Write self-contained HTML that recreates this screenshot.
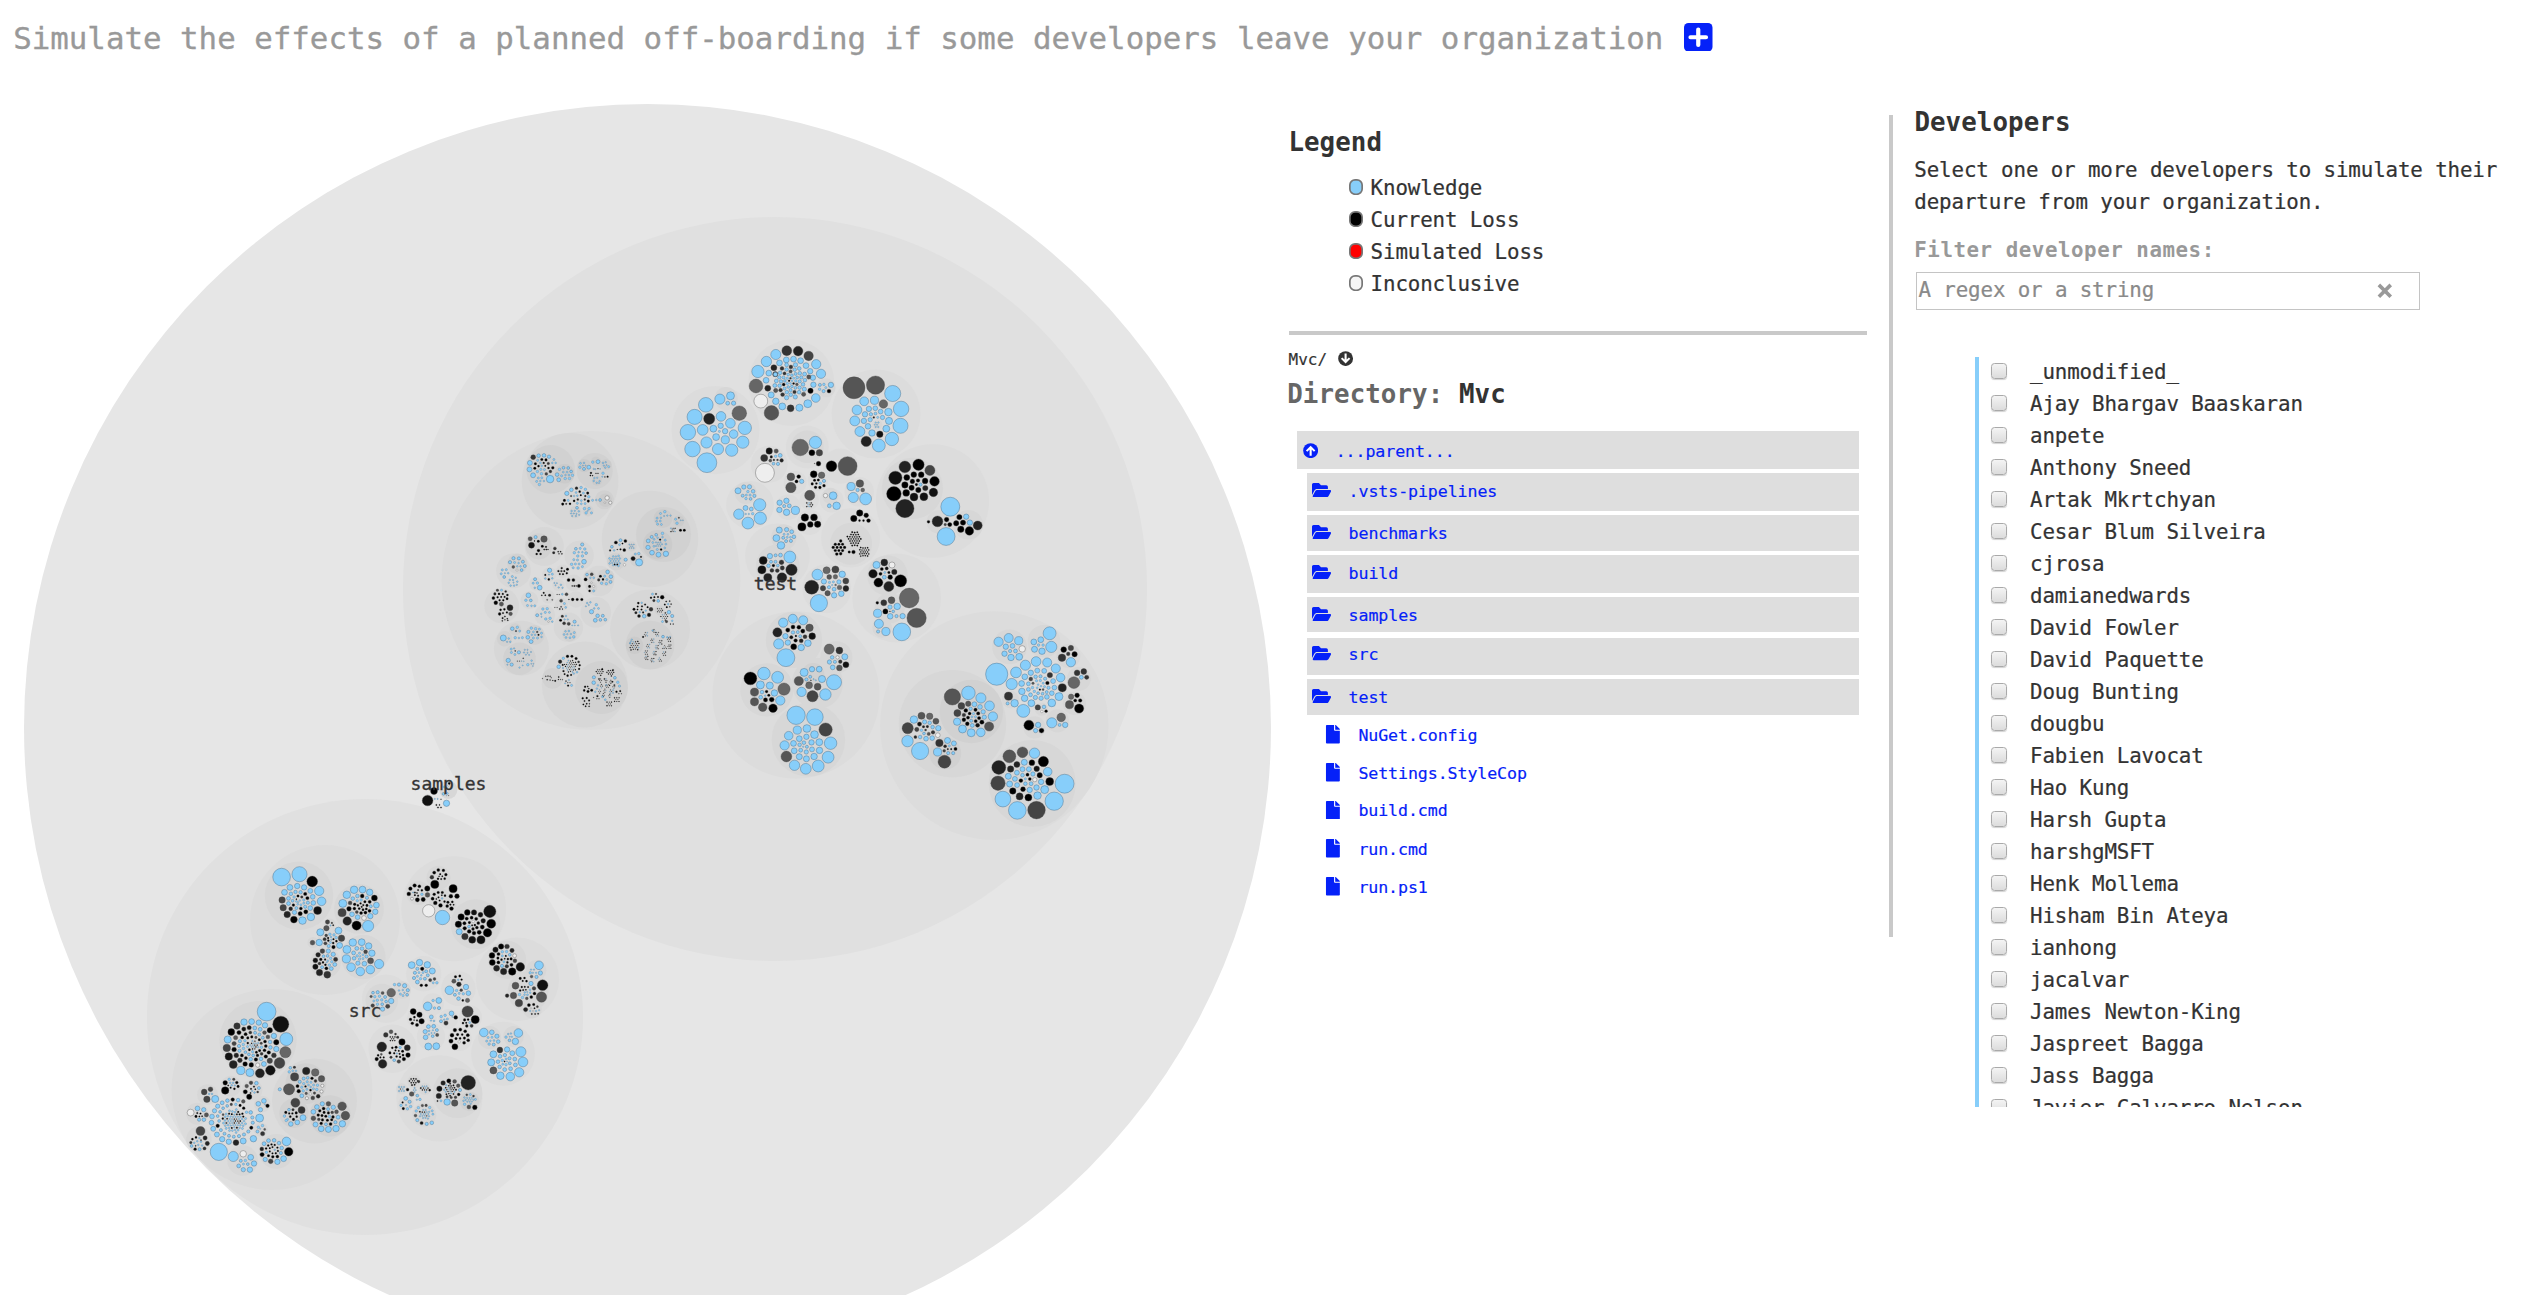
<!DOCTYPE html>
<html lang="en"><head><meta charset="utf-8"><title>Off-boarding simulation</title>
<style>
html,body{margin:0;padding:0;background:#fff}
body{width:2541px;height:1302px;overflow:hidden;position:relative;font-family:"DejaVu Sans Mono","Liberation Mono",monospace}
.t{position:absolute;white-space:pre}
.i{position:absolute;display:block}
.row{position:absolute;background:#dedede}
.lm{position:absolute;width:10.400px;height:12.100px;border:1.750px solid #777;border-radius:6px}
.cb{position:absolute;width:14px;height:14px;border:1px solid #a9a9a9;border-radius:3.500px;background:linear-gradient(#f4f4f4,#dcdcdc);box-shadow:0 1px 1px rgba(0,0,0,.18)}
#viz{position:absolute;left:0;top:0}
#viz text{font-family:"DejaVu Sans Mono","Liberation Mono",monospace;font-size:18px;fill:#333;text-anchor:middle;stroke:#333;stroke-width:.35px}
</style></head>
<body>
<svg id="viz" width="1300" height="1294.5" viewBox="0 0 1300 1294.5">
<circle cx="647.5" cy="727.5" r="623.5" fill="#e6e6e6"/>
<circle cx="775.0" cy="589.0" r="372.0" fill="#e0e0e0"/>
<circle cx="365.0" cy="1017.0" r="218.0" fill="#e0e0e0"/>
<circle cx="591.0" cy="580.5" r="149.5" fill="#dcdcdc"/>
<circle cx="796.0" cy="695.0" r="83.7" fill="#dcdcdc"/>
<circle cx="994.3" cy="725.6" r="114.3" fill="#dcdcdc"/>
<circle cx="896.7" cy="598.0" r="44.5" fill="#dcdcdc"/>
<circle cx="826.7" cy="588.7" r="24.5" fill="#dcdcdc"/>
<circle cx="777.5" cy="556.0" r="32.5" fill="#dcdcdc"/>
<circle cx="715.5" cy="430.1" r="44.1" fill="#dcdcdc"/>
<circle cx="791.3" cy="382.8" r="43.2" fill="#dcdcdc"/>
<circle cx="876.1" cy="414.0" r="44.6" fill="#dcdcdc"/>
<circle cx="932.5" cy="501.0" r="56.7" fill="#dcdcdc"/>
<circle cx="840.4" cy="466.1" r="17.7" fill="#dcdcdc"/>
<circle cx="807.3" cy="447.0" r="21.5" fill="#dcdcdc"/>
<circle cx="769.2" cy="464.2" r="18.5" fill="#dcdcdc"/>
<circle cx="795.2" cy="482.5" r="11.6" fill="#dcdcdc"/>
<circle cx="818.0" cy="480.6" r="10.5" fill="#dcdcdc"/>
<circle cx="809.2" cy="500.0" r="9.9" fill="#dcdcdc"/>
<circle cx="831.8" cy="500.4" r="12.0" fill="#dcdcdc"/>
<circle cx="859.2" cy="491.8" r="14.8" fill="#dcdcdc"/>
<circle cx="750.0" cy="504.9" r="24.0" fill="#dcdcdc"/>
<circle cx="788.2" cy="507.2" r="12.7" fill="#dcdcdc"/>
<circle cx="809.7" cy="522.3" r="12.7" fill="#dcdcdc"/>
<circle cx="850.6" cy="537.8" r="29.6" fill="#dcdcdc"/>
<circle cx="325.0" cy="920.0" r="75.0" fill="#dcdcdc"/>
<circle cx="453.7" cy="908.7" r="52.5" fill="#dcdcdc"/>
<circle cx="423.7" cy="973.7" r="17.7" fill="#dcdcdc"/>
<circle cx="517.5" cy="979.2" r="41.7" fill="#dcdcdc"/>
<circle cx="458.4" cy="988.6" r="17.4" fill="#dcdcdc"/>
<circle cx="386.0" cy="998.7" r="24.2" fill="#dcdcdc"/>
<circle cx="432.9" cy="1004.2" r="11.0" fill="#dcdcdc"/>
<circle cx="416.2" cy="1018.2" r="9.5" fill="#dcdcdc"/>
<circle cx="448.3" cy="1019.0" r="9.9" fill="#dcdcdc"/>
<circle cx="432.0" cy="1018.7" r="4.8" fill="#dcdcdc"/>
<circle cx="470.5" cy="1017.2" r="11.6" fill="#dcdcdc"/>
<circle cx="431.0" cy="1036.6" r="14.2" fill="#dcdcdc"/>
<circle cx="459.8" cy="1038.9" r="12.0" fill="#dcdcdc"/>
<circle cx="392.5" cy="1048.7" r="24.2" fill="#dcdcdc"/>
<circle cx="503.0" cy="1053.7" r="32.0" fill="#dcdcdc"/>
<circle cx="272.0" cy="1089.5" r="100.5" fill="#dcdcdc"/>
<circle cx="439.4" cy="1098.4" r="43.2" fill="#dcdcdc"/>
<circle cx="448.3" cy="789.8" r="9.1" fill="#d7d7d7"/>
<circle cx="726.1" cy="398.6" r="11.6" fill="#d7d7d7"/>
<circle cx="826.1" cy="387.8" r="9.5" fill="#d7d7d7"/>
<circle cx="877.1" cy="424.7" r="5.2" fill="#d7d7d7"/>
<circle cx="912.4" cy="488.4" r="30.6" fill="#d7d7d7"/>
<circle cx="938.2" cy="521.9" r="11.6" fill="#d7d7d7"/>
<circle cx="968.3" cy="524.7" r="14.8" fill="#d7d7d7"/>
<circle cx="807.3" cy="446.7" r="16.3" fill="#d7d7d7"/>
<circle cx="830.5" cy="495.9" r="8.1" fill="#d7d7d7"/>
<circle cx="745.8" cy="492.9" r="11.0" fill="#d7d7d7"/>
<circle cx="851.1" cy="543.8" r="21.0" fill="#d7d7d7"/>
<circle cx="783.9" cy="537.3" r="12.7" fill="#d7d7d7"/>
<circle cx="777.8" cy="566.3" r="22.0" fill="#d7d7d7"/>
<circle cx="887.5" cy="575.4" r="20.2" fill="#d7d7d7"/>
<circle cx="889.7" cy="608.2" r="15.1" fill="#d7d7d7"/>
<circle cx="882.2" cy="627.8" r="9.9" fill="#d7d7d7"/>
<circle cx="794.0" cy="639.9" r="28.2" fill="#d7d7d7"/>
<circle cx="836.4" cy="657.4" r="16.1" fill="#d7d7d7"/>
<circle cx="766.8" cy="689.9" r="26.6" fill="#d7d7d7"/>
<circle cx="817.4" cy="683.3" r="25.6" fill="#d7d7d7"/>
<circle cx="808.4" cy="739.7" r="36.8" fill="#d7d7d7"/>
<circle cx="952.5" cy="723.7" r="53.7" fill="#d7d7d7"/>
<circle cx="1009.6" cy="646.9" r="17.4" fill="#d7d7d7"/>
<circle cx="1044.0" cy="641.2" r="16.3" fill="#d7d7d7"/>
<circle cx="1068.4" cy="656.1" r="12.0" fill="#d7d7d7"/>
<circle cx="1078.9" cy="678.7" r="12.0" fill="#d7d7d7"/>
<circle cx="1074.4" cy="703.4" r="11.6" fill="#d7d7d7"/>
<circle cx="1057.4" cy="720.8" r="11.6" fill="#d7d7d7"/>
<circle cx="1034.5" cy="727.3" r="11.1" fill="#d7d7d7"/>
<circle cx="1041.6" cy="709.1" r="6.7" fill="#d7d7d7"/>
<circle cx="1010.6" cy="699.6" r="8.8" fill="#d7d7d7"/>
<circle cx="1032.2" cy="783.5" r="43.5" fill="#d7d7d7"/>
<circle cx="299.0" cy="895.7" r="34.2" fill="#d7d7d7"/>
<circle cx="359.0" cy="908.9" r="24.9" fill="#d7d7d7"/>
<circle cx="329.9" cy="924.0" r="5.6" fill="#d7d7d7"/>
<circle cx="313.0" cy="942.5" r="5.6" fill="#d7d7d7"/>
<circle cx="330.5" cy="939.8" r="12.9" fill="#d7d7d7"/>
<circle cx="325.4" cy="962.9" r="15.3" fill="#d7d7d7"/>
<circle cx="363.3" cy="957.0" r="22.3" fill="#d7d7d7"/>
<circle cx="438.5" cy="877.7" r="12.0" fill="#d7d7d7"/>
<circle cx="418.1" cy="893.0" r="12.0" fill="#d7d7d7"/>
<circle cx="439.4" cy="898.9" r="10.8" fill="#d7d7d7"/>
<circle cx="450.2" cy="905.4" r="6.2" fill="#d7d7d7"/>
<circle cx="475.6" cy="924.2" r="24.9" fill="#d7d7d7"/>
<circle cx="507.1" cy="959.9" r="19.1" fill="#d7d7d7"/>
<circle cx="536.1" cy="970.3" r="10.4" fill="#d7d7d7"/>
<circle cx="528.1" cy="991.6" r="20.4" fill="#d7d7d7"/>
<circle cx="532.4" cy="1009.0" r="9.5" fill="#d7d7d7"/>
<circle cx="381.8" cy="1000.0" r="16.3" fill="#d7d7d7"/>
<circle cx="402.3" cy="990.0" r="8.8" fill="#d7d7d7"/>
<circle cx="489.6" cy="1037.6" r="11.6" fill="#d7d7d7"/>
<circle cx="513.5" cy="1036.5" r="10.4" fill="#d7d7d7"/>
<circle cx="314.5" cy="1101.0" r="42.5" fill="#d7d7d7"/>
<circle cx="258.0" cy="1039.8" r="38.7" fill="#d7d7d7"/>
<circle cx="207.5" cy="1094.7" r="10.4" fill="#d7d7d7"/>
<circle cx="230.8" cy="1086.1" r="10.4" fill="#d7d7d7"/>
<circle cx="252.1" cy="1089.8" r="10.4" fill="#d7d7d7"/>
<circle cx="197.3" cy="1113.7" r="11.0" fill="#d7d7d7"/>
<circle cx="262.3" cy="1104.1" r="8.3" fill="#d7d7d7"/>
<circle cx="260.7" cy="1129.6" r="7.2" fill="#d7d7d7"/>
<circle cx="198.9" cy="1139.2" r="12.7" fill="#d7d7d7"/>
<circle cx="242.6" cy="1160.5" r="15.3" fill="#d7d7d7"/>
<circle cx="276.3" cy="1151.4" r="17.4" fill="#d7d7d7"/>
<circle cx="457.6" cy="1093.2" r="24.9" fill="#d7d7d7"/>
<circle cx="414.1" cy="1081.4" r="6.7" fill="#d7d7d7"/>
<circle cx="401.7" cy="1088.9" r="5.6" fill="#d7d7d7"/>
<circle cx="424.8" cy="1088.9" r="6.1" fill="#d7d7d7"/>
<circle cx="406.0" cy="1103.7" r="7.7" fill="#d7d7d7"/>
<circle cx="424.3" cy="1114.7" r="12.0" fill="#d7d7d7"/>
<circle cx="570.1" cy="481.4" r="48.3" fill="#d7d7d7"/>
<circle cx="650.0" cy="539.0" r="48.2" fill="#d7d7d7"/>
<circle cx="544.3" cy="546.5" r="19.5" fill="#d7d7d7"/>
<circle cx="579.1" cy="555.4" r="14.7" fill="#d7d7d7"/>
<circle cx="513.5" cy="570.8" r="17.4" fill="#d7d7d7"/>
<circle cx="549.4" cy="574.6" r="7.2" fill="#d7d7d7"/>
<circle cx="562.7" cy="571.3" r="6.7" fill="#d7d7d7"/>
<circle cx="573.8" cy="582.8" r="8.3" fill="#d7d7d7"/>
<circle cx="535.8" cy="583.7" r="6.7" fill="#d7d7d7"/>
<circle cx="558.4" cy="585.0" r="6.1" fill="#d7d7d7"/>
<circle cx="599.0" cy="581.0" r="15.3" fill="#d7d7d7"/>
<circle cx="529.4" cy="600.1" r="8.8" fill="#d7d7d7"/>
<circle cx="548.0" cy="596.8" r="6.7" fill="#d7d7d7"/>
<circle cx="575.9" cy="599.5" r="8.3" fill="#d7d7d7"/>
<circle cx="561.4" cy="604.5" r="6.7" fill="#d7d7d7"/>
<circle cx="501.7" cy="605.8" r="17.4" fill="#d7d7d7"/>
<circle cx="544.7" cy="615.1" r="10.4" fill="#d7d7d7"/>
<circle cx="568.4" cy="627.3" r="14.7" fill="#d7d7d7"/>
<circle cx="595.8" cy="612.4" r="15.3" fill="#d7d7d7"/>
<circle cx="521.4" cy="648.2" r="27.5" fill="#d7d7d7"/>
<circle cx="650.0" cy="629.5" r="40.0" fill="#d7d7d7"/>
<circle cx="584.8" cy="684.4" r="43.0" fill="#d7d7d7"/>
<circle cx="813.1" cy="674.4" r="11.3" fill="#d1d1d1"/>
<circle cx="945.3" cy="753.4" r="15.9" fill="#d1d1d1"/>
<circle cx="971.4" cy="711.5" r="31.7" fill="#d1d1d1"/>
<circle cx="305.9" cy="1083.7" r="20.4" fill="#d1d1d1"/>
<circle cx="294.0" cy="1113.2" r="14.7" fill="#d1d1d1"/>
<circle cx="330.1" cy="1115.9" r="20.6" fill="#d1d1d1"/>
<circle cx="469.5" cy="1101.3" r="9.9" fill="#d1d1d1"/>
<circle cx="550.6" cy="469.4" r="24.3" fill="#d1d1d1"/>
<circle cx="594.7" cy="471.0" r="18.0" fill="#d1d1d1"/>
<circle cx="575.4" cy="512.1" r="6.1" fill="#d1d1d1"/>
<circle cx="588.0" cy="510.8" r="5.6" fill="#d1d1d1"/>
<circle cx="604.4" cy="499.7" r="9.5" fill="#d1d1d1"/>
<circle cx="663.5" cy="534.5" r="27.5" fill="#d1d1d1"/>
<circle cx="631.6" cy="546.3" r="5.1" fill="#d1d1d1"/>
<circle cx="615.9" cy="561.5" r="9.0" fill="#d1d1d1"/>
<circle cx="637.2" cy="559.7" r="7.2" fill="#d1d1d1"/>
<circle cx="538.8" cy="546.3" r="13.1" fill="#d1d1d1"/>
<circle cx="517.3" cy="563.8" r="10.2" fill="#d1d1d1"/>
<circle cx="589.6" cy="576.4" r="6.1" fill="#d1d1d1"/>
<circle cx="605.7" cy="577.5" r="8.8" fill="#d1d1d1"/>
<circle cx="591.7" cy="587.2" r="5.6" fill="#d1d1d1"/>
<circle cx="569.5" cy="634.5" r="7.2" fill="#d1d1d1"/>
<circle cx="515.2" cy="629.4" r="6.1" fill="#d1d1d1"/>
<circle cx="504.6" cy="638.8" r="7.7" fill="#d1d1d1"/>
<circle cx="534.7" cy="635.0" r="9.9" fill="#d1d1d1"/>
<circle cx="519.5" cy="658.7" r="16.3" fill="#d1d1d1"/>
<circle cx="659.8" cy="610.3" r="5.1" fill="#d1d1d1"/>
<circle cx="650.1" cy="645.0" r="24.3" fill="#d1d1d1"/>
<circle cx="601.4" cy="687.5" r="26.5" fill="#d1d1d1"/>
<circle cx="552.6" cy="678.4" r="10.4" fill="#d1d1d1"/>
<circle cx="564.6" cy="473.7" r="9.9" fill="#cbcbcb"/>
<circle cx="584.2" cy="465.6" r="6.7" fill="#cbcbcb"/>
<circle cx="596.0" cy="461.9" r="5.1" fill="#cbcbcb"/>
<circle cx="606.0" cy="464.8" r="5.6" fill="#cbcbcb"/>
<circle cx="596.9" cy="480.7" r="5.1" fill="#cbcbcb"/>
<circle cx="605.3" cy="500.3" r="6.7" fill="#cbcbcb"/>
<circle cx="663.0" cy="518.5" r="9.4" fill="#cbcbcb"/>
<circle cx="678.8" cy="521.0" r="5.6" fill="#cbcbcb"/>
<circle cx="657.6" cy="544.7" r="14.7" fill="#cbcbcb"/>
<circle cx="634.5" cy="645.2" r="8.8" fill="#cbcbcb"/>
<g stroke="#4d6f8a" stroke-width="0.45" fill="#87cefa">
<circle cx="706.9" cy="462.7" r="9.89"/>
<circle cx="692.5" cy="449.1" r="7.74"/>
<circle cx="687.9" cy="432.2" r="7.74"/>
<circle cx="694.6" cy="416.9" r="7.53"/>
<circle cx="705.8" cy="404.8" r="7.31"/>
<circle cx="719.9" cy="399.1" r="5.05"/>
<circle cx="730.5" cy="395.8" r="3.98"/>
<circle cx="721.0" cy="416.4" r="4.84"/>
<circle cx="730.4" cy="423.3" r="4.84"/>
<circle cx="744.8" cy="427.9" r="6.67"/>
<circle cx="742.8" cy="442.2" r="6.13"/>
<circle cx="731.7" cy="450.2" r="6.13"/>
<circle cx="718.0" cy="449.1" r="5.59"/>
<circle cx="706.5" cy="442.5" r="5.59"/>
<circle cx="702.7" cy="429.9" r="5.38"/>
<circle cx="713.4" cy="428.7" r="3.44"/>
<circle cx="720.7" cy="425.8" r="2.69"/>
<circle cx="725.1" cy="431.2" r="2.69"/>
<circle cx="733.6" cy="434.1" r="4.30"/>
<circle cx="725.3" cy="439.8" r="4.09"/>
<circle cx="716.1" cy="437.1" r="3.44"/>
<circle cx="775.8" cy="354.5" r="5.05"/>
<circle cx="766.4" cy="361.5" r="5.16"/>
<circle cx="757.9" cy="371.5" r="6.13"/>
<circle cx="816.2" cy="364.2" r="4.62"/>
<circle cx="821.0" cy="373.8" r="4.62"/>
<circle cx="815.8" cy="398.0" r="4.30"/>
<circle cx="807.8" cy="403.7" r="3.98"/>
<circle cx="799.4" cy="407.7" r="3.55"/>
<circle cx="782.3" cy="406.4" r="3.44"/>
<circle cx="775.8" cy="401.3" r="3.23"/>
<circle cx="771.2" cy="394.9" r="3.01"/>
<circle cx="813.4" cy="384.7" r="2.69"/>
<circle cx="812.9" cy="377.7" r="2.69"/>
<circle cx="810.2" cy="371.2" r="2.69"/>
<circle cx="806.0" cy="365.6" r="2.90"/>
<circle cx="800.6" cy="360.7" r="2.90"/>
<circle cx="793.5" cy="359.1" r="2.90"/>
<circle cx="786.3" cy="359.9" r="2.90"/>
<circle cx="779.5" cy="362.9" r="2.90"/>
<circle cx="768.8" cy="373.1" r="2.90"/>
<circle cx="766.1" cy="380.3" r="2.90"/>
<circle cx="830.9" cy="384.9" r="2.69"/>
<circle cx="892.7" cy="393.5" r="8.06"/>
<circle cx="901.1" cy="408.9" r="7.74"/>
<circle cx="900.5" cy="425.8" r="7.53"/>
<circle cx="891.9" cy="439.0" r="6.67"/>
<circle cx="878.8" cy="445.5" r="6.45"/>
<circle cx="859.9" cy="431.5" r="4.95"/>
<circle cx="854.8" cy="420.9" r="4.95"/>
<circle cx="857.0" cy="410.0" r="4.84"/>
<circle cx="864.2" cy="401.3" r="4.41"/>
<circle cx="874.5" cy="400.3" r="4.09"/>
<circle cx="888.4" cy="412.1" r="3.76"/>
<circle cx="889.0" cy="420.9" r="3.55"/>
<circle cx="886.3" cy="428.7" r="3.44"/>
<circle cx="872.0" cy="433.0" r="3.23"/>
<circle cx="868.0" cy="426.3" r="2.80"/>
<circle cx="863.9" cy="420.9" r="2.69"/>
<circle cx="865.0" cy="414.3" r="2.69"/>
<circle cx="868.9" cy="408.9" r="2.69"/>
<circle cx="950.3" cy="506.7" r="9.46"/>
<circle cx="946.1" cy="536.5" r="8.92"/>
<circle cx="966.2" cy="516.7" r="2.69"/>
<circle cx="969.9" cy="522.6" r="2.69"/>
<circle cx="815.4" cy="442.4" r="6.13"/>
<circle cx="833.1" cy="495.7" r="3.87"/>
<circle cx="836.6" cy="505.8" r="3.76"/>
<circle cx="851.1" cy="486.5" r="4.09"/>
<circle cx="853.3" cy="497.5" r="5.05"/>
<circle cx="865.6" cy="498.9" r="5.91"/>
<circle cx="738.0" cy="490.8" r="3.01"/>
<circle cx="759.7" cy="504.8" r="6.13"/>
<circle cx="738.8" cy="514.2" r="5.16"/>
<circle cx="760.3" cy="518.2" r="6.13"/>
<circle cx="747.9" cy="523.1" r="5.91"/>
<circle cx="779.6" cy="502.7" r="2.69"/>
<circle cx="786.4" cy="500.8" r="2.69"/>
<circle cx="779.4" cy="509.9" r="2.69"/>
<circle cx="786.6" cy="512.3" r="3.23"/>
<circle cx="795.4" cy="510.4" r="4.09"/>
<circle cx="779.3" cy="530.1" r="3.01"/>
<circle cx="776.4" cy="538.1" r="3.44"/>
<circle cx="781.0" cy="545.4" r="3.76"/>
<circle cx="789.8" cy="557.0" r="5.91"/>
<circle cx="769.9" cy="556.1" r="2.69"/>
<circle cx="817.4" cy="574.6" r="5.38"/>
<circle cx="842.2" cy="574.3" r="3.23"/>
<circle cx="841.3" cy="593.7" r="2.80"/>
<circle cx="834.1" cy="595.3" r="2.69"/>
<circle cx="818.9" cy="603.1" r="8.60"/>
<circle cx="823.9" cy="581.5" r="2.58"/>
<circle cx="876.5" cy="564.9" r="3.55"/>
<circle cx="901.8" cy="631.9" r="8.82"/>
<circle cx="897.2" cy="606.4" r="3.23"/>
<circle cx="877.6" cy="613.3" r="4.09"/>
<circle cx="890.2" cy="616.3" r="2.80"/>
<circle cx="902.6" cy="616.1" r="2.69"/>
<circle cx="878.9" cy="623.8" r="4.52"/>
<circle cx="885.9" cy="631.5" r="4.09"/>
<circle cx="783.2" cy="622.7" r="4.62"/>
<circle cx="792.8" cy="618.8" r="4.52"/>
<circle cx="803.2" cy="620.3" r="4.52"/>
<circle cx="807.9" cy="643.2" r="3.33"/>
<circle cx="801.2" cy="647.5" r="3.23"/>
<circle cx="787.8" cy="642.6" r="2.69"/>
<circle cx="785.4" cy="636.2" r="2.69"/>
<circle cx="778.7" cy="643.9" r="5.05"/>
<circle cx="785.9" cy="657.7" r="8.92"/>
<circle cx="844.8" cy="656.8" r="3.01"/>
<circle cx="763.9" cy="673.5" r="6.24"/>
<circle cx="777.6" cy="677.3" r="5.91"/>
<circle cx="780.3" cy="700.5" r="4.62"/>
<circle cx="760.4" cy="684.9" r="3.98"/>
<circle cx="769.8" cy="685.6" r="3.55"/>
<circle cx="774.4" cy="693.0" r="3.23"/>
<circle cx="804.1" cy="672.4" r="3.98"/>
<circle cx="812.0" cy="669.2" r="2.69"/>
<circle cx="819.2" cy="669.2" r="2.90"/>
<circle cx="822.0" cy="679.0" r="3.55"/>
<circle cx="834.0" cy="682.2" r="7.53"/>
<circle cx="825.4" cy="694.5" r="5.70"/>
<circle cx="801.6" cy="691.9" r="4.62"/>
<circle cx="796.1" cy="715.3" r="9.14"/>
<circle cx="814.9" cy="717.1" r="8.28"/>
<circle cx="830.6" cy="743.2" r="6.24"/>
<circle cx="828.1" cy="757.2" r="5.91"/>
<circle cx="818.2" cy="766.0" r="5.91"/>
<circle cx="805.8" cy="768.8" r="5.38"/>
<circle cx="794.5" cy="765.3" r="5.16"/>
<circle cx="784.6" cy="745.4" r="4.62"/>
<circle cx="788.7" cy="735.7" r="4.30"/>
<circle cx="797.3" cy="730.1" r="4.09"/>
<circle cx="806.9" cy="728.5" r="3.87"/>
<circle cx="814.5" cy="734.6" r="3.87"/>
<circle cx="819.3" cy="742.2" r="3.44"/>
<circle cx="819.5" cy="750.4" r="3.23"/>
<circle cx="814.1" cy="756.5" r="3.23"/>
<circle cx="806.4" cy="758.8" r="3.01"/>
<circle cx="799.3" cy="756.7" r="3.01"/>
<circle cx="794.2" cy="750.8" r="2.90"/>
<circle cx="793.5" cy="743.4" r="2.90"/>
<circle cx="799.3" cy="738.7" r="2.90"/>
<circle cx="806.4" cy="736.8" r="2.69"/>
<circle cx="811.5" cy="742.4" r="2.69"/>
<circle cx="913.9" cy="719.6" r="3.76"/>
<circle cx="938.3" cy="728.2" r="2.69"/>
<circle cx="907.5" cy="741.1" r="5.70"/>
<circle cx="920.1" cy="751.0" r="8.60"/>
<circle cx="947.5" cy="740.5" r="3.01"/>
<circle cx="937.6" cy="752.0" r="4.09"/>
<circle cx="968.4" cy="692.9" r="6.77"/>
<circle cx="980.9" cy="698.0" r="5.05"/>
<circle cx="989.5" cy="705.8" r="4.84"/>
<circle cx="992.9" cy="716.5" r="4.62"/>
<circle cx="980.8" cy="732.4" r="4.30"/>
<circle cx="971.2" cy="732.8" r="3.98"/>
<circle cx="962.5" cy="729.0" r="3.98"/>
<circle cx="957.1" cy="721.7" r="3.66"/>
<circle cx="998.6" cy="641.8" r="4.62"/>
<circle cx="1008.7" cy="638.0" r="4.52"/>
<circle cx="1018.7" cy="640.7" r="4.09"/>
<circle cx="1019.2" cy="656.8" r="3.44"/>
<circle cx="1011.0" cy="657.5" r="3.23"/>
<circle cx="1004.5" cy="653.7" r="2.69"/>
<circle cx="1005.8" cy="646.7" r="2.69"/>
<circle cx="1049.6" cy="633.3" r="6.45"/>
<circle cx="1051.3" cy="646.9" r="5.59"/>
<circle cx="1042.0" cy="651.2" r="3.23"/>
<circle cx="1034.5" cy="649.3" r="3.01"/>
<circle cx="1033.8" cy="641.9" r="2.90"/>
<circle cx="1040.8" cy="639.7" r="2.90"/>
<circle cx="1070.9" cy="662.2" r="4.62"/>
<circle cx="1051.8" cy="722.8" r="5.05"/>
<circle cx="1065.2" cy="724.9" r="2.69"/>
<circle cx="1038.1" cy="724.9" r="2.69"/>
<circle cx="1014.6" cy="703.2" r="3.76"/>
<circle cx="996.7" cy="674.2" r="11.08"/>
<circle cx="1011.7" cy="684.0" r="5.59"/>
<circle cx="1016.0" cy="672.4" r="5.38"/>
<circle cx="1025.4" cy="665.2" r="5.05"/>
<circle cx="1036.1" cy="661.5" r="4.84"/>
<circle cx="1047.2" cy="662.5" r="4.52"/>
<circle cx="1055.8" cy="668.5" r="4.52"/>
<circle cx="1060.6" cy="677.6" r="4.30"/>
<circle cx="1059.0" cy="696.6" r="3.98"/>
<circle cx="1051.8" cy="702.9" r="3.87"/>
<circle cx="1023.3" cy="710.9" r="6.45"/>
<circle cx="1031.4" cy="703.2" r="3.44"/>
<circle cx="1024.6" cy="698.3" r="3.23"/>
<circle cx="1021.9" cy="691.4" r="3.23"/>
<circle cx="1021.6" cy="683.5" r="2.90"/>
<circle cx="1024.8" cy="676.8" r="2.90"/>
<circle cx="1030.8" cy="672.8" r="2.69"/>
<circle cx="1034.5" cy="753.2" r="5.16"/>
<circle cx="1002.9" cy="799.1" r="7.85"/>
<circle cx="1017.3" cy="810.4" r="8.82"/>
<circle cx="1054.2" cy="801.2" r="9.14"/>
<circle cx="1064.6" cy="783.7" r="9.46"/>
<circle cx="1047.7" cy="771.7" r="4.30"/>
<circle cx="1044.7" cy="789.6" r="3.98"/>
<circle cx="1037.5" cy="795.6" r="3.76"/>
<circle cx="1009.6" cy="784.0" r="3.01"/>
<circle cx="1008.3" cy="776.3" r="3.01"/>
<circle cx="1024.3" cy="762.3" r="3.01"/>
<circle cx="1041.1" cy="781.9" r="2.69"/>
<circle cx="1036.5" cy="787.5" r="2.69"/>
<circle cx="1029.7" cy="789.9" r="2.69"/>
<circle cx="281.6" cy="877.1" r="8.82"/>
<circle cx="299.5" cy="874.2" r="7.53"/>
<circle cx="319.2" cy="890.9" r="4.62"/>
<circle cx="321.6" cy="901.3" r="4.30"/>
<circle cx="310.9" cy="917.0" r="3.76"/>
<circle cx="302.5" cy="920.6" r="3.76"/>
<circle cx="284.5" cy="892.3" r="2.90"/>
<circle cx="289.9" cy="887.4" r="2.90"/>
<circle cx="297.2" cy="886.0" r="2.69"/>
<circle cx="304.1" cy="887.4" r="2.69"/>
<circle cx="354.1" cy="889.8" r="3.76"/>
<circle cx="362.5" cy="889.6" r="3.44"/>
<circle cx="369.7" cy="892.3" r="3.23"/>
<circle cx="376.4" cy="905.1" r="2.90"/>
<circle cx="375.3" cy="911.8" r="2.69"/>
<circle cx="370.3" cy="916.1" r="2.69"/>
<circle cx="368.1" cy="926.0" r="5.59"/>
<circle cx="342.8" cy="903.4" r="3.98"/>
<circle cx="346.8" cy="894.8" r="3.76"/>
<circle cx="320.3" cy="932.3" r="3.55"/>
<circle cx="338.5" cy="930.6" r="3.44"/>
<circle cx="339.6" cy="945.4" r="3.01"/>
<circle cx="319.2" cy="942.5" r="3.23"/>
<circle cx="352.8" cy="942.5" r="3.76"/>
<circle cx="361.7" cy="942.2" r="3.44"/>
<circle cx="368.7" cy="946.0" r="3.23"/>
<circle cx="371.9" cy="953.2" r="3.23"/>
<circle cx="379.1" cy="964.0" r="4.62"/>
<circle cx="370.3" cy="969.6" r="4.30"/>
<circle cx="360.3" cy="971.5" r="4.30"/>
<circle cx="351.1" cy="967.2" r="4.30"/>
<circle cx="346.4" cy="958.9" r="4.09"/>
<circle cx="346.9" cy="949.5" r="3.98"/>
<circle cx="442.5" cy="917.5" r="7.20"/>
<circle cx="459.2" cy="931.7" r="3.01"/>
<circle cx="411.7" cy="965.1" r="3.44"/>
<circle cx="419.5" cy="962.6" r="3.23"/>
<circle cx="427.3" cy="964.8" r="3.23"/>
<circle cx="432.3" cy="971.0" r="3.01"/>
<circle cx="539.0" cy="965.3" r="4.30"/>
<circle cx="449.4" cy="990.3" r="4.30"/>
<circle cx="466.0" cy="987.0" r="2.69"/>
<circle cx="391.2" cy="1001.0" r="2.69"/>
<circle cx="427.7" cy="1006.3" r="4.30"/>
<circle cx="438.8" cy="1000.5" r="2.90"/>
<circle cx="428.3" cy="1046.5" r="3.44"/>
<circle cx="436.3" cy="1046.2" r="3.44"/>
<circle cx="483.8" cy="1032.5" r="4.30"/>
<circle cx="518.4" cy="1033.0" r="4.30"/>
<circle cx="515.4" cy="1041.4" r="3.23"/>
<circle cx="507.1" cy="1049.5" r="2.69"/>
<circle cx="520.9" cy="1051.8" r="5.05"/>
<circle cx="523.0" cy="1062.0" r="4.84"/>
<circle cx="519.2" cy="1072.3" r="4.62"/>
<circle cx="510.3" cy="1076.6" r="4.30"/>
<circle cx="500.4" cy="1075.7" r="3.76"/>
<circle cx="491.2" cy="1062.4" r="3.55"/>
<circle cx="493.4" cy="1054.3" r="3.44"/>
<circle cx="266.6" cy="1011.6" r="9.35"/>
<circle cx="286.3" cy="1039.1" r="6.45"/>
<circle cx="249.9" cy="1072.6" r="3.98"/>
<circle cx="240.8" cy="1070.5" r="4.09"/>
<circle cx="227.7" cy="1039.5" r="3.55"/>
<circle cx="244.0" cy="1022.1" r="3.23"/>
<circle cx="251.6" cy="1021.6" r="2.90"/>
<circle cx="258.8" cy="1022.6" r="2.69"/>
<circle cx="265.0" cy="1025.3" r="2.69"/>
<circle cx="273.9" cy="1035.9" r="2.69"/>
<circle cx="276.3" cy="1049.0" r="2.69"/>
<circle cx="215.2" cy="1099.0" r="3.55"/>
<circle cx="259.6" cy="1118.1" r="3.98"/>
<circle cx="253.4" cy="1138.7" r="3.23"/>
<circle cx="243.2" cy="1141.0" r="3.01"/>
<circle cx="228.8" cy="1141.7" r="2.69"/>
<circle cx="222.2" cy="1139.2" r="2.69"/>
<circle cx="218.8" cy="1151.9" r="8.60"/>
<circle cx="233.3" cy="1156.5" r="5.05"/>
<circle cx="250.7" cy="1157.3" r="2.90"/>
<circle cx="254.0" cy="1163.5" r="2.69"/>
<circle cx="249.9" cy="1169.7" r="2.69"/>
<circle cx="286.5" cy="1141.4" r="4.30"/>
<circle cx="283.6" cy="1158.7" r="2.90"/>
<circle cx="277.4" cy="1161.8" r="2.69"/>
<circle cx="303.0" cy="1117.7" r="3.01"/>
<circle cx="342.4" cy="1123.8" r="3.23"/>
<circle cx="336.0" cy="1128.6" r="3.23"/>
<circle cx="328.4" cy="1129.4" r="3.01"/>
<circle cx="321.2" cy="1128.8" r="2.90"/>
<circle cx="447.1" cy="1102.0" r="3.23"/>
<circle cx="446.5" cy="803.3" r="3.15"/>
<circle cx="550.1" cy="479.1" r="3.76"/>
<circle cx="665.9" cy="553.8" r="2.69"/>
<circle cx="639.1" cy="562.4" r="3.55"/>
<circle cx="503.3" cy="638.0" r="3.01"/>
</g><g stroke="#444" stroke-width="0.36">
<circle cx="739.3" cy="413.2" r="7.31" fill="#666"/>
<circle cx="709.2" cy="418.8" r="5.59" fill="#222"/>
<circle cx="786.8" cy="350.7" r="4.95" fill="#333"/>
<circle cx="798.1" cy="351.1" r="4.84" fill="#222"/>
<circle cx="808.6" cy="355.9" r="4.73" fill="#444"/>
<circle cx="756.0" cy="386.0" r="6.88" fill="#666"/>
<circle cx="760.8" cy="401.1" r="6.88" fill="#eee"/>
<circle cx="771.5" cy="412.9" r="7.31" fill="#555"/>
<circle cx="790.6" cy="408.3" r="3.44" fill="#333"/>
<circle cx="767.8" cy="388.2" r="3.01" fill="#222"/>
<circle cx="810.5" cy="390.8" r="2.69" fill="#000"/>
<circle cx="773.9" cy="367.7" r="3.01" fill="#222"/>
<circle cx="775.3" cy="374.2" r="2.58" fill="#333"/>
<circle cx="854.0" cy="387.8" r="10.97" fill="#555"/>
<circle cx="875.5" cy="385.1" r="9.14" fill="#555"/>
<circle cx="866.2" cy="441.4" r="5.16" fill="#222"/>
<circle cx="879.8" cy="434.2" r="3.23" fill="#111"/>
<circle cx="883.4" cy="404.0" r="4.30" fill="#666"/>
<circle cx="904.9" cy="466.9" r="5.91" fill="#222"/>
<circle cx="918.5" cy="464.7" r="5.70" fill="#000"/>
<circle cx="929.9" cy="470.4" r="5.05" fill="#444"/>
<circle cx="934.5" cy="481.4" r="4.84" fill="#000"/>
<circle cx="933.4" cy="492.4" r="4.30" fill="#111"/>
<circle cx="923.9" cy="496.7" r="3.98" fill="#111"/>
<circle cx="914.0" cy="497.0" r="3.98" fill="#111"/>
<circle cx="906.2" cy="492.9" r="3.44" fill="#000"/>
<circle cx="893.9" cy="493.8" r="7.31" fill="#000"/>
<circle cx="895.4" cy="477.8" r="6.67" fill="#111"/>
<circle cx="904.9" cy="508.5" r="9.14" fill="#222"/>
<circle cx="906.8" cy="477.6" r="3.01" fill="#000"/>
<circle cx="913.8" cy="474.6" r="2.90" fill="#000"/>
<circle cx="921.2" cy="474.7" r="2.90" fill="#000"/>
<circle cx="925.1" cy="480.9" r="2.90" fill="#000"/>
<circle cx="925.3" cy="488.1" r="2.69" fill="#222"/>
<circle cx="918.3" cy="490.0" r="2.69" fill="#000"/>
<circle cx="911.6" cy="487.8" r="2.69" fill="#000"/>
<circle cx="904.9" cy="484.9" r="3.23" fill="#000"/>
<circle cx="937.5" cy="521.4" r="5.38" fill="#222"/>
<circle cx="959.4" cy="517.1" r="2.69" fill="#000"/>
<circle cx="956.2" cy="523.3" r="2.69" fill="#000"/>
<circle cx="963.0" cy="522.6" r="2.69" fill="#000"/>
<circle cx="977.7" cy="525.5" r="4.52" fill="#222"/>
<circle cx="960.8" cy="529.2" r="3.23" fill="#000"/>
<circle cx="969.4" cy="530.9" r="4.30" fill="#000"/>
<circle cx="831.5" cy="466.1" r="5.38" fill="#000"/>
<circle cx="847.6" cy="466.1" r="9.46" fill="#555"/>
<circle cx="800.3" cy="447.5" r="8.28" fill="#666"/>
<circle cx="811.9" cy="452.7" r="3.01" fill="#000"/>
<circle cx="819.4" cy="452.7" r="3.23" fill="#444"/>
<circle cx="769.2" cy="451.0" r="3.23" fill="#111"/>
<circle cx="764.2" cy="458.0" r="3.55" fill="#333"/>
<circle cx="764.9" cy="472.8" r="9.46" fill="#eee"/>
<circle cx="790.9" cy="476.8" r="3.87" fill="#555"/>
<circle cx="790.9" cy="487.5" r="5.16" fill="#555"/>
<circle cx="813.7" cy="474.2" r="3.44" fill="#000"/>
<circle cx="821.6" cy="475.2" r="3.23" fill="#666"/>
<circle cx="809.7" cy="495.4" r="5.05" fill="#555"/>
<circle cx="859.9" cy="483.5" r="3.76" fill="#555"/>
<circle cx="804.9" cy="517.6" r="3.76" fill="#000"/>
<circle cx="814.0" cy="517.4" r="3.44" fill="#000"/>
<circle cx="801.9" cy="526.9" r="4.09" fill="#000"/>
<circle cx="810.3" cy="524.4" r="2.90" fill="#000"/>
<circle cx="817.6" cy="524.2" r="3.23" fill="#000"/>
<circle cx="859.7" cy="513.1" r="3.23" fill="#000"/>
<circle cx="853.8" cy="518.5" r="3.23" fill="#000"/>
<circle cx="763.2" cy="560.4" r="3.98" fill="#111"/>
<circle cx="791.5" cy="569.8" r="5.70" fill="#222"/>
<circle cx="761.9" cy="569.8" r="4.09" fill="#111"/>
<circle cx="767.8" cy="577.6" r="4.09" fill="#222"/>
<circle cx="782.0" cy="577.6" r="4.84" fill="#222"/>
<circle cx="826.6" cy="570.3" r="3.55" fill="#666"/>
<circle cx="835.4" cy="569.5" r="3.55" fill="#444"/>
<circle cx="845.8" cy="581.0" r="3.01" fill="#444"/>
<circle cx="845.9" cy="588.5" r="2.90" fill="#222"/>
<circle cx="827.6" cy="593.2" r="2.69" fill="#555"/>
<circle cx="823.0" cy="588.3" r="2.69" fill="#444"/>
<circle cx="811.7" cy="587.2" r="6.99" fill="#222"/>
<circle cx="884.3" cy="562.5" r="3.44" fill="#222"/>
<circle cx="892.0" cy="565.0" r="3.01" fill="#eee"/>
<circle cx="873.0" cy="573.8" r="4.30" fill="#111"/>
<circle cx="894.3" cy="571.9" r="2.69" fill="#222"/>
<circle cx="900.6" cy="580.8" r="6.13" fill="#000"/>
<circle cx="878.4" cy="582.6" r="4.52" fill="#000"/>
<circle cx="888.8" cy="586.5" r="5.05" fill="#222"/>
<circle cx="909.2" cy="598.0" r="9.89" fill="#666"/>
<circle cx="916.6" cy="617.9" r="9.68" fill="#555"/>
<circle cx="883.8" cy="602.8" r="3.01" fill="#333"/>
<circle cx="891.5" cy="600.2" r="3.44" fill="#555"/>
<circle cx="885.4" cy="611.4" r="2.58" fill="#000"/>
<circle cx="809.5" cy="627.8" r="3.76" fill="#555"/>
<circle cx="812.2" cy="636.2" r="3.33" fill="#111"/>
<circle cx="793.7" cy="646.7" r="3.01" fill="#000"/>
<circle cx="777.4" cy="632.4" r="4.62" fill="#222"/>
<circle cx="829.2" cy="649.1" r="5.05" fill="#666"/>
<circle cx="839.4" cy="650.5" r="3.44" fill="#333"/>
<circle cx="845.9" cy="664.7" r="3.01" fill="#111"/>
<circle cx="839.4" cy="667.9" r="2.90" fill="#555"/>
<circle cx="750.4" cy="678.4" r="6.45" fill="#000"/>
<circle cx="784.0" cy="689.1" r="6.13" fill="#666"/>
<circle cx="773.0" cy="708.2" r="4.30" fill="#000"/>
<circle cx="762.7" cy="707.2" r="4.30" fill="#555"/>
<circle cx="754.5" cy="701.8" r="4.09" fill="#555"/>
<circle cx="754.5" cy="692.1" r="4.09" fill="#555"/>
<circle cx="812.5" cy="696.2" r="5.59" fill="#444"/>
<circle cx="798.8" cy="681.0" r="4.62" fill="#555"/>
<circle cx="809.1" cy="685.3" r="3.44" fill="#666"/>
<circle cx="817.6" cy="686.7" r="3.44" fill="#555"/>
<circle cx="825.6" cy="729.6" r="6.67" fill="#444"/>
<circle cx="786.4" cy="756.5" r="5.38" fill="#555"/>
<circle cx="907.7" cy="728.2" r="5.59" fill="#444"/>
<circle cx="921.5" cy="715.8" r="3.55" fill="#555"/>
<circle cx="929.7" cy="716.3" r="3.23" fill="#666"/>
<circle cx="935.9" cy="721.2" r="3.01" fill="#555"/>
<circle cx="939.4" cy="742.9" r="3.76" fill="#333"/>
<circle cx="944.5" cy="761.7" r="6.45" fill="#444"/>
<circle cx="952.4" cy="696.9" r="8.17" fill="#555"/>
<circle cx="989.1" cy="726.5" r="4.62" fill="#555"/>
<circle cx="957.4" cy="713.1" r="3.55" fill="#444"/>
<circle cx="961.4" cy="705.9" r="3.44" fill="#444"/>
<circle cx="968.2" cy="703.7" r="2.69" fill="#555"/>
<circle cx="1022.2" cy="648.9" r="3.23" fill="#eee"/>
<circle cx="1063.7" cy="649.6" r="2.90" fill="#000"/>
<circle cx="1070.9" cy="648.0" r="2.69" fill="#444"/>
<circle cx="1074.6" cy="654.2" r="2.69" fill="#000"/>
<circle cx="1062.0" cy="657.7" r="3.76" fill="#333"/>
<circle cx="1077.1" cy="672.8" r="2.90" fill="#333"/>
<circle cx="1083.8" cy="671.5" r="2.90" fill="#333"/>
<circle cx="1073.9" cy="682.6" r="5.91" fill="#666"/>
<circle cx="1071.1" cy="696.7" r="2.69" fill="#666"/>
<circle cx="1069.5" cy="704.7" r="4.09" fill="#555"/>
<circle cx="1079.1" cy="708.5" r="4.62" fill="#000"/>
<circle cx="1061.2" cy="717.4" r="4.30" fill="#666"/>
<circle cx="1028.9" cy="725.2" r="5.05" fill="#000"/>
<circle cx="1037.8" cy="707.4" r="2.69" fill="#444"/>
<circle cx="1008.5" cy="696.2" r="4.09" fill="#333"/>
<circle cx="1062.3" cy="687.8" r="4.09" fill="#222"/>
<circle cx="1049.9" cy="675.1" r="2.69" fill="#333"/>
<circle cx="1009.4" cy="756.3" r="6.45" fill="#555"/>
<circle cx="1022.5" cy="752.3" r="5.38" fill="#555"/>
<circle cx="1043.4" cy="761.5" r="5.16" fill="#000"/>
<circle cx="998.8" cy="767.4" r="6.99" fill="#222"/>
<circle cx="998.0" cy="783.2" r="7.20" fill="#444"/>
<circle cx="1036.5" cy="810.1" r="8.82" fill="#444"/>
<circle cx="1049.7" cy="781.6" r="3.98" fill="#000"/>
<circle cx="1028.4" cy="797.5" r="3.55" fill="#000"/>
<circle cx="1019.6" cy="796.4" r="3.55" fill="#222"/>
<circle cx="1012.8" cy="791.0" r="3.23" fill="#000"/>
<circle cx="1010.6" cy="769.0" r="3.23" fill="#222"/>
<circle cx="1016.9" cy="764.5" r="3.01" fill="#222"/>
<circle cx="1031.9" cy="762.7" r="2.90" fill="#000"/>
<circle cx="1036.7" cy="768.7" r="2.80" fill="#111"/>
<circle cx="1039.7" cy="775.2" r="2.69" fill="#000"/>
<circle cx="312.2" cy="881.5" r="5.38" fill="#000"/>
<circle cx="317.6" cy="910.5" r="3.98" fill="#111"/>
<circle cx="293.9" cy="919.6" r="3.44" fill="#000"/>
<circle cx="287.2" cy="914.5" r="3.23" fill="#222"/>
<circle cx="283.2" cy="907.7" r="3.23" fill="#444"/>
<circle cx="282.1" cy="900.0" r="3.23" fill="#444"/>
<circle cx="374.4" cy="898.1" r="3.01" fill="#000"/>
<circle cx="356.6" cy="925.6" r="4.62" fill="#000"/>
<circle cx="347.2" cy="921.0" r="4.30" fill="#222"/>
<circle cx="342.1" cy="912.7" r="4.09" fill="#444"/>
<circle cx="326.4" cy="928.2" r="2.69" fill="#555"/>
<circle cx="341.5" cy="938.2" r="3.23" fill="#444"/>
<circle cx="327.3" cy="974.7" r="3.44" fill="#333"/>
<circle cx="319.5" cy="972.6" r="3.23" fill="#222"/>
<circle cx="315.4" cy="966.7" r="2.69" fill="#111"/>
<circle cx="370.6" cy="960.8" r="3.01" fill="#555"/>
<circle cx="434.8" cy="884.4" r="4.09" fill="#000"/>
<circle cx="427.3" cy="888.5" r="2.69" fill="#000"/>
<circle cx="453.1" cy="888.7" r="4.09" fill="#000"/>
<circle cx="428.7" cy="910.8" r="6.13" fill="#eee"/>
<circle cx="489.8" cy="911.5" r="6.13" fill="#111"/>
<circle cx="491.2" cy="923.7" r="4.52" fill="#000"/>
<circle cx="487.5" cy="932.8" r="4.30" fill="#000"/>
<circle cx="481.0" cy="939.8" r="4.09" fill="#111"/>
<circle cx="472.2" cy="939.8" r="3.55" fill="#111"/>
<circle cx="464.9" cy="936.6" r="3.23" fill="#333"/>
<circle cx="458.4" cy="924.2" r="3.23" fill="#000"/>
<circle cx="461.1" cy="916.9" r="3.23" fill="#000"/>
<circle cx="467.3" cy="912.4" r="2.90" fill="#000"/>
<circle cx="474.0" cy="912.4" r="2.69" fill="#111"/>
<circle cx="501.1" cy="946.5" r="2.69" fill="#000"/>
<circle cx="495.5" cy="949.7" r="2.69" fill="#111"/>
<circle cx="492.0" cy="955.4" r="2.90" fill="#000"/>
<circle cx="492.3" cy="962.4" r="3.01" fill="#000"/>
<circle cx="496.6" cy="968.3" r="3.01" fill="#222"/>
<circle cx="503.6" cy="971.5" r="3.23" fill="#222"/>
<circle cx="512.2" cy="971.5" r="3.76" fill="#000"/>
<circle cx="520.3" cy="966.9" r="4.30" fill="#111"/>
<circle cx="542.6" cy="985.2" r="5.38" fill="#111"/>
<circle cx="541.5" cy="997.0" r="5.16" fill="#555"/>
<circle cx="515.5" cy="985.7" r="3.44" fill="#555"/>
<circle cx="513.5" cy="995.6" r="3.23" fill="#555"/>
<circle cx="518.9" cy="1003.1" r="3.76" fill="#444"/>
<circle cx="391.2" cy="992.7" r="4.30" fill="#666"/>
<circle cx="413.2" cy="1011.5" r="3.01" fill="#000"/>
<circle cx="419.5" cy="1014.7" r="2.69" fill="#000"/>
<circle cx="421.6" cy="1021.2" r="2.69" fill="#000"/>
<circle cx="467.6" cy="1011.5" r="5.59" fill="#444"/>
<circle cx="475.2" cy="1019.6" r="4.09" fill="#000"/>
<circle cx="454.9" cy="1046.8" r="3.01" fill="#000"/>
<circle cx="402.0" cy="1041.9" r="3.23" fill="#000"/>
<circle cx="381.8" cy="1046.8" r="4.84" fill="#222"/>
<circle cx="407.3" cy="1047.8" r="3.01" fill="#222"/>
<circle cx="382.6" cy="1063.9" r="4.30" fill="#222"/>
<circle cx="499.9" cy="1050.0" r="2.90" fill="#333"/>
<circle cx="493.4" cy="1070.4" r="3.55" fill="#555"/>
<circle cx="280.8" cy="1024.2" r="8.06" fill="#111"/>
<circle cx="285.4" cy="1052.2" r="5.59" fill="#666"/>
<circle cx="279.5" cy="1063.0" r="5.38" fill="#444"/>
<circle cx="270.4" cy="1070.3" r="4.84" fill="#111"/>
<circle cx="259.9" cy="1073.2" r="4.52" fill="#222"/>
<circle cx="233.3" cy="1064.6" r="3.98" fill="#222"/>
<circle cx="228.8" cy="1056.5" r="3.76" fill="#111"/>
<circle cx="226.8" cy="1047.9" r="3.76" fill="#444"/>
<circle cx="231.3" cy="1032.0" r="3.44" fill="#000"/>
<circle cx="237.0" cy="1026.1" r="3.23" fill="#333"/>
<circle cx="269.8" cy="1030.2" r="2.69" fill="#000"/>
<circle cx="276.3" cy="1042.3" r="2.69" fill="#000"/>
<circle cx="269.8" cy="1060.8" r="2.69" fill="#444"/>
<circle cx="306.2" cy="1071.0" r="3.76" fill="#222"/>
<circle cx="315.2" cy="1072.4" r="3.76" fill="#666"/>
<circle cx="321.5" cy="1078.8" r="3.23" fill="#555"/>
<circle cx="294.6" cy="1076.9" r="4.09" fill="#444"/>
<circle cx="289.0" cy="1089.3" r="5.59" fill="#555"/>
<circle cx="204.2" cy="1092.0" r="2.90" fill="#444"/>
<circle cx="206.9" cy="1099.3" r="3.23" fill="#444"/>
<circle cx="225.2" cy="1090.4" r="3.76" fill="#000"/>
<circle cx="249.2" cy="1096.8" r="2.69" fill="#000"/>
<circle cx="190.6" cy="1112.6" r="3.44" fill="#eee"/>
<circle cx="236.0" cy="1142.6" r="2.90" fill="#222"/>
<circle cx="200.5" cy="1131.0" r="4.52" fill="#444"/>
<circle cx="243.2" cy="1153.8" r="3.23" fill="#eee"/>
<circle cx="288.7" cy="1151.7" r="4.30" fill="#000"/>
<circle cx="295.4" cy="1102.7" r="4.52" fill="#444"/>
<circle cx="301.6" cy="1110.0" r="3.55" fill="#333"/>
<circle cx="342.1" cy="1106.2" r="4.30" fill="#555"/>
<circle cx="345.4" cy="1115.6" r="4.30" fill="#555"/>
<circle cx="468.2" cy="1082.7" r="7.31" fill="#222"/>
<circle cx="439.4" cy="1088.7" r="2.69" fill="#111"/>
<circle cx="438.8" cy="1095.9" r="2.69" fill="#222"/>
<circle cx="454.7" cy="1103.1" r="3.23" fill="#555"/>
<circle cx="427.6" cy="800.5" r="5.35" fill="#111"/>
<circle cx="434.0" cy="791.0" r="3.46" fill="#000"/>
<circle cx="544.0" cy="539.1" r="3.23" fill="#555"/>
<circle cx="531.5" cy="545.2" r="3.01" fill="#111"/>
<circle cx="510.0" cy="607.7" r="3.01" fill="#222"/>
</g>
<g stroke="#4d6f8a" stroke-width="0.42" fill="#87cefa">
<circle cx="727.7" cy="403.2" r="1.94"/>
<circle cx="733.6" cy="403.2" r="2.15"/>
<circle cx="784.9" cy="380.9" r="1.31"/>
<circle cx="791.9" cy="386.4" r="1.35"/>
<circle cx="791.9" cy="375.2" r="1.36"/>
<circle cx="788.2" cy="387.0" r="1.37"/>
<circle cx="788.2" cy="374.6" r="1.38"/>
<circle cx="797.2" cy="377.5" r="1.44"/>
<circle cx="795.4" cy="387.9" r="1.47"/>
<circle cx="783.5" cy="377.4" r="1.52"/>
<circle cx="795.6" cy="373.9" r="1.53"/>
<circle cx="784.6" cy="388.5" r="1.55"/>
<circle cx="790.6" cy="390.1" r="1.59"/>
<circle cx="799.7" cy="381.4" r="1.66"/>
<circle cx="801.3" cy="377.4" r="1.68"/>
<circle cx="781.0" cy="381.4" r="1.71"/>
<circle cx="779.3" cy="377.3" r="1.73"/>
<circle cx="794.7" cy="369.7" r="1.78"/>
<circle cx="799.6" cy="387.6" r="1.80"/>
<circle cx="786.8" cy="392.2" r="1.80"/>
<circle cx="799.8" cy="373.2" r="1.82"/>
<circle cx="786.6" cy="369.5" r="1.82"/>
<circle cx="803.0" cy="384.4" r="1.82"/>
<circle cx="779.6" cy="385.7" r="1.83"/>
<circle cx="780.1" cy="372.8" r="1.84"/>
<circle cx="799.1" cy="392.2" r="1.84"/>
<circle cx="804.9" cy="380.1" r="1.88"/>
<circle cx="799.2" cy="368.5" r="1.88"/>
<circle cx="790.7" cy="394.7" r="1.89"/>
<circle cx="786.6" cy="364.8" r="1.93"/>
<circle cx="776.3" cy="380.9" r="1.94"/>
<circle cx="774.8" cy="385.5" r="1.95"/>
<circle cx="804.6" cy="374.1" r="2.00"/>
<circle cx="804.3" cy="389.2" r="2.10"/>
<circle cx="775.4" cy="374.4" r="2.11"/>
<circle cx="795.3" cy="396.9" r="2.15"/>
<circle cx="786.6" cy="397.7" r="2.16"/>
<circle cx="795.5" cy="364.8" r="2.17"/>
<circle cx="819.9" cy="384.9" r="1.51"/>
<circle cx="823.6" cy="391.1" r="1.61"/>
<circle cx="875.3" cy="408.3" r="2.37"/>
<circle cx="880.6" cy="411.6" r="2.37"/>
<circle cx="882.5" cy="417.5" r="2.15"/>
<circle cx="870.2" cy="419.7" r="2.15"/>
<circle cx="870.9" cy="414.3" r="1.72"/>
<circle cx="875.5" cy="413.6" r="1.40"/>
<circle cx="920.5" cy="484.6" r="1.61"/>
<circle cx="780.2" cy="455.4" r="1.94"/>
<circle cx="773.5" cy="463.7" r="1.40"/>
<circle cx="778.0" cy="463.9" r="1.61"/>
<circle cx="801.7" cy="481.4" r="2.15"/>
<circle cx="824.0" cy="480.9" r="1.61"/>
<circle cx="829.3" cy="505.8" r="1.94"/>
<circle cx="857.6" cy="490.0" r="1.72"/>
<circle cx="743.8" cy="487.0" r="2.15"/>
<circle cx="749.5" cy="486.8" r="2.15"/>
<circle cx="753.1" cy="491.3" r="1.83"/>
<circle cx="742.7" cy="495.7" r="1.51"/>
<circle cx="754.4" cy="495.9" r="1.61"/>
<circle cx="750.6" cy="498.9" r="1.40"/>
<circle cx="745.5" cy="508.0" r="2.47"/>
<circle cx="751.3" cy="509.0" r="1.94"/>
<circle cx="784.2" cy="506.1" r="1.61"/>
<circle cx="789.3" cy="505.8" r="1.94"/>
<circle cx="786.6" cy="529.6" r="2.15"/>
<circle cx="791.7" cy="531.7" r="1.94"/>
<circle cx="793.9" cy="536.8" r="1.83"/>
<circle cx="783.2" cy="537.8" r="1.51"/>
<circle cx="786.1" cy="541.1" r="1.51"/>
<circle cx="790.9" cy="540.9" r="1.61"/>
<circle cx="775.6" cy="555.3" r="1.51"/>
<circle cx="780.5" cy="555.1" r="1.94"/>
<circle cx="771.0" cy="561.8" r="1.51"/>
<circle cx="775.5" cy="561.8" r="1.51"/>
<circle cx="768.5" cy="565.8" r="1.83"/>
<circle cx="777.8" cy="565.6" r="1.40"/>
<circle cx="838.9" cy="581.9" r="2.15"/>
<circle cx="834.1" cy="589.2" r="1.94"/>
<circle cx="829.0" cy="587.2" r="1.61"/>
<circle cx="884.3" cy="577.2" r="1.94"/>
<circle cx="890.0" cy="607.1" r="2.15"/>
<circle cx="893.2" cy="611.4" r="1.40"/>
<circle cx="896.5" cy="616.1" r="1.61"/>
<circle cx="878.1" cy="631.5" r="1.61"/>
<circle cx="793.0" cy="632.4" r="1.72"/>
<circle cx="797.8" cy="632.1" r="1.51"/>
<circle cx="800.2" cy="636.2" r="1.51"/>
<circle cx="832.7" cy="667.4" r="2.37"/>
<circle cx="829.4" cy="662.0" r="2.15"/>
<circle cx="832.2" cy="657.4" r="1.83"/>
<circle cx="834.9" cy="661.8" r="1.61"/>
<circle cx="760.7" cy="697.3" r="1.94"/>
<circle cx="762.0" cy="692.1" r="1.83"/>
<circle cx="810.2" cy="676.8" r="1.51"/>
<circle cx="806.4" cy="679.5" r="1.61"/>
<circle cx="812.0" cy="749.4" r="2.47"/>
<circle cx="806.3" cy="752.0" r="2.15"/>
<circle cx="800.7" cy="750.2" r="1.94"/>
<circle cx="799.6" cy="744.8" r="1.83"/>
<circle cx="803.9" cy="742.7" r="1.83"/>
<circle cx="806.9" cy="746.8" r="1.51"/>
<circle cx="932.2" cy="738.1" r="2.37"/>
<circle cx="926.0" cy="738.7" r="2.37"/>
<circle cx="920.1" cy="737.0" r="1.83"/>
<circle cx="924.6" cy="721.9" r="2.15"/>
<circle cx="929.7" cy="722.8" r="1.83"/>
<circle cx="932.6" cy="727.1" r="1.83"/>
<circle cx="924.0" cy="733.5" r="1.40"/>
<circle cx="953.9" cy="743.4" r="2.47"/>
<circle cx="953.2" cy="753.1" r="1.61"/>
<circle cx="948.2" cy="753.1" r="1.61"/>
<circle cx="974.4" cy="704.3" r="2.47"/>
<circle cx="980.0" cy="706.9" r="2.37"/>
<circle cx="983.2" cy="711.8" r="2.15"/>
<circle cx="984.3" cy="717.2" r="2.15"/>
<circle cx="972.3" cy="725.4" r="1.94"/>
<circle cx="970.6" cy="708.8" r="1.72"/>
<circle cx="971.2" cy="720.8" r="1.51"/>
<circle cx="1012.5" cy="645.9" r="2.37"/>
<circle cx="1015.5" cy="651.0" r="1.94"/>
<circle cx="1010.1" cy="651.0" r="1.61"/>
<circle cx="1081.4" cy="677.3" r="1.94"/>
<circle cx="1059.6" cy="724.9" r="1.51"/>
<circle cx="1035.6" cy="730.6" r="2.15"/>
<circle cx="1044.0" cy="706.9" r="1.83"/>
<circle cx="1007.6" cy="703.4" r="1.51"/>
<circle cx="1037.3" cy="670.6" r="2.47"/>
<circle cx="1044.2" cy="670.9" r="2.47"/>
<circle cx="1053.1" cy="681.1" r="2.47"/>
<circle cx="1054.4" cy="687.6" r="2.37"/>
<circle cx="1051.8" cy="693.2" r="2.37"/>
<circle cx="1046.9" cy="696.9" r="2.37"/>
<circle cx="1041.1" cy="698.3" r="2.15"/>
<circle cx="1035.4" cy="697.5" r="2.15"/>
<circle cx="1030.5" cy="694.8" r="1.94"/>
<circle cx="1028.4" cy="689.4" r="1.94"/>
<circle cx="1028.4" cy="683.8" r="1.94"/>
<circle cx="1035.6" cy="676.8" r="1.83"/>
<circle cx="1040.5" cy="676.3" r="1.61"/>
<circle cx="1045.1" cy="678.7" r="1.61"/>
<circle cx="1048.5" cy="687.8" r="1.61"/>
<circle cx="1046.7" cy="692.1" r="1.51"/>
<circle cx="1042.6" cy="693.7" r="1.40"/>
<circle cx="1038.1" cy="693.2" r="1.40"/>
<circle cx="1017.1" cy="785.1" r="2.47"/>
<circle cx="1014.9" cy="778.9" r="2.47"/>
<circle cx="1016.9" cy="772.7" r="2.47"/>
<circle cx="1022.5" cy="769.2" r="2.47"/>
<circle cx="1028.9" cy="769.2" r="2.47"/>
<circle cx="1032.9" cy="774.0" r="2.15"/>
<circle cx="1031.1" cy="783.7" r="1.94"/>
<circle cx="1025.4" cy="783.7" r="1.83"/>
<circle cx="1022.5" cy="775.2" r="1.83"/>
<circle cx="310.3" cy="890.9" r="2.47"/>
<circle cx="312.7" cy="896.8" r="2.37"/>
<circle cx="313.3" cy="902.9" r="2.37"/>
<circle cx="310.3" cy="908.1" r="2.37"/>
<circle cx="294.5" cy="912.4" r="2.15"/>
<circle cx="288.5" cy="903.5" r="1.94"/>
<circle cx="288.5" cy="898.4" r="1.94"/>
<circle cx="290.9" cy="893.8" r="1.83"/>
<circle cx="295.5" cy="891.9" r="1.72"/>
<circle cx="300.6" cy="892.2" r="1.72"/>
<circle cx="307.9" cy="902.7" r="1.61"/>
<circle cx="305.2" cy="906.8" r="1.61"/>
<circle cx="296.4" cy="908.1" r="1.51"/>
<circle cx="292.6" cy="900.8" r="1.40"/>
<circle cx="357.6" cy="917.2" r="2.37"/>
<circle cx="352.0" cy="914.3" r="2.37"/>
<circle cx="352.8" cy="898.6" r="1.83"/>
<circle cx="357.4" cy="896.0" r="1.83"/>
<circle cx="367.0" cy="897.8" r="1.61"/>
<circle cx="370.8" cy="906.2" r="1.51"/>
<circle cx="328.7" cy="946.0" r="1.61"/>
<circle cx="328.3" cy="951.1" r="2.15"/>
<circle cx="333.2" cy="954.3" r="2.15"/>
<circle cx="334.8" cy="964.5" r="1.94"/>
<circle cx="331.3" cy="968.6" r="1.94"/>
<circle cx="322.1" cy="967.2" r="1.51"/>
<circle cx="323.5" cy="956.2" r="1.40"/>
<circle cx="327.6" cy="955.9" r="1.40"/>
<circle cx="362.0" cy="948.6" r="1.83"/>
<circle cx="356.8" cy="948.4" r="1.94"/>
<circle cx="353.6" cy="952.9" r="1.94"/>
<circle cx="354.1" cy="958.3" r="1.83"/>
<circle cx="357.9" cy="963.2" r="2.15"/>
<circle cx="364.4" cy="963.7" r="2.37"/>
<circle cx="366.5" cy="956.5" r="1.61"/>
<circle cx="469.0" cy="926.6" r="1.40"/>
<circle cx="509.8" cy="954.8" r="1.40"/>
<circle cx="502.0" cy="965.9" r="1.61"/>
<circle cx="417.4" cy="968.8" r="1.61"/>
<circle cx="414.9" cy="972.8" r="1.61"/>
<circle cx="426.2" cy="971.3" r="1.51"/>
<circle cx="427.8" cy="975.3" r="1.51"/>
<circle cx="424.9" cy="978.7" r="1.51"/>
<circle cx="414.0" cy="978.0" r="1.61"/>
<circle cx="417.4" cy="982.0" r="1.94"/>
<circle cx="540.4" cy="973.0" r="2.15"/>
<circle cx="536.5" cy="976.9" r="1.61"/>
<circle cx="531.0" cy="983.5" r="2.15"/>
<circle cx="468.4" cy="993.2" r="2.37"/>
<circle cx="454.9" cy="994.8" r="1.51"/>
<circle cx="458.5" cy="998.6" r="1.83"/>
<circle cx="377.7" cy="992.2" r="1.61"/>
<circle cx="373.0" cy="992.7" r="1.40"/>
<circle cx="385.1" cy="997.0" r="1.51"/>
<circle cx="386.1" cy="1001.5" r="1.40"/>
<circle cx="382.2" cy="1004.2" r="1.40"/>
<circle cx="382.6" cy="1009.1" r="2.15"/>
<circle cx="399.0" cy="984.6" r="1.61"/>
<circle cx="404.6" cy="985.7" r="2.15"/>
<circle cx="407.8" cy="990.2" r="1.61"/>
<circle cx="407.1" cy="994.8" r="1.40"/>
<circle cx="439.0" cy="1008.1" r="1.61"/>
<circle cx="451.5" cy="1013.4" r="2.37"/>
<circle cx="441.0" cy="1021.2" r="1.51"/>
<circle cx="431.3" cy="1016.9" r="1.94"/>
<circle cx="428.4" cy="1026.6" r="1.94"/>
<circle cx="433.7" cy="1026.3" r="1.94"/>
<circle cx="436.9" cy="1030.1" r="1.51"/>
<circle cx="425.2" cy="1031.6" r="2.15"/>
<circle cx="425.6" cy="1037.3" r="2.37"/>
<circle cx="432.7" cy="1036.2" r="1.40"/>
<circle cx="394.2" cy="1060.2" r="1.40"/>
<circle cx="491.8" cy="1032.3" r="2.37"/>
<circle cx="496.9" cy="1036.2" r="2.15"/>
<circle cx="498.2" cy="1041.6" r="1.83"/>
<circle cx="493.7" cy="1044.6" r="1.51"/>
<circle cx="509.5" cy="1040.3" r="1.40"/>
<circle cx="512.3" cy="1053.2" r="2.47"/>
<circle cx="500.1" cy="1056.3" r="1.83"/>
<circle cx="504.9" cy="1055.1" r="1.72"/>
<circle cx="509.5" cy="1058.3" r="1.61"/>
<circle cx="514.8" cy="1059.1" r="1.94"/>
<circle cx="515.4" cy="1064.9" r="1.94"/>
<circle cx="510.6" cy="1068.7" r="1.94"/>
<circle cx="504.7" cy="1069.6" r="1.94"/>
<circle cx="499.6" cy="1066.9" r="1.83"/>
<circle cx="498.0" cy="1061.7" r="1.83"/>
<circle cx="509.8" cy="1063.3" r="1.51"/>
<circle cx="263.9" cy="1064.0" r="2.47"/>
<circle cx="254.8" cy="1028.0" r="1.94"/>
<circle cx="260.2" cy="1029.3" r="1.94"/>
<circle cx="270.1" cy="1042.0" r="1.83"/>
<circle cx="270.4" cy="1047.4" r="1.83"/>
<circle cx="261.0" cy="1058.9" r="1.83"/>
<circle cx="250.7" cy="1059.2" r="1.83"/>
<circle cx="239.5" cy="1050.8" r="1.61"/>
<circle cx="239.0" cy="1046.0" r="1.61"/>
<circle cx="239.9" cy="1041.2" r="1.61"/>
<circle cx="255.1" cy="1032.8" r="1.51"/>
<circle cx="259.4" cy="1034.5" r="1.51"/>
<circle cx="262.8" cy="1037.7" r="1.51"/>
<circle cx="253.2" cy="1055.4" r="1.40"/>
<circle cx="248.9" cy="1054.4" r="1.40"/>
<circle cx="245.4" cy="1052.2" r="1.40"/>
<circle cx="279.8" cy="1089.3" r="1.61"/>
<circle cx="301.8" cy="1095.8" r="1.94"/>
<circle cx="299.7" cy="1081.8" r="1.61"/>
<circle cx="303.7" cy="1078.5" r="1.51"/>
<circle cx="307.7" cy="1077.8" r="1.40"/>
<circle cx="290.3" cy="1067.8" r="1.40"/>
<circle cx="256.4" cy="1083.2" r="1.83"/>
<circle cx="258.9" cy="1088.0" r="1.51"/>
<circle cx="197.5" cy="1108.4" r="2.37"/>
<circle cx="203.7" cy="1109.7" r="2.15"/>
<circle cx="203.9" cy="1119.7" r="1.83"/>
<circle cx="199.1" cy="1119.7" r="1.61"/>
<circle cx="263.9" cy="1100.9" r="2.37"/>
<circle cx="258.3" cy="1103.8" r="2.37"/>
<circle cx="260.5" cy="1109.7" r="2.15"/>
<circle cx="216.9" cy="1134.5" r="2.47"/>
<circle cx="213.2" cy="1128.8" r="2.47"/>
<circle cx="211.5" cy="1122.7" r="2.37"/>
<circle cx="212.0" cy="1116.5" r="2.37"/>
<circle cx="214.5" cy="1110.8" r="2.15"/>
<circle cx="217.7" cy="1106.2" r="2.15"/>
<circle cx="222.2" cy="1102.8" r="1.94"/>
<circle cx="227.4" cy="1100.6" r="1.83"/>
<circle cx="238.1" cy="1100.1" r="1.83"/>
<circle cx="250.7" cy="1112.4" r="1.83"/>
<circle cx="252.3" cy="1117.5" r="1.61"/>
<circle cx="252.8" cy="1122.7" r="1.61"/>
<circle cx="248.3" cy="1131.5" r="1.61"/>
<circle cx="244.0" cy="1134.5" r="1.61"/>
<circle cx="239.0" cy="1136.1" r="1.61"/>
<circle cx="233.8" cy="1136.7" r="1.51"/>
<circle cx="229.0" cy="1135.8" r="1.51"/>
<circle cx="224.5" cy="1133.7" r="1.51"/>
<circle cx="220.9" cy="1130.1" r="1.51"/>
<circle cx="219.1" cy="1121.0" r="1.40"/>
<circle cx="217.7" cy="1116.1" r="1.40"/>
<circle cx="220.1" cy="1111.9" r="1.40"/>
<circle cx="223.1" cy="1108.2" r="1.40"/>
<circle cx="227.2" cy="1105.9" r="1.40"/>
<circle cx="257.5" cy="1131.5" r="1.51"/>
<circle cx="199.6" cy="1149.2" r="1.51"/>
<circle cx="191.6" cy="1146.0" r="1.40"/>
<circle cx="243.3" cy="1169.7" r="2.15"/>
<circle cx="238.7" cy="1165.9" r="1.94"/>
<circle cx="240.8" cy="1160.8" r="1.51"/>
<circle cx="247.8" cy="1164.1" r="1.40"/>
<circle cx="265.2" cy="1159.5" r="2.15"/>
<circle cx="264.1" cy="1143.7" r="1.94"/>
<circle cx="268.5" cy="1140.6" r="1.94"/>
<circle cx="274.1" cy="1140.3" r="1.83"/>
<circle cx="279.0" cy="1143.1" r="1.83"/>
<circle cx="281.7" cy="1148.0" r="1.83"/>
<circle cx="280.9" cy="1153.0" r="1.61"/>
<circle cx="289.0" cy="1109.7" r="1.40"/>
<circle cx="290.8" cy="1124.0" r="2.37"/>
<circle cx="297.3" cy="1122.4" r="2.37"/>
<circle cx="322.3" cy="1103.8" r="2.15"/>
<circle cx="316.9" cy="1107.0" r="2.37"/>
<circle cx="313.4" cy="1111.8" r="2.37"/>
<circle cx="333.3" cy="1107.3" r="2.15"/>
<circle cx="338.1" cy="1117.2" r="1.94"/>
<circle cx="315.5" cy="1124.5" r="2.47"/>
<circle cx="328.1" cy="1109.1" r="1.51"/>
<circle cx="335.4" cy="1122.2" r="1.61"/>
<circle cx="326.0" cy="1124.2" r="1.51"/>
<circle cx="460.0" cy="1090.0" r="1.61"/>
<circle cx="417.3" cy="1095.6" r="1.40"/>
<circle cx="405.7" cy="1098.4" r="1.94"/>
<circle cx="409.6" cy="1101.8" r="1.61"/>
<circle cx="426.7" cy="1123.9" r="1.61"/>
<circle cx="431.8" cy="1122.8" r="1.83"/>
<circle cx="417.3" cy="1120.1" r="1.61"/>
<circle cx="443.5" cy="793.9" r="1.39"/>
<circle cx="538.6" cy="455.7" r="1.83"/>
<circle cx="544.0" cy="455.4" r="1.83"/>
<circle cx="549.0" cy="456.7" r="1.72"/>
<circle cx="529.9" cy="462.9" r="2.47"/>
<circle cx="529.5" cy="469.4" r="2.47"/>
<circle cx="533.1" cy="475.3" r="2.47"/>
<circle cx="563.5" cy="467.8" r="1.40"/>
<circle cx="568.2" cy="468.0" r="1.40"/>
<circle cx="571.1" cy="471.5" r="1.40"/>
<circle cx="558.7" cy="479.8" r="1.94"/>
<circle cx="557.1" cy="474.6" r="1.83"/>
<circle cx="584.0" cy="468.9" r="1.51"/>
<circle cx="588.8" cy="467.2" r="1.94"/>
<circle cx="598.0" cy="461.7" r="1.94"/>
<circle cx="571.4" cy="489.8" r="1.83"/>
<circle cx="566.8" cy="493.4" r="2.15"/>
<circle cx="600.1" cy="500.0" r="1.40"/>
<circle cx="577.0" cy="507.8" r="1.40"/>
<circle cx="656.2" cy="534.8" r="1.40"/>
<circle cx="651.7" cy="536.9" r="1.51"/>
<circle cx="648.2" cy="540.9" r="1.94"/>
<circle cx="648.0" cy="547.4" r="2.15"/>
<circle cx="652.0" cy="552.7" r="2.37"/>
<circle cx="658.5" cy="554.7" r="2.47"/>
<circle cx="620.5" cy="540.2" r="1.51"/>
<circle cx="611.9" cy="546.8" r="1.40"/>
<circle cx="625.7" cy="559.7" r="1.61"/>
<circle cx="535.6" cy="537.1" r="1.61"/>
<circle cx="582.2" cy="544.5" r="1.61"/>
<circle cx="575.9" cy="548.8" r="1.40"/>
<circle cx="586.1" cy="553.1" r="1.40"/>
<circle cx="584.0" cy="561.7" r="2.37"/>
<circle cx="513.5" cy="558.2" r="1.61"/>
<circle cx="518.9" cy="558.4" r="1.61"/>
<circle cx="510.0" cy="562.2" r="1.61"/>
<circle cx="522.9" cy="561.7" r="1.51"/>
<circle cx="524.8" cy="566.0" r="1.51"/>
<circle cx="521.6" cy="570.1" r="1.40"/>
<circle cx="504.2" cy="577.0" r="1.40"/>
<circle cx="549.6" cy="570.3" r="2.15"/>
<circle cx="535.1" cy="579.2" r="1.51"/>
<circle cx="539.7" cy="587.7" r="2.37"/>
<circle cx="587.0" cy="574.6" r="1.40"/>
<circle cx="607.6" cy="571.9" r="1.83"/>
<circle cx="610.9" cy="576.7" r="1.83"/>
<circle cx="610.5" cy="581.9" r="1.51"/>
<circle cx="528.4" cy="595.3" r="2.37"/>
<circle cx="530.8" cy="600.4" r="1.40"/>
<circle cx="537.2" cy="615.2" r="1.51"/>
<circle cx="574.6" cy="621.7" r="1.61"/>
<circle cx="591.5" cy="611.7" r="2.15"/>
<circle cx="597.6" cy="615.8" r="1.83"/>
<circle cx="602.8" cy="615.8" r="1.51"/>
<circle cx="595.3" cy="620.3" r="1.94"/>
<circle cx="600.4" cy="619.9" r="1.40"/>
<circle cx="605.3" cy="619.7" r="1.40"/>
<circle cx="512.3" cy="628.7" r="1.83"/>
<circle cx="528.4" cy="631.9" r="1.61"/>
<circle cx="527.8" cy="637.3" r="1.83"/>
<circle cx="531.1" cy="641.6" r="1.94"/>
<circle cx="518.9" cy="652.3" r="1.61"/>
<circle cx="508.2" cy="660.4" r="2.15"/>
<circle cx="511.7" cy="664.6" r="1.61"/>
<circle cx="658.2" cy="600.9" r="1.40"/>
<circle cx="644.2" cy="616.2" r="1.83"/>
<circle cx="668.9" cy="612.2" r="1.83"/>
<circle cx="672.2" cy="616.0" r="1.61"/>
<circle cx="663.0" cy="636.7" r="1.40"/>
<circle cx="593.9" cy="677.3" r="1.61"/>
<circle cx="593.7" cy="682.7" r="1.83"/>
<circle cx="614.9" cy="677.8" r="1.40"/>
<circle cx="558.7" cy="666.8" r="1.83"/>
</g><g stroke="#444" stroke-width="0.34">
<circle cx="796.9" cy="384.4" r="1.39" fill="#555"/>
<circle cx="783.7" cy="384.5" r="1.50" fill="#000"/>
<circle cx="784.5" cy="373.4" r="1.57" fill="#333"/>
<circle cx="790.6" cy="371.4" r="1.65" fill="#555"/>
<circle cx="794.5" cy="392.0" r="1.76" fill="#333"/>
<circle cx="780.6" cy="390.2" r="1.83" fill="#333"/>
<circle cx="790.9" cy="366.9" r="1.90" fill="#333"/>
<circle cx="782.0" cy="368.4" r="1.94" fill="#333"/>
<circle cx="782.6" cy="394.6" r="1.95" fill="#333"/>
<circle cx="803.6" cy="394.3" r="2.13" fill="#555"/>
<circle cx="775.7" cy="390.5" r="2.14" fill="#555"/>
<circle cx="808.8" cy="377.0" r="2.14" fill="#555"/>
<circle cx="829.0" cy="391.1" r="1.94" fill="#000"/>
<circle cx="912.4" cy="481.4" r="2.37" fill="#000"/>
<circle cx="918.0" cy="480.5" r="1.83" fill="#000"/>
<circle cx="928.5" cy="521.8" r="1.40" fill="#000"/>
<circle cx="946.6" cy="519.6" r="2.37" fill="#000"/>
<circle cx="949.8" cy="524.6" r="2.15" fill="#000"/>
<circle cx="818.5" cy="463.7" r="2.37" fill="#000"/>
<circle cx="776.2" cy="451.1" r="2.15" fill="#555"/>
<circle cx="781.6" cy="460.4" r="1.83" fill="#222"/>
<circle cx="770.3" cy="460.6" r="1.51" fill="#555"/>
<circle cx="798.7" cy="476.6" r="1.94" fill="#000"/>
<circle cx="796.5" cy="481.4" r="1.61" fill="#000"/>
<circle cx="824.0" cy="485.7" r="1.40" fill="#000"/>
<circle cx="815.6" cy="487.3" r="1.40" fill="#000"/>
<circle cx="819.9" cy="487.5" r="1.40" fill="#000"/>
<circle cx="825.5" cy="495.6" r="2.15" fill="#eee"/>
<circle cx="862.7" cy="490.0" r="1.94" fill="#666"/>
<circle cx="866.2" cy="515.3" r="2.37" fill="#000"/>
<circle cx="868.5" cy="520.6" r="1.94" fill="#000"/>
<circle cx="842.6" cy="550.6" r="1.31" fill="#000"/>
<circle cx="842.6" cy="544.2" r="1.32" fill="#000"/>
<circle cx="835.3" cy="550.5" r="1.34" fill="#000"/>
<circle cx="835.3" cy="544.3" r="1.36" fill="#000"/>
<circle cx="844.6" cy="547.4" r="1.39" fill="#000"/>
<circle cx="833.2" cy="547.4" r="1.40" fill="#000"/>
<circle cx="840.7" cy="553.8" r="1.43" fill="#000"/>
<circle cx="840.7" cy="541.0" r="1.43" fill="#000"/>
<circle cx="836.8" cy="554.1" r="1.47" fill="#000"/>
<circle cx="853.5" cy="552.0" r="1.83" fill="#000"/>
<circle cx="781.5" cy="562.3" r="2.37" fill="#333"/>
<circle cx="773.4" cy="565.6" r="1.40" fill="#000"/>
<circle cx="782.3" cy="568.0" r="2.15" fill="#333"/>
<circle cx="771.9" cy="570.4" r="1.94" fill="#333"/>
<circle cx="777.3" cy="570.6" r="1.94" fill="#333"/>
<circle cx="829.2" cy="577.0" r="2.47" fill="#555"/>
<circle cx="835.4" cy="576.8" r="2.26" fill="#666"/>
<circle cx="839.5" cy="587.5" r="2.37" fill="#666"/>
<circle cx="881.8" cy="569.0" r="1.61" fill="#000"/>
<circle cx="886.7" cy="568.4" r="1.61" fill="#111"/>
<circle cx="880.5" cy="573.8" r="1.61" fill="#000"/>
<circle cx="890.2" cy="577.2" r="2.37" fill="#000"/>
<circle cx="877.3" cy="602.8" r="1.40" fill="#000"/>
<circle cx="787.8" cy="630.1" r="2.15" fill="#000"/>
<circle cx="793.0" cy="627.0" r="2.04" fill="#000"/>
<circle cx="798.9" cy="627.3" r="2.04" fill="#000"/>
<circle cx="802.8" cy="631.1" r="2.15" fill="#000"/>
<circle cx="805.0" cy="636.7" r="2.04" fill="#333"/>
<circle cx="801.2" cy="640.8" r="2.04" fill="#222"/>
<circle cx="795.6" cy="640.5" r="1.83" fill="#000"/>
<circle cx="791.3" cy="637.3" r="1.72" fill="#111"/>
<circle cx="837.5" cy="657.4" r="1.72" fill="#eee"/>
<circle cx="840.3" cy="661.7" r="1.83" fill="#333"/>
<circle cx="771.7" cy="699.6" r="2.47" fill="#000"/>
<circle cx="765.5" cy="699.9" r="2.15" fill="#000"/>
<circle cx="766.6" cy="691.6" r="1.40" fill="#000"/>
<circle cx="937.8" cy="735.2" r="2.37" fill="#eee"/>
<circle cx="915.4" cy="737.0" r="1.51" fill="#222"/>
<circle cx="916.8" cy="729.5" r="2.15" fill="#444"/>
<circle cx="919.5" cy="724.1" r="2.15" fill="#111"/>
<circle cx="933.0" cy="732.3" r="1.83" fill="#333"/>
<circle cx="928.7" cy="733.9" r="1.61" fill="#555"/>
<circle cx="955.5" cy="748.9" r="1.61" fill="#000"/>
<circle cx="944.2" cy="750.8" r="1.40" fill="#444"/>
<circle cx="945.1" cy="746.2" r="1.51" fill="#222"/>
<circle cx="981.9" cy="722.2" r="2.15" fill="#000"/>
<circle cx="977.6" cy="725.2" r="2.04" fill="#111"/>
<circle cx="967.3" cy="723.8" r="1.94" fill="#000"/>
<circle cx="963.9" cy="719.8" r="1.94" fill="#000"/>
<circle cx="963.9" cy="715.0" r="1.83" fill="#333"/>
<circle cx="965.8" cy="710.4" r="1.94" fill="#000"/>
<circle cx="975.5" cy="709.8" r="1.72" fill="#000"/>
<circle cx="978.2" cy="713.4" r="1.72" fill="#000"/>
<circle cx="979.1" cy="718.1" r="1.72" fill="#000"/>
<circle cx="975.7" cy="721.1" r="1.61" fill="#000"/>
<circle cx="968.0" cy="717.6" r="1.61" fill="#000"/>
<circle cx="969.6" cy="713.4" r="1.51" fill="#000"/>
<circle cx="1068.2" cy="653.9" r="1.83" fill="#333"/>
<circle cx="1086.7" cy="677.3" r="2.15" fill="#333"/>
<circle cx="1077.1" cy="695.3" r="2.37" fill="#000"/>
<circle cx="1075.2" cy="700.5" r="1.61" fill="#000"/>
<circle cx="1080.2" cy="700.5" r="1.83" fill="#000"/>
<circle cx="1041.5" cy="730.6" r="2.47" fill="#000"/>
<circle cx="1046.1" cy="711.2" r="1.40" fill="#000"/>
<circle cx="1030.8" cy="679.0" r="1.94" fill="#444"/>
<circle cx="1047.4" cy="683.0" r="1.83" fill="#000"/>
<circle cx="1023.0" cy="789.2" r="2.47" fill="#000"/>
<circle cx="1034.8" cy="779.7" r="2.15" fill="#eee"/>
<circle cx="1020.9" cy="780.6" r="1.94" fill="#000"/>
<circle cx="1027.5" cy="774.7" r="1.61" fill="#000"/>
<circle cx="1029.8" cy="778.9" r="1.51" fill="#000"/>
<circle cx="305.8" cy="911.8" r="2.15" fill="#000"/>
<circle cx="300.2" cy="913.7" r="2.15" fill="#000"/>
<circle cx="290.7" cy="908.8" r="1.94" fill="#222"/>
<circle cx="305.2" cy="893.9" r="1.72" fill="#000"/>
<circle cx="307.4" cy="898.1" r="1.72" fill="#000"/>
<circle cx="300.9" cy="908.4" r="1.51" fill="#000"/>
<circle cx="293.4" cy="905.1" r="1.40" fill="#000"/>
<circle cx="364.0" cy="918.0" r="2.37" fill="#eee"/>
<circle cx="349.0" cy="908.8" r="2.37" fill="#000"/>
<circle cx="350.1" cy="902.9" r="1.94" fill="#444"/>
<circle cx="362.2" cy="896.0" r="1.94" fill="#000"/>
<circle cx="369.7" cy="901.8" r="1.61" fill="#000"/>
<circle cx="369.5" cy="910.8" r="1.61" fill="#000"/>
<circle cx="365.4" cy="912.6" r="1.61" fill="#000"/>
<circle cx="361.1" cy="912.9" r="1.51" fill="#000"/>
<circle cx="356.8" cy="912.0" r="1.51" fill="#444"/>
<circle cx="354.4" cy="908.6" r="1.51" fill="#000"/>
<circle cx="354.7" cy="904.3" r="1.40" fill="#000"/>
<circle cx="327.5" cy="922.0" r="2.15" fill="#444"/>
<circle cx="333.5" cy="947.1" r="1.83" fill="#000"/>
<circle cx="325.4" cy="943.3" r="1.61" fill="#444"/>
<circle cx="312.5" cy="942.7" r="2.37" fill="#555"/>
<circle cx="324.6" cy="939.2" r="1.61" fill="#333"/>
<circle cx="326.2" cy="935.5" r="1.40" fill="#444"/>
<circle cx="322.4" cy="951.1" r="2.37" fill="#444"/>
<circle cx="335.6" cy="959.4" r="2.15" fill="#333"/>
<circle cx="315.4" cy="960.4" r="2.47" fill="#111"/>
<circle cx="318.1" cy="954.8" r="2.37" fill="#222"/>
<circle cx="326.4" cy="968.3" r="1.61" fill="#000"/>
<circle cx="319.5" cy="963.4" r="1.51" fill="#333"/>
<circle cx="320.8" cy="959.4" r="1.40" fill="#000"/>
<circle cx="365.6" cy="951.8" r="1.94" fill="#444"/>
<circle cx="438.3" cy="869.9" r="1.51" fill="#000"/>
<circle cx="443.4" cy="870.4" r="1.40" fill="#000"/>
<circle cx="445.9" cy="874.7" r="1.40" fill="#000"/>
<circle cx="434.2" cy="872.6" r="1.61" fill="#000"/>
<circle cx="431.9" cy="877.2" r="1.94" fill="#333"/>
<circle cx="414.6" cy="885.5" r="1.83" fill="#000"/>
<circle cx="419.4" cy="886.2" r="1.51" fill="#000"/>
<circle cx="410.4" cy="888.7" r="1.83" fill="#000"/>
<circle cx="408.8" cy="893.9" r="1.94" fill="#000"/>
<circle cx="412.0" cy="898.7" r="1.51" fill="#eee"/>
<circle cx="417.4" cy="899.8" r="2.15" fill="#000"/>
<circle cx="423.2" cy="899.5" r="2.15" fill="#000"/>
<circle cx="427.5" cy="894.9" r="2.37" fill="#555"/>
<circle cx="434.2" cy="894.3" r="1.40" fill="#000"/>
<circle cx="432.6" cy="898.7" r="1.61" fill="#000"/>
<circle cx="435.3" cy="902.9" r="1.94" fill="#000"/>
<circle cx="440.5" cy="905.4" r="1.94" fill="#000"/>
<circle cx="450.9" cy="896.2" r="1.94" fill="#000"/>
<circle cx="457.0" cy="896.2" r="2.37" fill="#000"/>
<circle cx="447.2" cy="906.1" r="1.51" fill="#000"/>
<circle cx="451.5" cy="908.6" r="1.94" fill="#000"/>
<circle cx="480.5" cy="914.8" r="2.47" fill="#111"/>
<circle cx="483.2" cy="920.8" r="2.37" fill="#111"/>
<circle cx="482.3" cy="927.1" r="2.15" fill="#000"/>
<circle cx="479.2" cy="932.3" r="2.15" fill="#000"/>
<circle cx="474.0" cy="933.1" r="1.94" fill="#000"/>
<circle cx="469.2" cy="931.4" r="1.94" fill="#000"/>
<circle cx="464.7" cy="928.3" r="1.83" fill="#000"/>
<circle cx="464.4" cy="923.3" r="1.72" fill="#000"/>
<circle cx="466.7" cy="918.6" r="1.72" fill="#000"/>
<circle cx="471.6" cy="917.7" r="1.61" fill="#000"/>
<circle cx="476.2" cy="918.8" r="1.61" fill="#000"/>
<circle cx="478.3" cy="923.1" r="1.51" fill="#000"/>
<circle cx="476.9" cy="927.6" r="1.51" fill="#000"/>
<circle cx="473.0" cy="929.0" r="1.40" fill="#000"/>
<circle cx="507.0" cy="946.5" r="2.37" fill="#333"/>
<circle cx="512.0" cy="950.5" r="2.15" fill="#222"/>
<circle cx="514.6" cy="955.7" r="1.94" fill="#eee"/>
<circle cx="514.9" cy="960.8" r="1.94" fill="#444"/>
<circle cx="498.5" cy="954.0" r="1.61" fill="#000"/>
<circle cx="511.5" cy="964.8" r="1.61" fill="#000"/>
<circle cx="506.8" cy="966.3" r="1.83" fill="#333"/>
<circle cx="498.4" cy="962.4" r="1.61" fill="#000"/>
<circle cx="422.2" cy="968.8" r="1.83" fill="#000"/>
<circle cx="430.2" cy="980.1" r="1.61" fill="#444"/>
<circle cx="434.5" cy="979.0" r="1.40" fill="#444"/>
<circle cx="421.3" cy="985.3" r="1.40" fill="#000"/>
<circle cx="426.2" cy="985.3" r="1.40" fill="#000"/>
<circle cx="531.6" cy="976.6" r="1.40" fill="#555"/>
<circle cx="507.1" cy="995.7" r="1.83" fill="#222"/>
<circle cx="534.0" cy="988.4" r="1.83" fill="#444"/>
<circle cx="534.5" cy="993.4" r="1.51" fill="#000"/>
<circle cx="531.3" cy="997.0" r="1.51" fill="#000"/>
<circle cx="526.8" cy="998.4" r="1.40" fill="#555"/>
<circle cx="528.9" cy="1005.1" r="1.61" fill="#000"/>
<circle cx="525.6" cy="1009.6" r="2.15" fill="#222"/>
<circle cx="453.9" cy="981.2" r="2.15" fill="#555"/>
<circle cx="458.9" cy="984.3" r="2.37" fill="#222"/>
<circle cx="461.2" cy="990.2" r="1.40" fill="#444"/>
<circle cx="467.5" cy="1000.4" r="2.15" fill="#666"/>
<circle cx="382.6" cy="992.9" r="1.51" fill="#555"/>
<circle cx="387.7" cy="1006.3" r="2.15" fill="#444"/>
<circle cx="372.7" cy="1005.6" r="1.83" fill="#444"/>
<circle cx="417.0" cy="1024.9" r="1.61" fill="#000"/>
<circle cx="412.3" cy="1023.3" r="1.40" fill="#000"/>
<circle cx="410.5" cy="1019.4" r="1.40" fill="#000"/>
<circle cx="455.7" cy="1017.4" r="1.94" fill="#000"/>
<circle cx="446.0" cy="1023.1" r="2.15" fill="#333"/>
<circle cx="466.8" cy="1026.0" r="1.40" fill="#000"/>
<circle cx="471.6" cy="1025.8" r="1.61" fill="#333"/>
<circle cx="437.2" cy="1034.9" r="1.61" fill="#555"/>
<circle cx="454.9" cy="1030.1" r="1.83" fill="#000"/>
<circle cx="460.3" cy="1029.6" r="1.61" fill="#000"/>
<circle cx="465.2" cy="1031.2" r="1.51" fill="#000"/>
<circle cx="467.8" cy="1035.2" r="1.61" fill="#000"/>
<circle cx="468.2" cy="1040.2" r="1.51" fill="#000"/>
<circle cx="464.1" cy="1042.7" r="1.51" fill="#000"/>
<circle cx="451.0" cy="1041.1" r="2.15" fill="#000"/>
<circle cx="452.0" cy="1035.2" r="1.94" fill="#000"/>
<circle cx="391.0" cy="1031.7" r="1.94" fill="#555"/>
<circle cx="385.8" cy="1034.9" r="2.37" fill="#333"/>
<circle cx="408.0" cy="1055.1" r="2.37" fill="#000"/>
<circle cx="403.9" cy="1059.1" r="1.83" fill="#000"/>
<circle cx="398.8" cy="1061.5" r="1.83" fill="#444"/>
<circle cx="376.7" cy="1059.1" r="1.83" fill="#000"/>
<circle cx="273.9" cy="1055.4" r="2.47" fill="#333"/>
<circle cx="257.7" cy="1065.1" r="2.15" fill="#eee"/>
<circle cx="251.3" cy="1064.9" r="2.37" fill="#000"/>
<circle cx="245.1" cy="1064.0" r="2.37" fill="#000"/>
<circle cx="239.9" cy="1060.3" r="2.37" fill="#222"/>
<circle cx="236.3" cy="1055.4" r="2.37" fill="#222"/>
<circle cx="234.1" cy="1049.5" r="2.37" fill="#000"/>
<circle cx="234.1" cy="1043.6" r="2.15" fill="#444"/>
<circle cx="235.6" cy="1037.7" r="2.15" fill="#555"/>
<circle cx="239.0" cy="1032.6" r="2.15" fill="#000"/>
<circle cx="243.8" cy="1029.1" r="2.15" fill="#111"/>
<circle cx="249.2" cy="1027.7" r="2.15" fill="#111"/>
<circle cx="264.5" cy="1032.6" r="1.94" fill="#555"/>
<circle cx="267.9" cy="1036.9" r="1.94" fill="#555"/>
<circle cx="268.8" cy="1052.5" r="1.83" fill="#000"/>
<circle cx="265.8" cy="1056.5" r="1.83" fill="#000"/>
<circle cx="255.9" cy="1059.5" r="1.83" fill="#000"/>
<circle cx="245.9" cy="1058.1" r="1.61" fill="#000"/>
<circle cx="241.9" cy="1055.4" r="1.61" fill="#000"/>
<circle cx="242.2" cy="1037.4" r="1.61" fill="#000"/>
<circle cx="245.6" cy="1034.2" r="1.61" fill="#000"/>
<circle cx="250.3" cy="1032.5" r="1.51" fill="#333"/>
<circle cx="265.0" cy="1041.5" r="1.51" fill="#000"/>
<circle cx="265.8" cy="1046.0" r="1.51" fill="#000"/>
<circle cx="264.5" cy="1050.3" r="1.51" fill="#000"/>
<circle cx="261.6" cy="1053.8" r="1.51" fill="#333"/>
<circle cx="257.5" cy="1055.4" r="1.40" fill="#000"/>
<circle cx="322.3" cy="1085.8" r="1.61" fill="#eee"/>
<circle cx="321.5" cy="1091.5" r="1.61" fill="#eee"/>
<circle cx="318.2" cy="1096.3" r="1.94" fill="#222"/>
<circle cx="312.8" cy="1097.9" r="1.94" fill="#444"/>
<circle cx="306.9" cy="1098.2" r="1.61" fill="#eee"/>
<circle cx="298.7" cy="1091.2" r="1.83" fill="#000"/>
<circle cx="297.5" cy="1086.1" r="1.61" fill="#000"/>
<circle cx="312.0" cy="1078.3" r="1.40" fill="#000"/>
<circle cx="315.5" cy="1081.0" r="1.40" fill="#333"/>
<circle cx="210.5" cy="1089.3" r="2.37" fill="#444"/>
<circle cx="225.2" cy="1082.8" r="2.37" fill="#000"/>
<circle cx="236.8" cy="1082.6" r="1.40" fill="#000"/>
<circle cx="251.0" cy="1082.8" r="1.83" fill="#444"/>
<circle cx="246.7" cy="1086.1" r="1.83" fill="#555"/>
<circle cx="245.3" cy="1091.8" r="2.15" fill="#000"/>
<circle cx="206.4" cy="1114.9" r="2.15" fill="#555"/>
<circle cx="267.5" cy="1105.8" r="1.83" fill="#000"/>
<circle cx="232.7" cy="1099.6" r="1.83" fill="#000"/>
<circle cx="243.3" cy="1101.4" r="1.83" fill="#555"/>
<circle cx="217.7" cy="1125.8" r="1.83" fill="#000"/>
<circle cx="251.3" cy="1127.7" r="1.72" fill="#000"/>
<circle cx="243.7" cy="1108.2" r="1.40" fill="#000"/>
<circle cx="262.6" cy="1133.7" r="2.15" fill="#333"/>
<circle cx="205.1" cy="1138.0" r="2.15" fill="#222"/>
<circle cx="207.3" cy="1143.5" r="2.15" fill="#222"/>
<circle cx="204.5" cy="1148.4" r="1.61" fill="#333"/>
<circle cx="195.1" cy="1149.2" r="1.40" fill="#000"/>
<circle cx="270.7" cy="1161.3" r="2.37" fill="#444"/>
<circle cx="262.1" cy="1154.6" r="2.15" fill="#000"/>
<circle cx="261.8" cy="1149.0" r="1.94" fill="#222"/>
<circle cx="277.4" cy="1156.5" r="1.51" fill="#000"/>
<circle cx="272.8" cy="1156.8" r="1.40" fill="#000"/>
<circle cx="328.4" cy="1103.8" r="2.37" fill="#555"/>
<circle cx="313.4" cy="1118.3" r="2.37" fill="#555"/>
<circle cx="336.5" cy="1111.8" r="1.94" fill="#555"/>
<circle cx="323.6" cy="1108.6" r="1.51" fill="#000"/>
<circle cx="319.8" cy="1110.8" r="1.40" fill="#000"/>
<circle cx="318.2" cy="1115.1" r="1.40" fill="#000"/>
<circle cx="318.8" cy="1119.4" r="1.40" fill="#444"/>
<circle cx="332.2" cy="1112.4" r="1.40" fill="#444"/>
<circle cx="333.0" cy="1117.0" r="1.40" fill="#000"/>
<circle cx="330.6" cy="1124.0" r="1.51" fill="#000"/>
<circle cx="321.2" cy="1123.4" r="1.40" fill="#000"/>
<circle cx="448.8" cy="1080.9" r="2.15" fill="#000"/>
<circle cx="454.6" cy="1081.4" r="1.94" fill="#555"/>
<circle cx="443.1" cy="1083.0" r="2.37" fill="#222"/>
<circle cx="458.2" cy="1085.7" r="1.83" fill="#555"/>
<circle cx="458.7" cy="1094.5" r="1.40" fill="#000"/>
<circle cx="455.5" cy="1097.3" r="1.40" fill="#444"/>
<circle cx="474.8" cy="1107.4" r="2.37" fill="#000"/>
<circle cx="468.9" cy="1107.0" r="1.94" fill="#555"/>
<circle cx="407.6" cy="1089.7" r="1.40" fill="#000"/>
<circle cx="411.7" cy="1094.0" r="2.37" fill="#555"/>
<circle cx="421.6" cy="1123.0" r="1.61" fill="#111"/>
<circle cx="415.5" cy="1115.6" r="1.40" fill="#555"/>
<circle cx="533.2" cy="457.2" r="2.47" fill="#333"/>
<circle cx="552.8" cy="467.8" r="1.40" fill="#000"/>
<circle cx="550.4" cy="471.5" r="1.40" fill="#333"/>
<circle cx="546.3" cy="473.9" r="1.40" fill="#444"/>
<circle cx="576.5" cy="488.2" r="1.40" fill="#222"/>
<circle cx="607.1" cy="497.9" r="2.15" fill="#eee"/>
<circle cx="610.3" cy="502.7" r="1.61" fill="#eee"/>
<circle cx="615.9" cy="542.5" r="1.61" fill="#000"/>
<circle cx="625.4" cy="540.9" r="1.51" fill="#000"/>
<circle cx="624.3" cy="550.0" r="1.51" fill="#000"/>
<circle cx="633.1" cy="558.6" r="2.15" fill="#111"/>
<circle cx="530.2" cy="538.8" r="2.15" fill="#555"/>
<circle cx="538.5" cy="550.6" r="1.40" fill="#000"/>
<circle cx="554.9" cy="548.4" r="1.51" fill="#333"/>
<circle cx="513.3" cy="567.0" r="1.40" fill="#555"/>
<circle cx="568.6" cy="579.9" r="1.51" fill="#000"/>
<circle cx="573.4" cy="579.9" r="1.51" fill="#000"/>
<circle cx="578.9" cy="585.9" r="1.61" fill="#000"/>
<circle cx="591.7" cy="574.2" r="1.51" fill="#444"/>
<circle cx="585.6" cy="579.4" r="1.61" fill="#000"/>
<circle cx="566.5" cy="594.2" r="1.51" fill="#444"/>
<circle cx="572.7" cy="599.5" r="1.40" fill="#000"/>
<circle cx="561.1" cy="600.7" r="1.51" fill="#444"/>
<circle cx="493.4" cy="598.0" r="1.51" fill="#000"/>
<circle cx="495.8" cy="602.7" r="1.94" fill="#000"/>
<circle cx="501.4" cy="604.1" r="2.15" fill="#555"/>
<circle cx="510.6" cy="613.8" r="1.83" fill="#555"/>
<circle cx="499.6" cy="614.0" r="1.40" fill="#000"/>
<circle cx="564.1" cy="623.3" r="1.51" fill="#333"/>
<circle cx="568.7" cy="623.8" r="1.61" fill="#444"/>
<circle cx="662.2" cy="597.2" r="1.94" fill="#000"/>
<circle cx="651.0" cy="609.3" r="1.94" fill="#333"/>
<circle cx="639.0" cy="616.0" r="1.51" fill="#111"/>
<circle cx="649.0" cy="614.9" r="1.83" fill="#111"/>
<circle cx="567.5" cy="656.3" r="1.40" fill="#000"/>
<circle cx="560.1" cy="661.7" r="1.83" fill="#222"/>
</g>
<g stroke="#4d6f8a" stroke-width="0.3" fill="#87cefa">
<circle cx="719.4" cy="431.4" r="1.08"/>
<circle cx="792.0" cy="380.8" r="0.98"/>
<circle cx="790.5" cy="383.4" r="0.99"/>
<circle cx="793.7" cy="378.2" r="1.14"/>
<circle cx="787.3" cy="383.5" r="1.23"/>
<circle cx="787.2" cy="378.2" r="1.28"/>
<circle cx="795.8" cy="380.9" r="1.28"/>
<circle cx="823.9" cy="384.4" r="1.29"/>
<circle cx="819.6" cy="389.2" r="1.29"/>
<circle cx="825.8" cy="387.6" r="1.08"/>
<circle cx="877.7" cy="417.4" r="1.08"/>
<circle cx="874.7" cy="424.7" r="0.58"/>
<circle cx="877.1" cy="424.7" r="0.72"/>
<circle cx="875.7" cy="426.9" r="0.75"/>
<circle cx="875.7" cy="422.6" r="0.76"/>
<circle cx="878.3" cy="427.0" r="0.78"/>
<circle cx="878.4" cy="422.5" r="0.79"/>
<circle cx="775.6" cy="456.3" r="1.29"/>
<circle cx="820.3" cy="483.3" r="1.29"/>
<circle cx="808.0" cy="504.7" r="0.55"/>
<circle cx="809.1" cy="506.6" r="0.57"/>
<circle cx="809.1" cy="502.9" r="0.57"/>
<circle cx="747.9" cy="491.6" r="1.29"/>
<circle cx="746.3" cy="495.1" r="1.08"/>
<circle cx="750.1" cy="495.1" r="1.18"/>
<circle cx="746.0" cy="498.6" r="1.29"/>
<circle cx="752.7" cy="513.7" r="1.29"/>
<circle cx="745.8" cy="514.0" r="0.75"/>
<circle cx="748.8" cy="514.0" r="0.75"/>
<circle cx="784.1" cy="534.3" r="1.08"/>
<circle cx="787.9" cy="534.3" r="0.97"/>
<circle cx="787.2" cy="537.3" r="1.08"/>
<circle cx="790.4" cy="537.3" r="0.97"/>
<circle cx="829.5" cy="582.4" r="1.18"/>
<circle cx="833.4" cy="581.9" r="1.08"/>
<circle cx="832.2" cy="585.1" r="0.75"/>
<circle cx="884.8" cy="572.5" r="1.08"/>
<circle cx="765.2" cy="695.6" r="0.86"/>
<circle cx="813.6" cy="679.2" r="0.65"/>
<circle cx="815.8" cy="680.3" r="0.65"/>
<circle cx="803.2" cy="746.7" r="0.75"/>
<circle cx="921.5" cy="730.3" r="1.29"/>
<circle cx="949.3" cy="745.9" r="1.08"/>
<circle cx="973.5" cy="713.6" r="1.18"/>
<circle cx="975.5" cy="716.8" r="1.08"/>
<circle cx="971.9" cy="716.8" r="0.97"/>
<circle cx="1038.6" cy="645.1" r="1.29"/>
<circle cx="1043.1" cy="645.1" r="1.29"/>
<circle cx="1034.3" cy="691.4" r="1.29"/>
<circle cx="1032.5" cy="687.6" r="1.29"/>
<circle cx="1036.5" cy="680.8" r="1.18"/>
<circle cx="1040.4" cy="680.5" r="1.18"/>
<circle cx="1043.2" cy="683.2" r="1.08"/>
<circle cx="1044.5" cy="686.7" r="1.08"/>
<circle cx="1037.2" cy="687.8" r="0.97"/>
<circle cx="1038.1" cy="684.6" r="0.86"/>
<circle cx="1041.0" cy="686.2" r="0.86"/>
<circle cx="1025.4" cy="778.9" r="1.08"/>
<circle cx="294.1" cy="897.0" r="1.29"/>
<circle cx="303.8" cy="900.0" r="1.18"/>
<circle cx="303.8" cy="903.2" r="1.08"/>
<circle cx="300.9" cy="904.8" r="1.08"/>
<circle cx="297.7" cy="904.3" r="0.97"/>
<circle cx="296.4" cy="901.4" r="0.97"/>
<circle cx="299.8" cy="900.5" r="0.86"/>
<circle cx="298.2" cy="902.2" r="0.65"/>
<circle cx="357.2" cy="900.8" r="1.29"/>
<circle cx="361.1" cy="900.0" r="1.29"/>
<circle cx="330.5" cy="925.5" r="0.65"/>
<circle cx="329.9" cy="934.2" r="1.29"/>
<circle cx="334.0" cy="934.9" r="1.29"/>
<circle cx="336.2" cy="937.6" r="1.29"/>
<circle cx="330.5" cy="942.5" r="1.08"/>
<circle cx="331.0" cy="936.9" r="0.86"/>
<circle cx="331.3" cy="939.8" r="0.75"/>
<circle cx="330.7" cy="958.3" r="1.29"/>
<circle cx="331.8" cy="961.8" r="1.29"/>
<circle cx="329.4" cy="965.1" r="1.29"/>
<circle cx="327.8" cy="960.8" r="0.97"/>
<circle cx="326.7" cy="962.4" r="0.65"/>
<circle cx="363.0" cy="954.8" r="1.08"/>
<circle cx="359.5" cy="953.2" r="1.08"/>
<circle cx="357.2" cy="955.9" r="1.29"/>
<circle cx="359.5" cy="959.1" r="1.29"/>
<circle cx="363.0" cy="958.6" r="1.08"/>
<circle cx="360.3" cy="956.2" r="0.75"/>
<circle cx="421.9" cy="894.3" r="1.29"/>
<circle cx="413.1" cy="892.5" r="0.65"/>
<circle cx="442.1" cy="898.4" r="0.86"/>
<circle cx="502.3" cy="951.8" r="1.29"/>
<circle cx="506.6" cy="951.6" r="1.29"/>
<circle cx="502.3" cy="955.9" r="1.08"/>
<circle cx="503.9" cy="961.8" r="1.08"/>
<circle cx="420.5" cy="978.7" r="1.29"/>
<circle cx="417.4" cy="976.3" r="1.08"/>
<circle cx="419.0" cy="972.6" r="1.08"/>
<circle cx="423.0" cy="972.6" r="1.08"/>
<circle cx="421.3" cy="975.3" r="0.86"/>
<circle cx="433.2" cy="982.8" r="1.08"/>
<circle cx="436.9" cy="982.8" r="1.29"/>
<circle cx="530.2" cy="972.8" r="1.29"/>
<circle cx="531.0" cy="969.6" r="0.75"/>
<circle cx="534.0" cy="969.6" r="0.75"/>
<circle cx="532.9" cy="972.8" r="0.75"/>
<circle cx="536.1" cy="972.8" r="0.75"/>
<circle cx="522.5" cy="997.5" r="1.29"/>
<circle cx="519.5" cy="994.5" r="1.29"/>
<circle cx="530.0" cy="989.8" r="0.97"/>
<circle cx="530.2" cy="992.7" r="0.86"/>
<circle cx="527.5" cy="994.8" r="0.97"/>
<circle cx="524.5" cy="994.8" r="0.86"/>
<circle cx="524.8" cy="992.4" r="0.86"/>
<circle cx="527.2" cy="991.9" r="0.65"/>
<circle cx="530.2" cy="1011.0" r="0.75"/>
<circle cx="536.1" cy="1011.0" r="0.86"/>
<circle cx="539.1" cy="1010.2" r="0.75"/>
<circle cx="458.2" cy="979.8" r="0.86"/>
<circle cx="456.6" cy="990.5" r="1.29"/>
<circle cx="459.2" cy="993.4" r="1.08"/>
<circle cx="463.3" cy="993.8" r="1.29"/>
<circle cx="379.5" cy="996.2" r="1.29"/>
<circle cx="374.8" cy="996.7" r="1.29"/>
<circle cx="381.8" cy="999.9" r="1.29"/>
<circle cx="377.3" cy="1000.2" r="1.29"/>
<circle cx="373.8" cy="1001.0" r="1.08"/>
<circle cx="377.5" cy="1004.2" r="1.29"/>
<circle cx="394.5" cy="984.6" r="1.29"/>
<circle cx="402.8" cy="990.0" r="0.86"/>
<circle cx="399.0" cy="990.5" r="0.86"/>
<circle cx="400.4" cy="994.1" r="1.08"/>
<circle cx="403.0" cy="995.6" r="1.08"/>
<circle cx="404.4" cy="992.7" r="0.75"/>
<circle cx="433.1" cy="1000.5" r="1.29"/>
<circle cx="434.5" cy="1008.1" r="1.29"/>
<circle cx="441.2" cy="1016.6" r="1.29"/>
<circle cx="445.1" cy="1015.3" r="1.29"/>
<circle cx="447.4" cy="1019.0" r="1.08"/>
<circle cx="444.2" cy="1019.6" r="0.86"/>
<circle cx="452.3" cy="1016.9" r="0.54"/>
<circle cx="431.0" cy="1020.6" r="0.75"/>
<circle cx="434.0" cy="1020.9" r="0.86"/>
<circle cx="469.7" cy="1022.6" r="1.08"/>
<circle cx="429.1" cy="1030.9" r="0.97"/>
<circle cx="432.9" cy="1030.3" r="0.75"/>
<circle cx="431.5" cy="1033.0" r="0.75"/>
<circle cx="434.5" cy="1033.0" r="0.75"/>
<circle cx="428.9" cy="1034.4" r="0.86"/>
<circle cx="400.1" cy="1047.5" r="1.29"/>
<circle cx="396.9" cy="1053.4" r="0.75"/>
<circle cx="489.1" cy="1044.1" r="1.29"/>
<circle cx="486.7" cy="1041.1" r="1.08"/>
<circle cx="488.1" cy="1037.5" r="1.08"/>
<circle cx="492.0" cy="1037.3" r="1.08"/>
<circle cx="494.0" cy="1040.5" r="0.97"/>
<circle cx="490.4" cy="1040.8" r="0.86"/>
<circle cx="506.0" cy="1037.1" r="1.29"/>
<circle cx="508.2" cy="1034.1" r="0.86"/>
<circle cx="510.9" cy="1033.5" r="0.86"/>
<circle cx="511.9" cy="1036.8" r="0.75"/>
<circle cx="509.8" cy="1036.8" r="0.54"/>
<circle cx="502.3" cy="1060.4" r="1.29"/>
<circle cx="506.0" cy="1059.0" r="1.08"/>
<circle cx="506.0" cy="1064.7" r="1.29"/>
<circle cx="502.8" cy="1064.2" r="1.08"/>
<circle cx="507.1" cy="1061.5" r="0.65"/>
<circle cx="243.5" cy="1048.4" r="1.29"/>
<circle cx="243.3" cy="1044.5" r="1.29"/>
<circle cx="244.9" cy="1040.7" r="1.29"/>
<circle cx="261.5" cy="1047.2" r="1.29"/>
<circle cx="252.6" cy="1051.7" r="1.18"/>
<circle cx="247.5" cy="1046.6" r="1.08"/>
<circle cx="252.8" cy="1045.1" r="0.53"/>
<circle cx="253.8" cy="1046.9" r="0.56"/>
<circle cx="253.8" cy="1043.3" r="0.58"/>
<circle cx="255.9" cy="1043.3" r="0.60"/>
<circle cx="251.6" cy="1046.8" r="0.61"/>
<circle cx="250.2" cy="1045.1" r="0.67"/>
<circle cx="252.4" cy="1041.1" r="0.75"/>
<circle cx="258.2" cy="1047.2" r="0.77"/>
<circle cx="258.3" cy="1043.0" r="0.79"/>
<circle cx="317.5" cy="1085.2" r="1.29"/>
<circle cx="316.8" cy="1089.5" r="1.29"/>
<circle cx="303.2" cy="1090.9" r="1.29"/>
<circle cx="301.8" cy="1087.2" r="1.18"/>
<circle cx="303.7" cy="1083.6" r="1.18"/>
<circle cx="307.2" cy="1081.8" r="1.18"/>
<circle cx="311.0" cy="1082.3" r="1.08"/>
<circle cx="313.6" cy="1085.0" r="1.08"/>
<circle cx="313.4" cy="1088.8" r="1.08"/>
<circle cx="306.9" cy="1089.3" r="1.08"/>
<circle cx="308.5" cy="1085.0" r="0.97"/>
<circle cx="310.7" cy="1086.9" r="0.86"/>
<circle cx="289.2" cy="1071.9" r="1.29"/>
<circle cx="292.7" cy="1070.8" r="0.97"/>
<circle cx="296.0" cy="1070.8" r="0.86"/>
<circle cx="209.1" cy="1093.9" r="0.86"/>
<circle cx="212.0" cy="1093.9" r="0.86"/>
<circle cx="229.2" cy="1079.3" r="1.29"/>
<circle cx="230.1" cy="1082.8" r="0.86"/>
<circle cx="233.1" cy="1082.8" r="0.86"/>
<circle cx="231.7" cy="1085.3" r="0.86"/>
<circle cx="234.9" cy="1085.5" r="0.75"/>
<circle cx="254.5" cy="1092.5" r="0.86"/>
<circle cx="252.1" cy="1090.9" r="0.75"/>
<circle cx="265.0" cy="1104.4" r="0.65"/>
<circle cx="235.8" cy="1104.4" r="1.29"/>
<circle cx="246.5" cy="1112.2" r="1.29"/>
<circle cx="233.2" cy="1121.0" r="0.63"/>
<circle cx="236.6" cy="1123.0" r="0.65"/>
<circle cx="232.1" cy="1123.0" r="0.65"/>
<circle cx="232.0" cy="1119.1" r="0.66"/>
<circle cx="230.8" cy="1121.0" r="0.69"/>
<circle cx="235.4" cy="1125.0" r="0.69"/>
<circle cx="233.1" cy="1125.1" r="0.69"/>
<circle cx="235.5" cy="1117.0" r="0.73"/>
<circle cx="233.0" cy="1116.9" r="0.73"/>
<circle cx="239.0" cy="1119.0" r="0.74"/>
<circle cx="229.7" cy="1123.2" r="0.75"/>
<circle cx="229.7" cy="1118.9" r="0.75"/>
<circle cx="237.8" cy="1125.3" r="0.76"/>
<circle cx="237.9" cy="1116.7" r="0.77"/>
<circle cx="230.7" cy="1125.5" r="0.78"/>
<circle cx="230.6" cy="1116.6" r="0.79"/>
<circle cx="234.3" cy="1127.2" r="0.79"/>
<circle cx="234.3" cy="1114.8" r="0.79"/>
<circle cx="228.3" cy="1121.1" r="0.80"/>
<circle cx="240.4" cy="1125.2" r="0.87"/>
<circle cx="240.5" cy="1116.9" r="0.88"/>
<circle cx="228.0" cy="1125.2" r="0.88"/>
<circle cx="227.9" cy="1116.2" r="0.88"/>
<circle cx="242.1" cy="1123.1" r="0.89"/>
<circle cx="242.1" cy="1119.1" r="0.89"/>
<circle cx="239.6" cy="1127.8" r="0.90"/>
<circle cx="229.1" cy="1127.8" r="0.91"/>
<circle cx="235.1" cy="1129.8" r="0.91"/>
<circle cx="235.1" cy="1112.2" r="0.93"/>
<circle cx="232.4" cy="1130.6" r="0.93"/>
<circle cx="232.4" cy="1111.5" r="0.95"/>
<circle cx="225.0" cy="1120.5" r="0.95"/>
<circle cx="244.1" cy="1121.1" r="0.95"/>
<circle cx="243.2" cy="1125.7" r="0.96"/>
<circle cx="225.2" cy="1116.8" r="0.96"/>
<circle cx="225.2" cy="1125.6" r="0.97"/>
<circle cx="238.1" cy="1130.2" r="0.97"/>
<circle cx="229.5" cy="1130.6" r="0.99"/>
<circle cx="236.1" cy="1132.5" r="1.00"/>
<circle cx="236.3" cy="1109.6" r="1.02"/>
<circle cx="242.4" cy="1128.5" r="1.02"/>
<circle cx="226.2" cy="1128.4" r="1.03"/>
<circle cx="229.5" cy="1110.8" r="1.04"/>
<circle cx="226.1" cy="1114.0" r="1.06"/>
<circle cx="223.5" cy="1123.1" r="1.06"/>
<circle cx="245.5" cy="1123.8" r="1.07"/>
<circle cx="245.6" cy="1118.5" r="1.09"/>
<circle cx="262.5" cy="1125.6" r="1.29"/>
<circle cx="258.3" cy="1127.2" r="1.29"/>
<circle cx="260.2" cy="1128.8" r="0.65"/>
<circle cx="199.4" cy="1138.0" r="0.86"/>
<circle cx="197.3" cy="1141.2" r="0.86"/>
<circle cx="201.0" cy="1141.7" r="0.86"/>
<circle cx="194.2" cy="1142.8" r="0.86"/>
<circle cx="198.3" cy="1144.9" r="0.86"/>
<circle cx="202.1" cy="1145.5" r="0.86"/>
<circle cx="245.4" cy="1160.5" r="1.29"/>
<circle cx="243.5" cy="1164.1" r="1.08"/>
<circle cx="266.4" cy="1152.3" r="1.29"/>
<circle cx="274.7" cy="1149.8" r="0.86"/>
<circle cx="284.4" cy="1116.1" r="1.29"/>
<circle cx="287.6" cy="1119.4" r="1.08"/>
<circle cx="286.2" cy="1120.5" r="1.29"/>
<circle cx="329.5" cy="1116.5" r="1.29"/>
<circle cx="441.0" cy="1100.8" r="1.08"/>
<circle cx="449.1" cy="1089.7" r="0.53"/>
<circle cx="450.1" cy="1091.5" r="0.54"/>
<circle cx="448.0" cy="1087.9" r="0.58"/>
<circle cx="451.1" cy="1093.4" r="0.68"/>
<circle cx="454.5" cy="1091.7" r="0.73"/>
<circle cx="445.8" cy="1091.8" r="0.75"/>
<circle cx="446.3" cy="1085.2" r="0.82"/>
<circle cx="444.2" cy="1089.7" r="0.87"/>
<circle cx="464.6" cy="1104.3" r="1.29"/>
<circle cx="470.3" cy="1094.5" r="1.08"/>
<circle cx="475.4" cy="1099.4" r="1.08"/>
<circle cx="463.5" cy="1100.8" r="0.86"/>
<circle cx="464.4" cy="1097.5" r="0.86"/>
<circle cx="468.6" cy="1099.8" r="0.55"/>
<circle cx="470.7" cy="1099.8" r="0.57"/>
<circle cx="469.6" cy="1101.7" r="0.61"/>
<circle cx="469.6" cy="1097.9" r="0.61"/>
<circle cx="471.9" cy="1101.7" r="0.63"/>
<circle cx="471.9" cy="1097.9" r="0.65"/>
<circle cx="467.3" cy="1101.7" r="0.68"/>
<circle cx="467.2" cy="1097.9" r="0.75"/>
<circle cx="473.3" cy="1099.8" r="0.75"/>
<circle cx="465.6" cy="1099.9" r="0.78"/>
<circle cx="470.7" cy="1103.8" r="0.80"/>
<circle cx="402.8" cy="1089.0" r="0.61"/>
<circle cx="401.6" cy="1090.9" r="0.63"/>
<circle cx="401.6" cy="1087.0" r="0.66"/>
<circle cx="404.0" cy="1091.0" r="0.73"/>
<circle cx="404.1" cy="1087.0" r="0.74"/>
<circle cx="399.1" cy="1091.0" r="0.83"/>
<circle cx="399.1" cy="1087.0" r="0.87"/>
<circle cx="425.6" cy="1088.1" r="0.55"/>
<circle cx="424.6" cy="1086.3" r="0.56"/>
<circle cx="426.7" cy="1086.2" r="0.59"/>
<circle cx="422.4" cy="1086.3" r="0.64"/>
<circle cx="425.6" cy="1092.0" r="0.83"/>
<circle cx="413.6" cy="1090.1" r="0.56"/>
<circle cx="415.8" cy="1090.1" r="0.62"/>
<circle cx="414.6" cy="1092.1" r="0.65"/>
<circle cx="414.6" cy="1088.0" r="0.74"/>
<circle cx="420.0" cy="1099.4" r="1.29"/>
<circle cx="416.8" cy="1099.7" r="0.75"/>
<circle cx="410.6" cy="1106.5" r="1.29"/>
<circle cx="407.4" cy="1108.8" r="1.29"/>
<circle cx="401.0" cy="1105.4" r="1.29"/>
<circle cx="406.0" cy="1105.1" r="0.75"/>
<circle cx="416.2" cy="1111.0" r="1.29"/>
<circle cx="418.4" cy="1107.7" r="1.29"/>
<circle cx="429.7" cy="1107.5" r="1.29"/>
<circle cx="432.2" cy="1110.8" r="1.08"/>
<circle cx="432.9" cy="1114.2" r="1.08"/>
<circle cx="423.6" cy="1113.9" r="0.53"/>
<circle cx="425.6" cy="1113.9" r="0.54"/>
<circle cx="424.6" cy="1115.7" r="0.54"/>
<circle cx="422.4" cy="1115.8" r="0.67"/>
<circle cx="426.8" cy="1112.1" r="0.68"/>
<circle cx="428.3" cy="1114.0" r="0.71"/>
<circle cx="420.8" cy="1114.0" r="0.73"/>
<circle cx="425.5" cy="1117.8" r="0.74"/>
<circle cx="423.1" cy="1118.1" r="0.74"/>
<circle cx="425.7" cy="1110.0" r="0.75"/>
<circle cx="423.2" cy="1109.9" r="0.75"/>
<circle cx="429.0" cy="1116.3" r="0.76"/>
<circle cx="429.2" cy="1111.8" r="0.76"/>
<circle cx="420.0" cy="1116.3" r="0.78"/>
<circle cx="427.9" cy="1118.6" r="0.81"/>
<circle cx="447.4" cy="793.5" r="0.94"/>
<circle cx="444.3" cy="786.9" r="1.13"/>
<circle cx="434.8" cy="798.9" r="0.63"/>
<circle cx="437.6" cy="798.9" r="0.63"/>
<circle cx="446.5" cy="795.7" r="0.38"/>
<circle cx="537.7" cy="460.3" r="1.08"/>
<circle cx="540.4" cy="462.9" r="0.97"/>
<circle cx="541.8" cy="465.8" r="0.86"/>
<circle cx="540.8" cy="469.4" r="1.08"/>
<circle cx="544.4" cy="469.6" r="1.08"/>
<circle cx="537.4" cy="471.5" r="1.29"/>
<circle cx="541.5" cy="473.7" r="1.29"/>
<circle cx="553.9" cy="459.5" r="1.08"/>
<circle cx="552.3" cy="462.9" r="0.86"/>
<circle cx="555.7" cy="462.9" r="0.86"/>
<circle cx="538.3" cy="478.0" r="1.08"/>
<circle cx="541.8" cy="477.8" r="1.08"/>
<circle cx="536.7" cy="481.4" r="1.08"/>
<circle cx="540.4" cy="481.0" r="0.86"/>
<circle cx="543.9" cy="481.0" r="0.86"/>
<circle cx="539.4" cy="484.5" r="1.29"/>
<circle cx="559.5" cy="469.4" r="1.29"/>
<circle cx="572.5" cy="475.3" r="1.29"/>
<circle cx="569.5" cy="478.5" r="1.29"/>
<circle cx="565.2" cy="478.5" r="1.29"/>
<circle cx="561.6" cy="475.8" r="1.08"/>
<circle cx="563.3" cy="472.1" r="0.97"/>
<circle cx="567.1" cy="472.1" r="0.97"/>
<circle cx="568.9" cy="475.0" r="0.97"/>
<circle cx="565.5" cy="475.0" r="0.86"/>
<circle cx="580.5" cy="463.3" r="0.97"/>
<circle cx="584.0" cy="462.9" r="0.86"/>
<circle cx="579.9" cy="467.2" r="1.29"/>
<circle cx="582.9" cy="465.6" r="0.65"/>
<circle cx="585.6" cy="465.6" r="0.65"/>
<circle cx="592.8" cy="462.1" r="1.29"/>
<circle cx="603.0" cy="462.9" r="0.86"/>
<circle cx="605.7" cy="462.2" r="0.75"/>
<circle cx="608.7" cy="466.7" r="1.08"/>
<circle cx="603.9" cy="465.6" r="0.75"/>
<circle cx="606.6" cy="465.1" r="0.65"/>
<circle cx="605.3" cy="467.6" r="0.86"/>
<circle cx="593.7" cy="468.9" r="0.75"/>
<circle cx="595.3" cy="469.2" r="0.65"/>
<circle cx="600.1" cy="468.9" r="0.54"/>
<circle cx="603.0" cy="473.2" r="1.29"/>
<circle cx="602.3" cy="476.7" r="0.65"/>
<circle cx="594.4" cy="478.0" r="0.86"/>
<circle cx="597.2" cy="477.8" r="0.75"/>
<circle cx="593.7" cy="480.9" r="0.86"/>
<circle cx="596.7" cy="482.8" r="0.86"/>
<circle cx="599.6" cy="481.2" r="0.86"/>
<circle cx="599.0" cy="483.1" r="0.54"/>
<circle cx="581.1" cy="487.5" r="1.29"/>
<circle cx="585.4" cy="489.3" r="1.29"/>
<circle cx="583.4" cy="493.1" r="1.08"/>
<circle cx="576.1" cy="492.5" r="0.97"/>
<circle cx="574.1" cy="496.0" r="0.86"/>
<circle cx="577.3" cy="495.7" r="0.86"/>
<circle cx="588.8" cy="496.8" r="1.29"/>
<circle cx="581.3" cy="500.6" r="0.97"/>
<circle cx="577.3" cy="503.3" r="1.08"/>
<circle cx="581.3" cy="503.8" r="0.97"/>
<circle cx="585.1" cy="503.6" r="1.08"/>
<circle cx="568.2" cy="500.4" r="1.08"/>
<circle cx="592.6" cy="500.3" r="1.08"/>
<circle cx="596.3" cy="500.0" r="0.86"/>
<circle cx="571.6" cy="511.0" r="0.86"/>
<circle cx="574.8" cy="510.8" r="0.75"/>
<circle cx="578.8" cy="511.3" r="0.86"/>
<circle cx="571.1" cy="513.5" r="0.65"/>
<circle cx="573.8" cy="513.5" r="0.65"/>
<circle cx="576.5" cy="513.8" r="0.65"/>
<circle cx="572.2" cy="516.0" r="0.75"/>
<circle cx="575.9" cy="516.0" r="0.75"/>
<circle cx="579.1" cy="514.9" r="0.65"/>
<circle cx="584.5" cy="508.6" r="1.29"/>
<circle cx="589.1" cy="508.6" r="1.29"/>
<circle cx="586.1" cy="512.9" r="1.29"/>
<circle cx="591.5" cy="512.9" r="1.08"/>
<circle cx="587.7" cy="510.8" r="0.65"/>
<circle cx="664.8" cy="511.7" r="1.29"/>
<circle cx="660.5" cy="513.5" r="1.08"/>
<circle cx="664.1" cy="516.0" r="0.65"/>
<circle cx="667.3" cy="515.6" r="0.75"/>
<circle cx="670.5" cy="515.6" r="0.75"/>
<circle cx="657.1" cy="518.1" r="1.08"/>
<circle cx="660.9" cy="517.8" r="0.86"/>
<circle cx="656.6" cy="521.3" r="0.97"/>
<circle cx="660.3" cy="521.0" r="0.97"/>
<circle cx="657.6" cy="524.2" r="1.08"/>
<circle cx="661.4" cy="524.5" r="0.97"/>
<circle cx="675.6" cy="519.2" r="1.08"/>
<circle cx="677.0" cy="523.2" r="1.29"/>
<circle cx="680.8" cy="520.3" r="0.54"/>
<circle cx="682.9" cy="520.3" r="0.54"/>
<circle cx="674.0" cy="529.9" r="0.45"/>
<circle cx="675.0" cy="531.6" r="0.53"/>
<circle cx="671.0" cy="528.3" r="0.62"/>
<circle cx="662.5" cy="533.4" r="1.29"/>
<circle cx="665.2" cy="540.2" r="1.08"/>
<circle cx="665.9" cy="544.1" r="0.97"/>
<circle cx="664.8" cy="547.9" r="0.97"/>
<circle cx="657.3" cy="549.5" r="1.08"/>
<circle cx="653.9" cy="546.3" r="0.97"/>
<circle cx="652.8" cy="542.5" r="0.97"/>
<circle cx="654.1" cy="539.3" r="0.97"/>
<circle cx="657.6" cy="537.7" r="0.86"/>
<circle cx="662.5" cy="537.1" r="0.86"/>
<circle cx="657.3" cy="544.2" r="0.48"/>
<circle cx="659.3" cy="544.2" r="0.50"/>
<circle cx="658.2" cy="546.0" r="0.52"/>
<circle cx="658.2" cy="542.4" r="0.53"/>
<circle cx="660.4" cy="546.0" r="0.59"/>
<circle cx="660.5" cy="542.3" r="0.65"/>
<circle cx="656.0" cy="546.0" r="0.67"/>
<circle cx="656.0" cy="542.4" r="0.70"/>
<circle cx="662.0" cy="544.3" r="0.72"/>
<circle cx="614.1" cy="550.4" r="0.86"/>
<circle cx="619.5" cy="544.7" r="0.97"/>
<circle cx="630.7" cy="546.3" r="0.47"/>
<circle cx="632.6" cy="546.3" r="0.51"/>
<circle cx="631.6" cy="548.0" r="0.53"/>
<circle cx="631.6" cy="544.5" r="0.56"/>
<circle cx="633.7" cy="548.1" r="0.59"/>
<circle cx="633.8" cy="544.5" r="0.59"/>
<circle cx="629.5" cy="548.0" r="0.59"/>
<circle cx="629.4" cy="544.6" r="0.62"/>
<circle cx="613.5" cy="560.9" r="0.66"/>
<circle cx="615.8" cy="560.9" r="0.66"/>
<circle cx="614.7" cy="562.9" r="0.68"/>
<circle cx="614.7" cy="558.8" r="0.71"/>
<circle cx="617.1" cy="562.9" r="0.75"/>
<circle cx="612.2" cy="562.9" r="0.76"/>
<circle cx="617.2" cy="558.8" r="0.76"/>
<circle cx="612.2" cy="558.8" r="0.76"/>
<circle cx="618.6" cy="560.9" r="0.77"/>
<circle cx="610.6" cy="560.9" r="0.81"/>
<circle cx="615.8" cy="565.1" r="0.82"/>
<circle cx="613.1" cy="565.3" r="0.82"/>
<circle cx="615.9" cy="556.5" r="0.84"/>
<circle cx="613.2" cy="556.4" r="0.85"/>
<circle cx="619.7" cy="563.3" r="0.89"/>
<circle cx="619.8" cy="558.5" r="0.89"/>
<circle cx="609.6" cy="563.4" r="0.89"/>
<circle cx="609.5" cy="558.4" r="0.90"/>
<circle cx="618.5" cy="565.9" r="0.96"/>
<circle cx="618.6" cy="555.9" r="0.97"/>
<circle cx="635.3" cy="554.0" r="1.08"/>
<circle cx="638.8" cy="553.6" r="1.29"/>
<circle cx="580.2" cy="548.4" r="1.08"/>
<circle cx="584.8" cy="549.0" r="1.29"/>
<circle cx="574.3" cy="552.7" r="1.29"/>
<circle cx="578.6" cy="552.2" r="0.86"/>
<circle cx="582.4" cy="552.2" r="0.86"/>
<circle cx="577.8" cy="556.0" r="1.29"/>
<circle cx="582.4" cy="556.0" r="1.29"/>
<circle cx="573.8" cy="559.7" r="1.08"/>
<circle cx="577.5" cy="560.0" r="1.08"/>
<circle cx="571.6" cy="564.3" r="1.29"/>
<circle cx="575.4" cy="564.0" r="1.08"/>
<circle cx="579.1" cy="564.0" r="1.08"/>
<circle cx="582.4" cy="566.7" r="1.08"/>
<circle cx="573.2" cy="567.8" r="1.08"/>
<circle cx="578.1" cy="568.0" r="1.29"/>
<circle cx="514.6" cy="562.5" r="1.08"/>
<circle cx="518.6" cy="563.1" r="0.86"/>
<circle cx="517.3" cy="566.3" r="0.86"/>
<circle cx="520.5" cy="566.3" r="0.86"/>
<circle cx="502.3" cy="569.9" r="1.08"/>
<circle cx="506.3" cy="569.7" r="1.08"/>
<circle cx="501.2" cy="573.8" r="1.08"/>
<circle cx="508.2" cy="573.2" r="0.86"/>
<circle cx="504.9" cy="573.2" r="0.65"/>
<circle cx="512.3" cy="576.5" r="1.08"/>
<circle cx="515.7" cy="577.8" r="0.86"/>
<circle cx="509.8" cy="579.9" r="0.86"/>
<circle cx="513.0" cy="579.9" r="0.86"/>
<circle cx="517.3" cy="581.6" r="0.86"/>
<circle cx="508.7" cy="582.8" r="0.86"/>
<circle cx="510.6" cy="585.6" r="0.86"/>
<circle cx="514.1" cy="585.6" r="0.86"/>
<circle cx="516.8" cy="584.8" r="0.75"/>
<circle cx="513.5" cy="582.6" r="0.65"/>
<circle cx="552.3" cy="574.2" r="1.08"/>
<circle cx="549.0" cy="574.6" r="0.65"/>
<circle cx="545.3" cy="578.5" r="0.86"/>
<circle cx="552.3" cy="578.3" r="0.86"/>
<circle cx="533.2" cy="583.2" r="1.08"/>
<circle cx="537.4" cy="583.0" r="1.29"/>
<circle cx="534.8" cy="587.8" r="0.86"/>
<circle cx="554.4" cy="583.0" r="0.65"/>
<circle cx="556.9" cy="583.2" r="0.65"/>
<circle cx="555.5" cy="585.3" r="0.65"/>
<circle cx="560.9" cy="584.8" r="0.86"/>
<circle cx="558.7" cy="587.5" r="0.75"/>
<circle cx="562.5" cy="587.8" r="0.75"/>
<circle cx="590.4" cy="577.8" r="0.86"/>
<circle cx="593.7" cy="577.8" r="0.97"/>
<circle cx="604.7" cy="576.2" r="1.08"/>
<circle cx="606.9" cy="579.6" r="1.08"/>
<circle cx="601.7" cy="583.2" r="1.29"/>
<circle cx="606.3" cy="583.7" r="1.29"/>
<circle cx="593.7" cy="590.9" r="1.08"/>
<circle cx="525.9" cy="600.2" r="1.29"/>
<circle cx="527.5" cy="605.5" r="1.08"/>
<circle cx="531.5" cy="605.8" r="0.86"/>
<circle cx="534.8" cy="605.8" r="1.08"/>
<circle cx="562.3" cy="594.2" r="0.97"/>
<circle cx="564.4" cy="603.6" r="1.08"/>
<circle cx="565.7" cy="607.4" r="0.97"/>
<circle cx="501.5" cy="590.2" r="1.08"/>
<circle cx="542.9" cy="609.0" r="1.29"/>
<circle cx="547.2" cy="608.7" r="1.29"/>
<circle cx="545.3" cy="612.4" r="1.08"/>
<circle cx="549.4" cy="612.4" r="0.97"/>
<circle cx="541.2" cy="613.8" r="0.86"/>
<circle cx="541.5" cy="616.8" r="0.65"/>
<circle cx="545.8" cy="619.0" r="1.29"/>
<circle cx="550.1" cy="618.3" r="1.29"/>
<circle cx="552.3" cy="621.6" r="0.86"/>
<circle cx="566.0" cy="616.0" r="0.86"/>
<circle cx="564.6" cy="619.5" r="0.75"/>
<circle cx="567.8" cy="619.5" r="0.75"/>
<circle cx="572.2" cy="625.4" r="0.54"/>
<circle cx="574.8" cy="625.4" r="0.54"/>
<circle cx="578.1" cy="625.4" r="0.65"/>
<circle cx="565.5" cy="631.3" r="0.86"/>
<circle cx="568.9" cy="631.0" r="0.97"/>
<circle cx="574.3" cy="632.6" r="1.08"/>
<circle cx="564.1" cy="634.5" r="0.97"/>
<circle cx="567.3" cy="634.2" r="0.75"/>
<circle cx="570.9" cy="634.0" r="0.86"/>
<circle cx="566.0" cy="637.5" r="0.97"/>
<circle cx="570.0" cy="637.7" r="0.97"/>
<circle cx="573.8" cy="636.9" r="1.29"/>
<circle cx="587.2" cy="603.1" r="0.86"/>
<circle cx="590.4" cy="602.3" r="0.86"/>
<circle cx="585.9" cy="606.3" r="0.65"/>
<circle cx="588.8" cy="605.0" r="0.65"/>
<circle cx="596.3" cy="604.7" r="1.29"/>
<circle cx="594.2" cy="608.4" r="0.86"/>
<circle cx="598.5" cy="608.4" r="0.97"/>
<circle cx="517.3" cy="627.3" r="1.29"/>
<circle cx="519.7" cy="631.0" r="1.08"/>
<circle cx="508.7" cy="638.5" r="0.86"/>
<circle cx="507.1" cy="641.8" r="0.75"/>
<circle cx="510.3" cy="641.8" r="0.86"/>
<circle cx="515.2" cy="637.7" r="1.29"/>
<circle cx="518.9" cy="638.0" r="0.86"/>
<circle cx="522.4" cy="637.7" r="1.08"/>
<circle cx="531.3" cy="628.1" r="1.29"/>
<circle cx="535.6" cy="628.7" r="1.29"/>
<circle cx="539.4" cy="629.2" r="1.08"/>
<circle cx="533.4" cy="631.9" r="0.97"/>
<circle cx="541.5" cy="633.2" r="1.08"/>
<circle cx="531.8" cy="634.8" r="0.86"/>
<circle cx="535.1" cy="634.8" r="0.86"/>
<circle cx="533.4" cy="638.0" r="1.08"/>
<circle cx="537.5" cy="638.0" r="1.08"/>
<circle cx="541.5" cy="636.9" r="0.86"/>
<circle cx="511.2" cy="649.1" r="1.08"/>
<circle cx="514.1" cy="648.4" r="0.75"/>
<circle cx="511.4" cy="652.5" r="1.08"/>
<circle cx="514.9" cy="654.5" r="1.08"/>
<circle cx="524.8" cy="649.8" r="0.65"/>
<circle cx="527.5" cy="649.8" r="0.65"/>
<circle cx="524.0" cy="652.5" r="0.75"/>
<circle cx="527.5" cy="652.8" r="0.65"/>
<circle cx="531.0" cy="652.0" r="0.65"/>
<circle cx="525.9" cy="654.7" r="0.65"/>
<circle cx="529.1" cy="654.9" r="0.65"/>
<circle cx="507.4" cy="664.7" r="0.65"/>
<circle cx="521.6" cy="661.1" r="0.43"/>
<circle cx="523.8" cy="661.3" r="0.43"/>
<circle cx="531.6" cy="660.6" r="0.86"/>
<circle cx="527.8" cy="664.7" r="1.29"/>
<circle cx="531.3" cy="663.8" r="0.54"/>
<circle cx="533.4" cy="663.8" r="0.54"/>
<circle cx="522.7" cy="665.4" r="0.54"/>
<circle cx="519.5" cy="667.6" r="0.75"/>
<circle cx="532.9" cy="666.0" r="0.54"/>
<circle cx="652.5" cy="594.1" r="1.08"/>
<circle cx="668.2" cy="604.1" r="0.86"/>
<circle cx="641.7" cy="602.8" r="0.86"/>
<circle cx="645.8" cy="610.6" r="0.86"/>
<circle cx="639.7" cy="612.2" r="0.86"/>
<circle cx="662.5" cy="621.6" r="1.08"/>
<circle cx="672.2" cy="620.8" r="0.86"/>
<circle cx="664.4" cy="614.8" r="0.40"/>
<circle cx="662.4" cy="618.2" r="0.48"/>
<circle cx="662.4" cy="614.8" r="0.49"/>
<circle cx="652.6" cy="630.5" r="0.86"/>
<circle cx="630.2" cy="643.1" r="0.86"/>
<circle cx="631.8" cy="639.6" r="0.75"/>
<circle cx="667.3" cy="637.3" r="0.86"/>
<circle cx="670.0" cy="636.9" r="0.75"/>
<circle cx="634.5" cy="647.2" r="0.41"/>
<circle cx="634.5" cy="643.7" r="0.44"/>
<circle cx="633.3" cy="641.8" r="0.53"/>
<circle cx="638.7" cy="647.6" r="0.54"/>
<circle cx="630.1" cy="643.5" r="0.61"/>
<circle cx="631.0" cy="641.2" r="0.63"/>
<circle cx="654.9" cy="631.0" r="0.36"/>
<circle cx="646.2" cy="634.3" r="0.36"/>
<circle cx="647.3" cy="635.8" r="0.50"/>
<circle cx="647.3" cy="632.7" r="0.50"/>
<circle cx="656.6" cy="635.9" r="0.43"/>
<circle cx="656.6" cy="632.6" r="0.43"/>
<circle cx="658.5" cy="635.9" r="0.45"/>
<circle cx="653.8" cy="642.3" r="0.46"/>
<circle cx="653.8" cy="639.1" r="0.49"/>
<circle cx="659.8" cy="643.9" r="0.44"/>
<circle cx="647.5" cy="647.8" r="0.40"/>
<circle cx="649.3" cy="647.8" r="0.42"/>
<circle cx="649.5" cy="644.5" r="0.54"/>
<circle cx="655.3" cy="647.2" r="0.35"/>
<circle cx="656.1" cy="648.8" r="0.46"/>
<circle cx="656.1" cy="645.5" r="0.47"/>
<circle cx="644.4" cy="652.6" r="0.37"/>
<circle cx="653.1" cy="653.1" r="0.35"/>
<circle cx="654.0" cy="651.4" r="0.50"/>
<circle cx="663.6" cy="652.0" r="0.48"/>
<circle cx="645.9" cy="656.3" r="0.45"/>
<circle cx="652.7" cy="660.1" r="0.41"/>
<circle cx="653.8" cy="661.7" r="0.49"/>
<circle cx="658.4" cy="659.5" r="0.40"/>
<circle cx="659.3" cy="657.9" r="0.45"/>
<circle cx="663.9" cy="647.0" r="0.32"/>
<circle cx="617.8" cy="682.2" r="1.29"/>
<circle cx="619.5" cy="686.1" r="1.18"/>
<circle cx="598.0" cy="685.4" r="0.86"/>
<circle cx="596.9" cy="688.6" r="0.86"/>
<circle cx="595.3" cy="691.8" r="0.86"/>
<circle cx="602.6" cy="696.7" r="1.08"/>
<circle cx="605.3" cy="699.7" r="0.97"/>
<circle cx="606.0" cy="685.1" r="0.65"/>
<circle cx="613.0" cy="690.2" r="0.65"/>
<circle cx="613.0" cy="692.9" r="0.65"/>
<circle cx="606.0" cy="678.9" r="0.49"/>
<circle cx="601.4" cy="687.8" r="0.46"/>
<circle cx="606.8" cy="684.5" r="0.35"/>
<circle cx="613.9" cy="688.4" r="0.42"/>
<circle cx="599.6" cy="689.9" r="0.46"/>
<circle cx="605.9" cy="690.8" r="0.39"/>
<circle cx="609.7" cy="691.5" r="0.40"/>
<circle cx="610.6" cy="693.1" r="0.44"/>
<circle cx="610.7" cy="695.8" r="0.36"/>
<circle cx="563.3" cy="658.3" r="1.29"/>
<circle cx="577.0" cy="672.2" r="0.97"/>
<circle cx="573.8" cy="673.5" r="0.86"/>
<circle cx="563.0" cy="668.0" r="0.75"/>
<circle cx="572.3" cy="667.8" r="0.37"/>
<circle cx="568.6" cy="664.7" r="0.43"/>
<circle cx="573.3" cy="666.2" r="0.44"/>
<circle cx="567.5" cy="666.2" r="0.45"/>
<circle cx="571.4" cy="669.4" r="0.45"/>
<circle cx="574.2" cy="668.0" r="0.48"/>
<circle cx="566.7" cy="668.1" r="0.48"/>
<circle cx="567.4" cy="670.0" r="0.51"/>
<circle cx="567.3" cy="662.5" r="0.51"/>
<circle cx="572.5" cy="671.9" r="0.56"/>
<circle cx="568.4" cy="660.6" r="0.57"/>
<circle cx="568.9" cy="680.0" r="0.75"/>
<circle cx="565.2" cy="683.4" r="0.65"/>
<circle cx="571.6" cy="685.4" r="1.08"/>
</g><g stroke="#444" stroke-width="0.24">
<circle cx="789.1" cy="380.8" r="0.97" fill="#000"/>
<circle cx="790.5" cy="378.3" r="1.01" fill="#333"/>
<circle cx="793.6" cy="383.5" r="1.08" fill="#000"/>
<circle cx="873.8" cy="417.4" r="0.97" fill="#222"/>
<circle cx="916.4" cy="484.6" r="1.29" fill="#000"/>
<circle cx="945.2" cy="524.6" r="1.29" fill="#444"/>
<circle cx="814.6" cy="463.4" r="0.43" fill="#000"/>
<circle cx="771.3" cy="456.9" r="1.29" fill="#111"/>
<circle cx="773.9" cy="459.9" r="0.97" fill="#222"/>
<circle cx="777.5" cy="459.9" r="0.97" fill="#333"/>
<circle cx="814.6" cy="480.3" r="1.29" fill="#000"/>
<circle cx="818.3" cy="480.0" r="1.29" fill="#000"/>
<circle cx="812.2" cy="483.9" r="1.29" fill="#000"/>
<circle cx="816.4" cy="483.5" r="1.08" fill="#000"/>
<circle cx="810.1" cy="504.7" r="0.57" fill="#000"/>
<circle cx="811.2" cy="506.6" r="0.59" fill="#000"/>
<circle cx="811.2" cy="502.9" r="0.61" fill="#000"/>
<circle cx="806.8" cy="506.6" r="0.62" fill="#000"/>
<circle cx="806.8" cy="502.9" r="0.63" fill="#000"/>
<circle cx="812.5" cy="504.8" r="0.67" fill="#000"/>
<circle cx="859.5" cy="520.6" r="1.08" fill="#000"/>
<circle cx="863.5" cy="520.6" r="1.08" fill="#000"/>
<circle cx="853.6" cy="538.9" r="0.67" fill="#000"/>
<circle cx="855.9" cy="538.9" r="0.68" fill="#000"/>
<circle cx="854.7" cy="540.9" r="0.68" fill="#000"/>
<circle cx="854.7" cy="536.9" r="0.69" fill="#000"/>
<circle cx="857.0" cy="540.9" r="0.69" fill="#000"/>
<circle cx="857.0" cy="536.9" r="0.69" fill="#000"/>
<circle cx="852.4" cy="540.9" r="0.70" fill="#000"/>
<circle cx="852.4" cy="536.9" r="0.70" fill="#000"/>
<circle cx="858.3" cy="538.9" r="0.70" fill="#000"/>
<circle cx="851.1" cy="538.9" r="0.72" fill="#000"/>
<circle cx="855.9" cy="543.0" r="0.72" fill="#000"/>
<circle cx="855.9" cy="534.8" r="0.74" fill="#000"/>
<circle cx="853.4" cy="543.1" r="0.74" fill="#000"/>
<circle cx="853.4" cy="534.8" r="0.74" fill="#000"/>
<circle cx="859.4" cy="541.0" r="0.75" fill="#000"/>
<circle cx="859.4" cy="536.8" r="0.75" fill="#000"/>
<circle cx="850.0" cy="541.1" r="0.75" fill="#000"/>
<circle cx="849.9" cy="536.8" r="0.75" fill="#000"/>
<circle cx="858.3" cy="543.2" r="0.77" fill="#000"/>
<circle cx="858.3" cy="534.6" r="0.77" fill="#000"/>
<circle cx="851.0" cy="543.3" r="0.78" fill="#000"/>
<circle cx="851.0" cy="534.5" r="0.79" fill="#000"/>
<circle cx="854.7" cy="545.2" r="0.79" fill="#000"/>
<circle cx="854.7" cy="532.6" r="0.80" fill="#000"/>
<circle cx="860.8" cy="538.9" r="0.80" fill="#000"/>
<circle cx="848.6" cy="538.9" r="0.81" fill="#000"/>
<circle cx="847.4" cy="536.6" r="0.82" fill="#000"/>
<circle cx="857.3" cy="545.6" r="0.82" fill="#000"/>
<circle cx="857.3" cy="532.2" r="0.82" fill="#000"/>
<circle cx="852.2" cy="545.6" r="0.82" fill="#000"/>
<circle cx="852.2" cy="532.2" r="0.83" fill="#000"/>
<circle cx="837.1" cy="547.4" r="1.28" fill="#000"/>
<circle cx="840.8" cy="547.4" r="1.29" fill="#000"/>
<circle cx="838.9" cy="550.5" r="1.29" fill="#000"/>
<circle cx="838.9" cy="544.3" r="1.30" fill="#000"/>
<circle cx="849.2" cy="552.0" r="1.29" fill="#000"/>
<circle cx="863.2" cy="551.9" r="0.58" fill="#000"/>
<circle cx="865.3" cy="551.9" r="0.60" fill="#000"/>
<circle cx="864.2" cy="553.7" r="0.60" fill="#000"/>
<circle cx="864.2" cy="550.0" r="0.60" fill="#000"/>
<circle cx="866.4" cy="553.7" r="0.60" fill="#000"/>
<circle cx="866.4" cy="550.0" r="0.62" fill="#000"/>
<circle cx="862.1" cy="553.7" r="0.62" fill="#000"/>
<circle cx="862.0" cy="550.0" r="0.62" fill="#000"/>
<circle cx="867.6" cy="551.9" r="0.62" fill="#000"/>
<circle cx="860.8" cy="551.9" r="0.63" fill="#000"/>
<circle cx="865.3" cy="555.7" r="0.65" fill="#000"/>
<circle cx="865.3" cy="548.0" r="0.66" fill="#000"/>
<circle cx="863.0" cy="555.7" r="0.66" fill="#000"/>
<circle cx="863.0" cy="548.0" r="0.66" fill="#000"/>
<circle cx="868.7" cy="553.9" r="0.68" fill="#000"/>
<circle cx="868.7" cy="549.9" r="0.69" fill="#000"/>
<circle cx="859.8" cy="553.9" r="0.70" fill="#000"/>
<circle cx="859.8" cy="549.8" r="0.70" fill="#000"/>
<circle cx="867.6" cy="556.0" r="0.70" fill="#000"/>
<circle cx="867.6" cy="547.8" r="0.71" fill="#000"/>
<circle cx="860.7" cy="556.1" r="0.72" fill="#000"/>
<circle cx="860.7" cy="547.6" r="0.73" fill="#000"/>
<circle cx="835.6" cy="584.9" r="0.97" fill="#666"/>
<circle cx="888.9" cy="572.5" r="1.29" fill="#000"/>
<circle cx="889.9" cy="611.4" r="0.54" fill="#333"/>
<circle cx="795.9" cy="636.0" r="0.97" fill="#000"/>
<circle cx="768.8" cy="695.3" r="1.29" fill="#000"/>
<circle cx="810.9" cy="680.3" r="0.54" fill="#000"/>
<circle cx="923.5" cy="726.8" r="1.29" fill="#222"/>
<circle cx="927.4" cy="726.6" r="1.29" fill="#222"/>
<circle cx="925.6" cy="730.0" r="1.08" fill="#333"/>
<circle cx="947.8" cy="749.1" r="0.86" fill="#222"/>
<circle cx="951.2" cy="749.1" r="0.86" fill="#000"/>
<circle cx="1041.8" cy="711.5" r="1.29" fill="#eee"/>
<circle cx="1033.0" cy="683.3" r="1.29" fill="#555"/>
<circle cx="1043.1" cy="689.6" r="1.08" fill="#555"/>
<circle cx="1039.9" cy="689.6" r="0.97" fill="#000"/>
<circle cx="298.0" cy="896.0" r="1.29" fill="#000"/>
<circle cx="301.8" cy="897.0" r="1.29" fill="#333"/>
<circle cx="296.4" cy="899.2" r="0.65" fill="#000"/>
<circle cx="364.9" cy="901.8" r="1.29" fill="#000"/>
<circle cx="367.0" cy="905.4" r="1.29" fill="#000"/>
<circle cx="366.3" cy="908.9" r="1.18" fill="#000"/>
<circle cx="363.0" cy="909.7" r="1.18" fill="#000"/>
<circle cx="359.2" cy="908.6" r="1.18" fill="#000"/>
<circle cx="357.9" cy="905.4" r="1.08" fill="#000"/>
<circle cx="360.6" cy="903.4" r="0.97" fill="#000"/>
<circle cx="363.3" cy="905.1" r="0.97" fill="#000"/>
<circle cx="361.7" cy="906.8" r="0.86" fill="#000"/>
<circle cx="331.9" cy="922.9" r="0.86" fill="#333"/>
<circle cx="333.2" cy="925.3" r="0.75" fill="#000"/>
<circle cx="336.4" cy="941.2" r="1.08" fill="#000"/>
<circle cx="333.2" cy="943.0" r="1.08" fill="#000"/>
<circle cx="328.3" cy="940.6" r="1.08" fill="#000"/>
<circle cx="328.1" cy="938.0" r="0.97" fill="#000"/>
<circle cx="333.5" cy="939.2" r="0.86" fill="#000"/>
<circle cx="325.4" cy="964.8" r="1.08" fill="#000"/>
<circle cx="323.0" cy="962.4" r="1.08" fill="#000"/>
<circle cx="325.1" cy="959.5" r="0.97" fill="#000"/>
<circle cx="444.7" cy="878.7" r="1.08" fill="#000"/>
<circle cx="441.2" cy="879.0" r="0.86" fill="#000"/>
<circle cx="438.0" cy="878.8" r="1.08" fill="#000"/>
<circle cx="440.2" cy="874.2" r="0.86" fill="#000"/>
<circle cx="442.3" cy="876.3" r="0.75" fill="#000"/>
<circle cx="439.1" cy="876.3" r="0.65" fill="#000"/>
<circle cx="414.9" cy="892.5" r="0.86" fill="#000"/>
<circle cx="418.1" cy="890.0" r="0.86" fill="#000"/>
<circle cx="421.9" cy="890.3" r="1.08" fill="#000"/>
<circle cx="418.1" cy="895.7" r="0.86" fill="#000"/>
<circle cx="414.9" cy="895.2" r="0.86" fill="#000"/>
<circle cx="417.0" cy="893.0" r="0.65" fill="#000"/>
<circle cx="438.2" cy="892.5" r="1.29" fill="#000"/>
<circle cx="442.3" cy="892.5" r="1.29" fill="#000"/>
<circle cx="445.0" cy="895.7" r="1.08" fill="#000"/>
<circle cx="444.5" cy="901.6" r="1.08" fill="#000"/>
<circle cx="438.5" cy="897.3" r="0.86" fill="#000"/>
<circle cx="439.6" cy="900.5" r="0.86" fill="#000"/>
<circle cx="436.4" cy="898.9" r="0.75" fill="#000"/>
<circle cx="441.8" cy="895.2" r="0.75" fill="#000"/>
<circle cx="447.9" cy="902.2" r="1.29" fill="#000"/>
<circle cx="452.3" cy="901.9" r="1.08" fill="#000"/>
<circle cx="450.4" cy="904.6" r="0.86" fill="#000"/>
<circle cx="453.6" cy="904.8" r="0.75" fill="#000"/>
<circle cx="469.4" cy="922.6" r="1.29" fill="#000"/>
<circle cx="473.2" cy="921.5" r="1.29" fill="#eee"/>
<circle cx="474.9" cy="925.1" r="1.08" fill="#000"/>
<circle cx="472.1" cy="925.3" r="0.86" fill="#000"/>
<circle cx="511.1" cy="958.9" r="1.29" fill="#000"/>
<circle cx="497.9" cy="958.1" r="1.29" fill="#000"/>
<circle cx="505.8" cy="955.9" r="0.86" fill="#000"/>
<circle cx="507.9" cy="959.1" r="1.08" fill="#000"/>
<circle cx="507.4" cy="962.4" r="1.08" fill="#000"/>
<circle cx="501.5" cy="959.7" r="1.08" fill="#000"/>
<circle cx="504.7" cy="958.8" r="0.75" fill="#000"/>
<circle cx="520.2" cy="990.5" r="1.08" fill="#000"/>
<circle cx="521.8" cy="987.0" r="0.97" fill="#000"/>
<circle cx="524.8" cy="986.8" r="0.86" fill="#000"/>
<circle cx="528.1" cy="987.0" r="0.86" fill="#000"/>
<circle cx="523.2" cy="990.0" r="0.86" fill="#000"/>
<circle cx="525.9" cy="989.7" r="0.75" fill="#000"/>
<circle cx="520.2" cy="978.4" r="1.29" fill="#000"/>
<circle cx="524.5" cy="978.0" r="1.08" fill="#000"/>
<circle cx="522.7" cy="980.9" r="0.86" fill="#000"/>
<circle cx="526.5" cy="981.2" r="1.08" fill="#000"/>
<circle cx="533.7" cy="1004.5" r="1.29" fill="#000"/>
<circle cx="537.4" cy="1006.7" r="1.08" fill="#333"/>
<circle cx="531.0" cy="1008.3" r="0.75" fill="#eee"/>
<circle cx="534.5" cy="1008.3" r="0.75" fill="#000"/>
<circle cx="533.1" cy="1011.0" r="0.86" fill="#eee"/>
<circle cx="531.8" cy="1013.9" r="0.75" fill="#000"/>
<circle cx="535.1" cy="1013.9" r="0.75" fill="#000"/>
<circle cx="538.1" cy="1013.7" r="0.75" fill="#000"/>
<circle cx="455.5" cy="976.8" r="1.29" fill="#000"/>
<circle cx="459.8" cy="976.0" r="1.18" fill="#000"/>
<circle cx="461.6" cy="979.6" r="0.97" fill="#000"/>
<circle cx="462.8" cy="1000.4" r="1.08" fill="#000"/>
<circle cx="371.1" cy="996.5" r="1.29" fill="#555"/>
<circle cx="414.4" cy="1017.2" r="1.08" fill="#000"/>
<circle cx="417.0" cy="1020.4" r="0.86" fill="#000"/>
<circle cx="414.1" cy="1020.1" r="0.65" fill="#000"/>
<circle cx="464.6" cy="1019.9" r="1.29" fill="#000"/>
<circle cx="468.1" cy="1019.6" r="1.08" fill="#000"/>
<circle cx="463.0" cy="1023.1" r="1.08" fill="#000"/>
<circle cx="466.2" cy="1022.8" r="0.86" fill="#000"/>
<circle cx="457.6" cy="1034.6" r="1.29" fill="#000"/>
<circle cx="462.2" cy="1034.6" r="1.08" fill="#000"/>
<circle cx="464.4" cy="1038.1" r="1.29" fill="#000"/>
<circle cx="460.1" cy="1038.4" r="1.08" fill="#000"/>
<circle cx="456.0" cy="1038.6" r="1.29" fill="#000"/>
<circle cx="459.2" cy="1041.9" r="1.29" fill="#eee"/>
<circle cx="395.5" cy="1034.1" r="1.08" fill="#333"/>
<circle cx="397.7" cy="1037.3" r="1.29" fill="#333"/>
<circle cx="391.0" cy="1057.2" r="1.29" fill="#333"/>
<circle cx="389.9" cy="1052.9" r="1.29" fill="#000"/>
<circle cx="392.3" cy="1047.8" r="1.08" fill="#000"/>
<circle cx="396.1" cy="1047.2" r="1.29" fill="#000"/>
<circle cx="402.6" cy="1051.3" r="1.29" fill="#000"/>
<circle cx="403.0" cy="1055.1" r="1.18" fill="#000"/>
<circle cx="400.1" cy="1057.0" r="1.08" fill="#000"/>
<circle cx="396.6" cy="1056.5" r="1.08" fill="#000"/>
<circle cx="394.2" cy="1053.2" r="0.97" fill="#000"/>
<circle cx="395.5" cy="1050.4" r="0.86" fill="#000"/>
<circle cx="398.8" cy="1050.8" r="0.86" fill="#000"/>
<circle cx="399.6" cy="1053.8" r="0.86" fill="#000"/>
<circle cx="381.3" cy="1054.3" r="1.08" fill="#555"/>
<circle cx="378.1" cy="1055.3" r="1.08" fill="#000"/>
<circle cx="380.4" cy="1057.4" r="0.86" fill="#000"/>
<circle cx="383.7" cy="1057.4" r="0.86" fill="#000"/>
<circle cx="391.6" cy="1038.7" r="0.54" fill="#000"/>
<circle cx="393.7" cy="1038.7" r="0.55" fill="#000"/>
<circle cx="392.6" cy="1040.6" r="0.58" fill="#000"/>
<circle cx="392.6" cy="1036.9" r="0.59" fill="#000"/>
<circle cx="394.8" cy="1040.6" r="0.59" fill="#000"/>
<circle cx="394.9" cy="1036.9" r="0.65" fill="#000"/>
<circle cx="390.4" cy="1040.6" r="0.67" fill="#000"/>
<circle cx="390.3" cy="1036.9" r="0.68" fill="#000"/>
<circle cx="504.6" cy="1061.5" r="0.65" fill="#000"/>
<circle cx="247.8" cy="1037.9" r="1.29" fill="#000"/>
<circle cx="251.8" cy="1036.9" r="1.29" fill="#000"/>
<circle cx="255.9" cy="1037.4" r="1.29" fill="#555"/>
<circle cx="259.3" cy="1039.8" r="1.29" fill="#000"/>
<circle cx="261.2" cy="1043.3" r="1.29" fill="#444"/>
<circle cx="259.6" cy="1050.6" r="1.29" fill="#000"/>
<circle cx="256.4" cy="1052.2" r="1.18" fill="#000"/>
<circle cx="249.4" cy="1049.8" r="1.18" fill="#000"/>
<circle cx="247.8" cy="1043.1" r="1.08" fill="#000"/>
<circle cx="254.8" cy="1045.1" r="0.53" fill="#000"/>
<circle cx="255.9" cy="1046.9" r="0.58" fill="#000"/>
<circle cx="251.6" cy="1043.3" r="0.61" fill="#000"/>
<circle cx="257.2" cy="1045.1" r="0.62" fill="#000"/>
<circle cx="254.8" cy="1048.8" r="0.67" fill="#555"/>
<circle cx="252.5" cy="1048.9" r="0.69" fill="#000"/>
<circle cx="254.9" cy="1041.3" r="0.69" fill="#555"/>
<circle cx="314.5" cy="1093.1" r="1.29" fill="#444"/>
<circle cx="310.2" cy="1093.9" r="1.29" fill="#eee"/>
<circle cx="306.2" cy="1093.4" r="1.29" fill="#555"/>
<circle cx="310.5" cy="1090.2" r="1.08" fill="#000"/>
<circle cx="305.5" cy="1086.4" r="0.97" fill="#000"/>
<circle cx="294.4" cy="1067.3" r="1.29" fill="#333"/>
<circle cx="233.8" cy="1079.3" r="1.29" fill="#444"/>
<circle cx="238.1" cy="1086.4" r="1.29" fill="#000"/>
<circle cx="234.4" cy="1088.8" r="1.08" fill="#000"/>
<circle cx="230.6" cy="1087.7" r="0.86" fill="#000"/>
<circle cx="228.2" cy="1085.5" r="0.75" fill="#000"/>
<circle cx="257.7" cy="1092.0" r="1.08" fill="#333"/>
<circle cx="251.0" cy="1088.8" r="0.86" fill="#000"/>
<circle cx="254.0" cy="1086.6" r="0.86" fill="#000"/>
<circle cx="255.3" cy="1089.3" r="0.75" fill="#000"/>
<circle cx="250.5" cy="1093.1" r="0.75" fill="#000"/>
<circle cx="196.0" cy="1116.4" r="1.29" fill="#000"/>
<circle cx="197.3" cy="1113.0" r="0.86" fill="#000"/>
<circle cx="200.5" cy="1113.5" r="0.86" fill="#000"/>
<circle cx="202.1" cy="1116.2" r="0.75" fill="#000"/>
<circle cx="199.4" cy="1116.4" r="0.75" fill="#000"/>
<circle cx="231.3" cy="1104.4" r="1.29" fill="#444"/>
<circle cx="240.1" cy="1105.4" r="1.29" fill="#000"/>
<circle cx="235.4" cy="1121.0" r="0.63" fill="#000"/>
<circle cx="234.3" cy="1123.0" r="0.63" fill="#000"/>
<circle cx="234.3" cy="1119.1" r="0.65" fill="#000"/>
<circle cx="236.6" cy="1119.1" r="0.66" fill="#555"/>
<circle cx="237.8" cy="1121.1" r="0.67" fill="#000"/>
<circle cx="238.9" cy="1123.1" r="0.73" fill="#555"/>
<circle cx="240.3" cy="1121.1" r="0.79" fill="#000"/>
<circle cx="227.1" cy="1118.8" r="0.82" fill="#000"/>
<circle cx="236.9" cy="1127.7" r="0.84" fill="#000"/>
<circle cx="236.9" cy="1114.3" r="0.85" fill="#000"/>
<circle cx="231.8" cy="1127.9" r="0.85" fill="#000"/>
<circle cx="231.8" cy="1114.2" r="0.86" fill="#000"/>
<circle cx="226.4" cy="1123.0" r="0.89" fill="#555"/>
<circle cx="239.6" cy="1114.3" r="0.90" fill="#000"/>
<circle cx="229.1" cy="1113.7" r="0.91" fill="#000"/>
<circle cx="243.3" cy="1116.6" r="0.96" fill="#000"/>
<circle cx="238.2" cy="1111.9" r="0.97" fill="#000"/>
<circle cx="242.4" cy="1113.7" r="1.02" fill="#000"/>
<circle cx="222.8" cy="1118.6" r="1.04" fill="#000"/>
<circle cx="223.1" cy="1114.7" r="1.09" fill="#555"/>
<circle cx="264.7" cy="1129.4" r="1.08" fill="#555"/>
<circle cx="190.8" cy="1142.6" r="1.29" fill="#333"/>
<circle cx="192.4" cy="1139.2" r="1.08" fill="#000"/>
<circle cx="196.0" cy="1137.4" r="1.08" fill="#000"/>
<circle cx="195.6" cy="1145.8" r="0.65" fill="#000"/>
<circle cx="201.0" cy="1140.1" r="0.65" fill="#000"/>
<circle cx="268.5" cy="1155.7" r="1.29" fill="#000"/>
<circle cx="266.1" cy="1148.5" r="1.08" fill="#000"/>
<circle cx="268.2" cy="1145.5" r="1.08" fill="#000"/>
<circle cx="271.5" cy="1144.4" r="0.97" fill="#000"/>
<circle cx="274.7" cy="1144.9" r="0.97" fill="#000"/>
<circle cx="277.4" cy="1147.6" r="0.97" fill="#000"/>
<circle cx="277.9" cy="1150.9" r="0.97" fill="#000"/>
<circle cx="275.8" cy="1153.3" r="0.97" fill="#000"/>
<circle cx="272.5" cy="1153.3" r="0.86" fill="#000"/>
<circle cx="269.8" cy="1151.4" r="0.86" fill="#000"/>
<circle cx="269.8" cy="1148.2" r="0.86" fill="#000"/>
<circle cx="272.5" cy="1147.1" r="0.86" fill="#000"/>
<circle cx="285.8" cy="1112.4" r="1.29" fill="#000"/>
<circle cx="293.0" cy="1109.7" r="1.29" fill="#333"/>
<circle cx="296.2" cy="1112.9" r="1.29" fill="#000"/>
<circle cx="289.2" cy="1113.4" r="0.97" fill="#000"/>
<circle cx="292.4" cy="1113.4" r="0.97" fill="#000"/>
<circle cx="290.3" cy="1116.7" r="1.08" fill="#000"/>
<circle cx="293.5" cy="1119.4" r="1.29" fill="#000"/>
<circle cx="296.7" cy="1116.7" r="1.08" fill="#000"/>
<circle cx="328.4" cy="1112.9" r="1.29" fill="#000"/>
<circle cx="324.1" cy="1112.4" r="1.29" fill="#000"/>
<circle cx="322.0" cy="1115.6" r="1.29" fill="#000"/>
<circle cx="325.8" cy="1116.3" r="1.29" fill="#000"/>
<circle cx="322.5" cy="1119.9" r="1.29" fill="#000"/>
<circle cx="327.4" cy="1120.2" r="1.29" fill="#000"/>
<circle cx="331.7" cy="1119.7" r="1.29" fill="#000"/>
<circle cx="451.2" cy="1097.5" r="1.29" fill="#444"/>
<circle cx="447.1" cy="1096.7" r="1.29" fill="#444"/>
<circle cx="437.5" cy="1101.0" r="0.75" fill="#000"/>
<circle cx="451.1" cy="1089.7" r="0.53" fill="#000"/>
<circle cx="450.1" cy="1087.9" r="0.54" fill="#000"/>
<circle cx="452.2" cy="1091.5" r="0.57" fill="#000"/>
<circle cx="452.2" cy="1087.9" r="0.57" fill="#000"/>
<circle cx="448.0" cy="1091.5" r="0.58" fill="#000"/>
<circle cx="453.4" cy="1089.7" r="0.59" fill="#000"/>
<circle cx="446.8" cy="1089.7" r="0.60" fill="#000"/>
<circle cx="451.1" cy="1086.0" r="0.69" fill="#000"/>
<circle cx="448.8" cy="1093.6" r="0.70" fill="#000"/>
<circle cx="448.8" cy="1085.8" r="0.71" fill="#000"/>
<circle cx="454.5" cy="1087.7" r="0.74" fill="#000"/>
<circle cx="445.7" cy="1087.7" r="0.76" fill="#000"/>
<circle cx="453.5" cy="1094.0" r="0.78" fill="#000"/>
<circle cx="453.5" cy="1085.4" r="0.79" fill="#000"/>
<circle cx="446.4" cy="1094.2" r="0.81" fill="#000"/>
<circle cx="450.1" cy="1095.7" r="0.82" fill="#000"/>
<circle cx="450.1" cy="1083.7" r="0.82" fill="#000"/>
<circle cx="456.0" cy="1089.7" r="0.85" fill="#000"/>
<circle cx="466.8" cy="1094.8" r="1.08" fill="#444"/>
<circle cx="473.5" cy="1096.1" r="1.08" fill="#333"/>
<circle cx="412.5" cy="1080.8" r="0.55" fill="#000"/>
<circle cx="414.6" cy="1080.8" r="0.56" fill="#000"/>
<circle cx="413.6" cy="1082.7" r="0.61" fill="#000"/>
<circle cx="413.6" cy="1078.7" r="0.71" fill="#000"/>
<circle cx="415.9" cy="1082.7" r="0.71" fill="#000"/>
<circle cx="411.2" cy="1082.7" r="0.71" fill="#000"/>
<circle cx="416.0" cy="1078.9" r="0.74" fill="#000"/>
<circle cx="411.1" cy="1078.9" r="0.74" fill="#000"/>
<circle cx="417.6" cy="1080.9" r="0.77" fill="#000"/>
<circle cx="409.5" cy="1080.9" r="0.77" fill="#000"/>
<circle cx="414.6" cy="1084.8" r="0.79" fill="#000"/>
<circle cx="412.0" cy="1085.1" r="0.84" fill="#000"/>
<circle cx="418.7" cy="1081.6" r="1.29" fill="#333"/>
<circle cx="400.5" cy="1089.0" r="0.59" fill="#555"/>
<circle cx="423.6" cy="1088.1" r="0.54" fill="#000"/>
<circle cx="424.6" cy="1089.9" r="0.55" fill="#000"/>
<circle cx="426.7" cy="1089.9" r="0.58" fill="#000"/>
<circle cx="422.4" cy="1089.9" r="0.63" fill="#000"/>
<circle cx="428.0" cy="1088.1" r="0.65" fill="#000"/>
<circle cx="420.8" cy="1088.1" r="0.81" fill="#000"/>
<circle cx="429.7" cy="1090.2" r="1.08" fill="#000"/>
<circle cx="403.3" cy="1108.6" r="1.29" fill="#000"/>
<circle cx="402.6" cy="1102.4" r="0.86" fill="#000"/>
<circle cx="422.4" cy="1105.6" r="1.29" fill="#555"/>
<circle cx="426.1" cy="1105.4" r="1.29" fill="#444"/>
<circle cx="424.6" cy="1112.1" r="0.62" fill="#000"/>
<circle cx="426.7" cy="1115.8" r="0.63" fill="#555"/>
<circle cx="422.3" cy="1112.1" r="0.68" fill="#000"/>
<circle cx="419.9" cy="1111.7" r="0.80" fill="#000"/>
<circle cx="449.2" cy="783.5" r="1.13" fill="#000"/>
<circle cx="448.3" cy="785.4" r="0.88" fill="#eee"/>
<circle cx="441.0" cy="799.2" r="0.50" fill="#222"/>
<circle cx="436.4" cy="804.9" r="0.76" fill="#000"/>
<circle cx="439.5" cy="804.9" r="0.63" fill="#000"/>
<circle cx="438.0" cy="807.5" r="0.76" fill="#000"/>
<circle cx="441.0" cy="807.5" r="0.63" fill="#000"/>
<circle cx="448.7" cy="795.7" r="0.38" fill="#222"/>
<circle cx="541.8" cy="459.5" r="1.29" fill="#000"/>
<circle cx="546.0" cy="459.9" r="1.29" fill="#000"/>
<circle cx="548.3" cy="463.5" r="1.29" fill="#333"/>
<circle cx="535.4" cy="463.8" r="1.29" fill="#000"/>
<circle cx="538.5" cy="466.2" r="1.08" fill="#000"/>
<circle cx="534.8" cy="468.3" r="1.29" fill="#000"/>
<circle cx="548.5" cy="468.0" r="1.08" fill="#000"/>
<circle cx="543.7" cy="462.9" r="0.97" fill="#000"/>
<circle cx="545.3" cy="465.8" r="0.86" fill="#000"/>
<circle cx="598.0" cy="468.6" r="0.54" fill="#333"/>
<circle cx="591.0" cy="472.9" r="0.97" fill="#000"/>
<circle cx="590.4" cy="475.5" r="0.65" fill="#000"/>
<circle cx="592.6" cy="475.6" r="0.54" fill="#000"/>
<circle cx="596.0" cy="473.4" r="0.54" fill="#333"/>
<circle cx="598.0" cy="473.4" r="0.54" fill="#333"/>
<circle cx="604.9" cy="476.9" r="0.54" fill="#333"/>
<circle cx="607.6" cy="476.7" r="0.86" fill="#000"/>
<circle cx="579.7" cy="491.7" r="1.08" fill="#000"/>
<circle cx="587.7" cy="493.1" r="1.29" fill="#000"/>
<circle cx="571.1" cy="496.0" r="0.86" fill="#333"/>
<circle cx="580.8" cy="495.2" r="0.86" fill="#000"/>
<circle cx="585.3" cy="496.0" r="0.97" fill="#222"/>
<circle cx="577.8" cy="499.5" r="1.08" fill="#222"/>
<circle cx="574.1" cy="500.9" r="1.08" fill="#000"/>
<circle cx="584.8" cy="499.5" r="0.97" fill="#333"/>
<circle cx="588.3" cy="501.1" r="1.29" fill="#000"/>
<circle cx="564.4" cy="500.4" r="1.29" fill="#000"/>
<circle cx="562.7" cy="504.1" r="1.29" fill="#000"/>
<circle cx="566.2" cy="503.8" r="0.86" fill="#333"/>
<circle cx="570.0" cy="503.8" r="1.08" fill="#000"/>
<circle cx="604.9" cy="502.7" r="0.86" fill="#eee"/>
<circle cx="678.9" cy="517.8" r="0.75" fill="#333"/>
<circle cx="680.5" cy="530.2" r="1.29" fill="#000"/>
<circle cx="684.3" cy="530.2" r="1.29" fill="#000"/>
<circle cx="672.2" cy="529.9" r="0.42" fill="#000"/>
<circle cx="673.1" cy="531.6" r="0.46" fill="#000"/>
<circle cx="673.1" cy="528.3" r="0.47" fill="#000"/>
<circle cx="675.1" cy="528.3" r="0.54" fill="#000"/>
<circle cx="671.0" cy="531.6" r="0.61" fill="#000"/>
<circle cx="660.1" cy="539.6" r="0.97" fill="#000"/>
<circle cx="661.1" cy="549.5" r="1.08" fill="#000"/>
<circle cx="610.1" cy="550.4" r="0.86" fill="#000"/>
<circle cx="620.5" cy="549.3" r="0.86" fill="#000"/>
<circle cx="622.5" cy="543.6" r="0.75" fill="#000"/>
<circle cx="617.3" cy="549.5" r="0.54" fill="#000"/>
<circle cx="624.5" cy="564.8" r="1.29" fill="#eee"/>
<circle cx="614.6" cy="564.6" r="0.75" fill="#000"/>
<circle cx="617.3" cy="564.6" r="0.75" fill="#000"/>
<circle cx="641.0" cy="556.8" r="0.86" fill="#000"/>
<circle cx="538.3" cy="541.2" r="1.29" fill="#000"/>
<circle cx="534.5" cy="540.9" r="0.54" fill="#000"/>
<circle cx="542.3" cy="546.3" r="1.29" fill="#000"/>
<circle cx="546.0" cy="546.8" r="0.86" fill="#000"/>
<circle cx="536.7" cy="554.0" r="1.08" fill="#000"/>
<circle cx="540.6" cy="554.0" r="1.08" fill="#000"/>
<circle cx="544.2" cy="549.5" r="0.65" fill="#000"/>
<circle cx="546.3" cy="549.5" r="0.65" fill="#000"/>
<circle cx="548.0" cy="549.5" r="0.54" fill="#000"/>
<circle cx="553.7" cy="552.7" r="1.29" fill="#222"/>
<circle cx="558.2" cy="551.7" r="0.65" fill="#000"/>
<circle cx="560.6" cy="551.7" r="0.65" fill="#000"/>
<circle cx="559.0" cy="553.8" r="0.54" fill="#000"/>
<circle cx="561.9" cy="553.8" r="0.65" fill="#000"/>
<circle cx="517.0" cy="570.1" r="1.08" fill="#eee"/>
<circle cx="545.3" cy="574.9" r="0.86" fill="#000"/>
<circle cx="548.8" cy="579.4" r="1.08" fill="#000"/>
<circle cx="561.7" cy="568.1" r="0.97" fill="#000"/>
<circle cx="567.5" cy="569.2" r="1.29" fill="#000"/>
<circle cx="558.4" cy="571.1" r="0.97" fill="#000"/>
<circle cx="561.4" cy="571.1" r="0.97" fill="#333"/>
<circle cx="564.3" cy="571.1" r="0.86" fill="#000"/>
<circle cx="566.8" cy="573.2" r="0.97" fill="#000"/>
<circle cx="559.8" cy="574.0" r="0.86" fill="#000"/>
<circle cx="563.0" cy="574.2" r="0.86" fill="#000"/>
<circle cx="572.2" cy="585.9" r="0.54" fill="#000"/>
<circle cx="574.3" cy="585.9" r="0.75" fill="#000"/>
<circle cx="576.2" cy="585.9" r="0.54" fill="#000"/>
<circle cx="600.4" cy="576.2" r="1.29" fill="#000"/>
<circle cx="598.7" cy="579.9" r="1.29" fill="#333"/>
<circle cx="603.0" cy="579.4" r="1.08" fill="#000"/>
<circle cx="591.5" cy="582.8" r="0.86" fill="#eee"/>
<circle cx="589.6" cy="586.4" r="1.29" fill="#000"/>
<circle cx="593.7" cy="586.4" r="1.08" fill="#eee"/>
<circle cx="589.6" cy="590.9" r="1.08" fill="#000"/>
<circle cx="543.7" cy="592.8" r="0.86" fill="#000"/>
<circle cx="549.6" cy="595.2" r="1.29" fill="#222"/>
<circle cx="541.8" cy="595.3" r="0.65" fill="#000"/>
<circle cx="545.3" cy="595.3" r="0.75" fill="#000"/>
<circle cx="547.2" cy="599.8" r="0.65" fill="#555"/>
<circle cx="552.3" cy="599.8" r="0.65" fill="#555"/>
<circle cx="557.1" cy="594.5" r="0.43" fill="#000"/>
<circle cx="559.2" cy="594.5" r="0.43" fill="#000"/>
<circle cx="568.9" cy="599.5" r="0.54" fill="#000"/>
<circle cx="577.2" cy="599.5" r="1.29" fill="#000"/>
<circle cx="581.8" cy="599.5" r="1.29" fill="#000"/>
<circle cx="561.1" cy="606.8" r="0.65" fill="#000"/>
<circle cx="554.9" cy="607.4" r="0.43" fill="#000"/>
<circle cx="557.1" cy="607.4" r="0.43" fill="#000"/>
<circle cx="559.8" cy="609.0" r="0.65" fill="#000"/>
<circle cx="562.5" cy="609.0" r="0.54" fill="#000"/>
<circle cx="497.4" cy="590.2" r="1.29" fill="#444"/>
<circle cx="505.7" cy="591.5" r="1.08" fill="#222"/>
<circle cx="494.9" cy="593.9" r="1.29" fill="#222"/>
<circle cx="499.0" cy="593.9" r="1.08" fill="#000"/>
<circle cx="502.8" cy="593.9" r="0.97" fill="#000"/>
<circle cx="507.4" cy="595.0" r="1.08" fill="#000"/>
<circle cx="497.6" cy="597.2" r="0.97" fill="#000"/>
<circle cx="501.2" cy="596.9" r="0.86" fill="#000"/>
<circle cx="504.6" cy="596.9" r="0.86" fill="#000"/>
<circle cx="507.1" cy="598.8" r="1.18" fill="#000"/>
<circle cx="499.6" cy="600.2" r="0.97" fill="#000"/>
<circle cx="503.3" cy="600.2" r="0.97" fill="#000"/>
<circle cx="500.6" cy="609.8" r="1.08" fill="#000"/>
<circle cx="504.4" cy="609.3" r="1.08" fill="#000"/>
<circle cx="506.9" cy="612.4" r="0.97" fill="#000"/>
<circle cx="503.0" cy="613.0" r="0.86" fill="#000"/>
<circle cx="502.6" cy="618.1" r="0.86" fill="#000"/>
<circle cx="504.9" cy="616.5" r="0.65" fill="#000"/>
<circle cx="507.3" cy="618.7" r="0.65" fill="#000"/>
<circle cx="502.3" cy="620.8" r="0.65" fill="#000"/>
<circle cx="504.9" cy="619.7" r="0.54" fill="#000"/>
<circle cx="507.8" cy="620.3" r="0.65" fill="#000"/>
<circle cx="548.5" cy="621.6" r="0.86" fill="#eee"/>
<circle cx="562.3" cy="616.3" r="1.29" fill="#333"/>
<circle cx="560.6" cy="620.3" r="1.29" fill="#000"/>
<circle cx="516.0" cy="631.0" r="0.86" fill="#333"/>
<circle cx="537.2" cy="631.9" r="0.97" fill="#444"/>
<circle cx="538.5" cy="634.8" r="0.86" fill="#000"/>
<circle cx="515.2" cy="650.9" r="0.54" fill="#000"/>
<circle cx="517.3" cy="661.1" r="0.43" fill="#000"/>
<circle cx="519.5" cy="661.1" r="0.43" fill="#000"/>
<circle cx="523.2" cy="658.2" r="0.54" fill="#000"/>
<circle cx="656.0" cy="593.9" r="0.86" fill="#333"/>
<circle cx="651.0" cy="597.7" r="0.97" fill="#000"/>
<circle cx="654.4" cy="597.2" r="0.86" fill="#000"/>
<circle cx="658.0" cy="596.9" r="0.86" fill="#000"/>
<circle cx="653.9" cy="600.6" r="1.29" fill="#333"/>
<circle cx="666.2" cy="601.5" r="0.65" fill="#000"/>
<circle cx="669.7" cy="601.1" r="0.65" fill="#000"/>
<circle cx="664.8" cy="604.5" r="0.86" fill="#000"/>
<circle cx="671.1" cy="604.1" r="0.65" fill="#000"/>
<circle cx="666.8" cy="607.2" r="0.86" fill="#000"/>
<circle cx="669.8" cy="606.8" r="0.54" fill="#000"/>
<circle cx="638.3" cy="603.1" r="1.08" fill="#000"/>
<circle cx="645.1" cy="604.5" r="0.86" fill="#000"/>
<circle cx="634.0" cy="609.2" r="1.29" fill="#000"/>
<circle cx="637.7" cy="606.5" r="0.86" fill="#000"/>
<circle cx="642.0" cy="606.3" r="0.86" fill="#000"/>
<circle cx="647.6" cy="607.2" r="0.86" fill="#000"/>
<circle cx="637.5" cy="609.5" r="0.75" fill="#000"/>
<circle cx="641.5" cy="609.5" r="0.86" fill="#000"/>
<circle cx="635.9" cy="612.7" r="1.29" fill="#222"/>
<circle cx="643.1" cy="612.4" r="0.86" fill="#000"/>
<circle cx="666.5" cy="621.6" r="1.29" fill="#444"/>
<circle cx="670.5" cy="624.0" r="0.54" fill="#000"/>
<circle cx="673.2" cy="624.0" r="0.54" fill="#000"/>
<circle cx="658.6" cy="610.3" r="0.36" fill="#000"/>
<circle cx="660.4" cy="610.3" r="0.39" fill="#000"/>
<circle cx="659.4" cy="611.9" r="0.41" fill="#000"/>
<circle cx="659.4" cy="608.8" r="0.41" fill="#000"/>
<circle cx="661.3" cy="611.9" r="0.43" fill="#000"/>
<circle cx="661.3" cy="608.8" r="0.43" fill="#000"/>
<circle cx="657.6" cy="611.8" r="0.46" fill="#000"/>
<circle cx="657.5" cy="608.8" r="0.49" fill="#000"/>
<circle cx="662.4" cy="610.3" r="0.51" fill="#000"/>
<circle cx="663.4" cy="616.5" r="0.38" fill="#000"/>
<circle cx="665.4" cy="616.5" r="0.39" fill="#000"/>
<circle cx="664.4" cy="618.2" r="0.40" fill="#000"/>
<circle cx="666.4" cy="618.2" r="0.45" fill="#000"/>
<circle cx="666.4" cy="614.8" r="0.45" fill="#000"/>
<circle cx="667.6" cy="616.5" r="0.50" fill="#000"/>
<circle cx="660.9" cy="616.5" r="0.59" fill="#000"/>
<circle cx="665.3" cy="620.1" r="0.60" fill="#000"/>
<circle cx="665.3" cy="612.9" r="0.60" fill="#000"/>
<circle cx="643.1" cy="636.9" r="0.86" fill="#000"/>
<circle cx="633.5" cy="645.5" r="0.40" fill="#000"/>
<circle cx="635.5" cy="645.5" r="0.40" fill="#000"/>
<circle cx="636.5" cy="647.3" r="0.44" fill="#000"/>
<circle cx="632.4" cy="647.3" r="0.46" fill="#000"/>
<circle cx="636.6" cy="643.7" r="0.47" fill="#000"/>
<circle cx="632.4" cy="643.7" r="0.47" fill="#000"/>
<circle cx="637.8" cy="645.5" r="0.48" fill="#000"/>
<circle cx="631.2" cy="645.5" r="0.49" fill="#000"/>
<circle cx="635.4" cy="649.1" r="0.49" fill="#000"/>
<circle cx="633.3" cy="649.2" r="0.50" fill="#000"/>
<circle cx="635.5" cy="641.8" r="0.51" fill="#000"/>
<circle cx="630.2" cy="647.6" r="0.60" fill="#000"/>
<circle cx="638.9" cy="643.5" r="0.61" fill="#000"/>
<circle cx="637.7" cy="649.7" r="0.62" fill="#000"/>
<circle cx="637.8" cy="641.4" r="0.62" fill="#000"/>
<circle cx="631.0" cy="649.9" r="0.63" fill="#000"/>
<circle cx="653.1" cy="631.0" r="0.35" fill="#000"/>
<circle cx="654.0" cy="632.6" r="0.37" fill="#000"/>
<circle cx="654.0" cy="629.4" r="0.44" fill="#000"/>
<circle cx="655.9" cy="632.6" r="0.51" fill="#000"/>
<circle cx="644.4" cy="634.3" r="0.35" fill="#000"/>
<circle cx="645.3" cy="635.9" r="0.43" fill="#000"/>
<circle cx="645.3" cy="632.6" r="0.44" fill="#000"/>
<circle cx="655.8" cy="634.3" r="0.36" fill="#000"/>
<circle cx="657.6" cy="634.3" r="0.43" fill="#000"/>
<circle cx="658.6" cy="632.6" r="0.46" fill="#000"/>
<circle cx="667.5" cy="639.6" r="0.37" fill="#000"/>
<circle cx="669.3" cy="639.6" r="0.41" fill="#000"/>
<circle cx="668.4" cy="641.2" r="0.44" fill="#000"/>
<circle cx="668.4" cy="638.0" r="0.45" fill="#000"/>
<circle cx="670.4" cy="641.3" r="0.52" fill="#000"/>
<circle cx="670.4" cy="638.0" r="0.52" fill="#000"/>
<circle cx="650.9" cy="640.7" r="0.37" fill="#000"/>
<circle cx="652.7" cy="640.7" r="0.38" fill="#000"/>
<circle cx="651.8" cy="642.4" r="0.44" fill="#000"/>
<circle cx="651.8" cy="639.1" r="0.45" fill="#000"/>
<circle cx="659.0" cy="642.3" r="0.38" fill="#000"/>
<circle cx="660.8" cy="642.3" r="0.40" fill="#000"/>
<circle cx="659.8" cy="640.7" r="0.45" fill="#000"/>
<circle cx="661.8" cy="643.9" r="0.50" fill="#000"/>
<circle cx="661.8" cy="640.7" r="0.50" fill="#000"/>
<circle cx="668.0" cy="646.6" r="0.39" fill="#000"/>
<circle cx="669.9" cy="646.6" r="0.42" fill="#000"/>
<circle cx="669.0" cy="648.3" r="0.42" fill="#000"/>
<circle cx="669.0" cy="645.0" r="0.43" fill="#000"/>
<circle cx="670.9" cy="648.3" r="0.46" fill="#000"/>
<circle cx="670.9" cy="645.0" r="0.47" fill="#000"/>
<circle cx="646.6" cy="646.2" r="0.36" fill="#000"/>
<circle cx="648.4" cy="646.2" r="0.39" fill="#000"/>
<circle cx="647.5" cy="644.6" r="0.41" fill="#000"/>
<circle cx="657.1" cy="647.2" r="0.39" fill="#000"/>
<circle cx="658.1" cy="648.8" r="0.48" fill="#000"/>
<circle cx="658.1" cy="645.6" r="0.49" fill="#000"/>
<circle cx="646.3" cy="652.6" r="0.40" fill="#000"/>
<circle cx="645.3" cy="654.2" r="0.42" fill="#000"/>
<circle cx="645.3" cy="650.9" r="0.42" fill="#000"/>
<circle cx="647.3" cy="654.2" r="0.43" fill="#000"/>
<circle cx="647.3" cy="650.9" r="0.45" fill="#000"/>
<circle cx="654.9" cy="653.1" r="0.39" fill="#000"/>
<circle cx="654.0" cy="654.7" r="0.47" fill="#000"/>
<circle cx="655.9" cy="654.7" r="0.51" fill="#000"/>
<circle cx="656.0" cy="651.5" r="0.53" fill="#000"/>
<circle cx="662.8" cy="653.6" r="0.34" fill="#000"/>
<circle cx="664.5" cy="653.6" r="0.38" fill="#000"/>
<circle cx="663.6" cy="655.3" r="0.46" fill="#000"/>
<circle cx="665.6" cy="655.2" r="0.49" fill="#000"/>
<circle cx="665.6" cy="652.0" r="0.53" fill="#000"/>
<circle cx="645.0" cy="657.9" r="0.37" fill="#000"/>
<circle cx="646.8" cy="657.9" r="0.40" fill="#000"/>
<circle cx="645.9" cy="659.5" r="0.41" fill="#000"/>
<circle cx="647.8" cy="659.6" r="0.48" fill="#000"/>
<circle cx="647.9" cy="656.3" r="0.50" fill="#000"/>
<circle cx="651.0" cy="660.1" r="0.36" fill="#000"/>
<circle cx="651.8" cy="661.7" r="0.47" fill="#000"/>
<circle cx="651.8" cy="658.4" r="0.49" fill="#000"/>
<circle cx="653.8" cy="658.5" r="0.51" fill="#000"/>
<circle cx="660.3" cy="659.5" r="0.40" fill="#000"/>
<circle cx="659.3" cy="661.1" r="0.41" fill="#000"/>
<circle cx="661.3" cy="661.1" r="0.49" fill="#000"/>
<circle cx="665.5" cy="647.0" r="0.32" fill="#000"/>
<circle cx="664.7" cy="648.4" r="0.32" fill="#000"/>
<circle cx="664.7" cy="645.6" r="0.34" fill="#000"/>
<circle cx="666.4" cy="648.5" r="0.43" fill="#000"/>
<circle cx="662.9" cy="648.5" r="0.49" fill="#000"/>
<circle cx="598.7" cy="671.6" r="0.46" fill="#000"/>
<circle cx="600.7" cy="671.6" r="0.47" fill="#000"/>
<circle cx="599.7" cy="673.3" r="0.47" fill="#000"/>
<circle cx="599.7" cy="669.8" r="0.47" fill="#000"/>
<circle cx="601.8" cy="673.3" r="0.50" fill="#000"/>
<circle cx="601.8" cy="669.8" r="0.50" fill="#000"/>
<circle cx="597.7" cy="673.3" r="0.52" fill="#000"/>
<circle cx="597.7" cy="669.8" r="0.53" fill="#000"/>
<circle cx="603.0" cy="671.6" r="0.54" fill="#000"/>
<circle cx="596.3" cy="671.6" r="0.64" fill="#000"/>
<circle cx="600.7" cy="675.3" r="0.65" fill="#000"/>
<circle cx="602.3" cy="669.2" r="0.86" fill="#000"/>
<circle cx="609.5" cy="672.3" r="0.44" fill="#000"/>
<circle cx="611.4" cy="672.3" r="0.49" fill="#000"/>
<circle cx="610.4" cy="674.0" r="0.51" fill="#000"/>
<circle cx="610.4" cy="670.5" r="0.54" fill="#000"/>
<circle cx="612.5" cy="674.0" r="0.55" fill="#000"/>
<circle cx="612.5" cy="670.6" r="0.57" fill="#000"/>
<circle cx="608.4" cy="673.9" r="0.57" fill="#000"/>
<circle cx="608.3" cy="670.7" r="0.58" fill="#000"/>
<circle cx="613.7" cy="672.3" r="0.59" fill="#000"/>
<circle cx="606.9" cy="672.3" r="0.60" fill="#000"/>
<circle cx="611.4" cy="675.9" r="0.63" fill="#000"/>
<circle cx="613.0" cy="670.0" r="0.86" fill="#000"/>
<circle cx="585.1" cy="686.8" r="0.97" fill="#000"/>
<circle cx="587.7" cy="686.5" r="0.65" fill="#000"/>
<circle cx="584.2" cy="690.4" r="1.08" fill="#000"/>
<circle cx="588.0" cy="691.5" r="1.29" fill="#000"/>
<circle cx="591.7" cy="690.2" r="1.29" fill="#000"/>
<circle cx="588.8" cy="688.6" r="0.65" fill="#000"/>
<circle cx="582.7" cy="698.3" r="0.97" fill="#000"/>
<circle cx="586.7" cy="698.0" r="0.97" fill="#000"/>
<circle cx="584.5" cy="701.0" r="0.75" fill="#000"/>
<circle cx="589.1" cy="700.4" r="0.86" fill="#000"/>
<circle cx="583.4" cy="704.4" r="0.75" fill="#000"/>
<circle cx="586.7" cy="703.7" r="0.75" fill="#000"/>
<circle cx="589.4" cy="703.7" r="0.54" fill="#000"/>
<circle cx="585.6" cy="706.3" r="0.75" fill="#000"/>
<circle cx="589.1" cy="706.3" r="0.65" fill="#000"/>
<circle cx="597.4" cy="696.1" r="0.97" fill="#000"/>
<circle cx="593.7" cy="697.5" r="0.43" fill="#000"/>
<circle cx="596.9" cy="698.8" r="0.43" fill="#000"/>
<circle cx="599.0" cy="698.8" r="0.43" fill="#000"/>
<circle cx="616.5" cy="691.8" r="0.97" fill="#000"/>
<circle cx="620.2" cy="691.1" r="0.86" fill="#000"/>
<circle cx="618.9" cy="693.7" r="0.43" fill="#000"/>
<circle cx="621.4" cy="693.7" r="0.43" fill="#000"/>
<circle cx="599.0" cy="678.9" r="0.75" fill="#000"/>
<circle cx="604.4" cy="678.9" r="0.65" fill="#000"/>
<circle cx="612.5" cy="681.8" r="0.75" fill="#000"/>
<circle cx="614.6" cy="685.1" r="0.65" fill="#000"/>
<circle cx="609.6" cy="685.4" r="0.54" fill="#000"/>
<circle cx="615.8" cy="699.6" r="0.42" fill="#000"/>
<circle cx="617.9" cy="699.6" r="0.46" fill="#000"/>
<circle cx="616.8" cy="701.4" r="0.48" fill="#000"/>
<circle cx="616.8" cy="697.7" r="0.52" fill="#000"/>
<circle cx="619.0" cy="701.5" r="0.53" fill="#000"/>
<circle cx="619.1" cy="697.7" r="0.54" fill="#000"/>
<circle cx="614.6" cy="701.4" r="0.54" fill="#000"/>
<circle cx="614.5" cy="697.8" r="0.59" fill="#000"/>
<circle cx="608.3" cy="703.9" r="0.38" fill="#000"/>
<circle cx="610.3" cy="703.9" r="0.41" fill="#000"/>
<circle cx="609.3" cy="705.7" r="0.46" fill="#000"/>
<circle cx="609.3" cy="702.1" r="0.46" fill="#000"/>
<circle cx="611.4" cy="705.7" r="0.50" fill="#000"/>
<circle cx="611.5" cy="702.1" r="0.60" fill="#000"/>
<circle cx="607.0" cy="705.7" r="0.62" fill="#000"/>
<circle cx="607.0" cy="702.1" r="0.62" fill="#000"/>
<circle cx="599.7" cy="680.5" r="0.40" fill="#000"/>
<circle cx="601.6" cy="680.5" r="0.40" fill="#000"/>
<circle cx="600.6" cy="682.2" r="0.41" fill="#000"/>
<circle cx="600.6" cy="678.9" r="0.43" fill="#000"/>
<circle cx="605.2" cy="680.6" r="0.38" fill="#000"/>
<circle cx="606.9" cy="680.6" r="0.40" fill="#000"/>
<circle cx="606.0" cy="682.2" r="0.47" fill="#000"/>
<circle cx="610.0" cy="681.9" r="0.36" fill="#000"/>
<circle cx="611.8" cy="681.9" r="0.40" fill="#000"/>
<circle cx="610.9" cy="683.5" r="0.42" fill="#000"/>
<circle cx="610.9" cy="680.2" r="0.44" fill="#000"/>
<circle cx="600.6" cy="686.1" r="0.35" fill="#000"/>
<circle cx="602.4" cy="686.1" r="0.46" fill="#000"/>
<circle cx="601.4" cy="684.5" r="0.48" fill="#000"/>
<circle cx="605.9" cy="685.9" r="0.34" fill="#000"/>
<circle cx="607.6" cy="685.9" r="0.35" fill="#000"/>
<circle cx="606.8" cy="687.4" r="0.35" fill="#000"/>
<circle cx="608.5" cy="687.4" r="0.36" fill="#000"/>
<circle cx="608.5" cy="684.4" r="0.38" fill="#000"/>
<circle cx="612.9" cy="686.8" r="0.40" fill="#000"/>
<circle cx="614.8" cy="686.8" r="0.41" fill="#000"/>
<circle cx="613.9" cy="685.1" r="0.42" fill="#000"/>
<circle cx="598.7" cy="691.5" r="0.35" fill="#000"/>
<circle cx="600.5" cy="691.5" r="0.38" fill="#000"/>
<circle cx="599.6" cy="693.1" r="0.43" fill="#000"/>
<circle cx="604.0" cy="690.8" r="0.38" fill="#000"/>
<circle cx="604.9" cy="692.4" r="0.41" fill="#000"/>
<circle cx="604.9" cy="689.1" r="0.43" fill="#000"/>
<circle cx="611.6" cy="691.5" r="0.42" fill="#000"/>
<circle cx="610.6" cy="689.9" r="0.44" fill="#000"/>
<circle cx="602.5" cy="695.2" r="0.35" fill="#000"/>
<circle cx="604.2" cy="695.2" r="0.36" fill="#000"/>
<circle cx="603.3" cy="696.7" r="0.37" fill="#000"/>
<circle cx="603.3" cy="693.5" r="0.48" fill="#000"/>
<circle cx="608.9" cy="695.8" r="0.35" fill="#000"/>
<circle cx="609.8" cy="697.4" r="0.43" fill="#000"/>
<circle cx="609.8" cy="694.2" r="0.47" fill="#000"/>
<circle cx="571.9" cy="656.3" r="1.29" fill="#000"/>
<circle cx="576.1" cy="658.5" r="1.29" fill="#000"/>
<circle cx="578.6" cy="661.9" r="1.08" fill="#333"/>
<circle cx="579.7" cy="665.3" r="0.97" fill="#000"/>
<circle cx="579.1" cy="668.9" r="0.97" fill="#000"/>
<circle cx="563.5" cy="671.1" r="0.97" fill="#000"/>
<circle cx="564.6" cy="674.1" r="0.86" fill="#000"/>
<circle cx="567.6" cy="675.7" r="1.08" fill="#000"/>
<circle cx="571.1" cy="674.9" r="0.86" fill="#000"/>
<circle cx="562.7" cy="664.9" r="0.86" fill="#000"/>
<circle cx="569.6" cy="666.2" r="0.36" fill="#000"/>
<circle cx="571.4" cy="666.2" r="0.37" fill="#000"/>
<circle cx="570.5" cy="667.8" r="0.37" fill="#000"/>
<circle cx="570.5" cy="664.7" r="0.37" fill="#000"/>
<circle cx="572.3" cy="664.7" r="0.38" fill="#000"/>
<circle cx="568.6" cy="667.8" r="0.40" fill="#000"/>
<circle cx="571.3" cy="663.0" r="0.46" fill="#000"/>
<circle cx="569.4" cy="669.6" r="0.47" fill="#000"/>
<circle cx="569.4" cy="662.9" r="0.47" fill="#000"/>
<circle cx="574.2" cy="664.4" r="0.48" fill="#000"/>
<circle cx="566.6" cy="664.4" r="0.50" fill="#000"/>
<circle cx="573.3" cy="669.9" r="0.50" fill="#000"/>
<circle cx="573.3" cy="662.6" r="0.51" fill="#000"/>
<circle cx="570.5" cy="671.3" r="0.52" fill="#000"/>
<circle cx="570.5" cy="661.1" r="0.52" fill="#000"/>
<circle cx="575.3" cy="666.3" r="0.53" fill="#000"/>
<circle cx="576.3" cy="664.4" r="0.54" fill="#000"/>
<circle cx="565.5" cy="666.4" r="0.54" fill="#000"/>
<circle cx="564.5" cy="664.5" r="0.55" fill="#000"/>
<circle cx="572.6" cy="660.6" r="0.56" fill="#000"/>
<circle cx="568.4" cy="671.9" r="0.57" fill="#000"/>
<circle cx="575.4" cy="669.7" r="0.58" fill="#000"/>
<circle cx="575.5" cy="662.3" r="0.61" fill="#000"/>
<circle cx="542.4" cy="678.6" r="0.43" fill="#000"/>
<circle cx="545.8" cy="676.2" r="0.54" fill="#000"/>
<circle cx="548.0" cy="676.0" r="0.54" fill="#000"/>
<circle cx="550.1" cy="676.2" r="0.54" fill="#000"/>
<circle cx="547.2" cy="679.7" r="0.65" fill="#000"/>
<circle cx="550.1" cy="680.0" r="0.54" fill="#000"/>
<circle cx="552.8" cy="680.5" r="0.54" fill="#000"/>
<circle cx="555.2" cy="680.8" r="0.86" fill="#000"/>
<circle cx="551.2" cy="677.8" r="0.43" fill="#000"/>
<circle cx="558.7" cy="677.0" r="0.65" fill="#000"/>
<circle cx="558.4" cy="679.5" r="0.54" fill="#000"/>
<circle cx="560.6" cy="679.5" r="0.43" fill="#000"/>
<circle cx="562.5" cy="679.7" r="0.43" fill="#000"/>
<circle cx="566.0" cy="681.1" r="0.65" fill="#000"/>
<circle cx="568.1" cy="685.6" r="0.97" fill="#000"/>
<circle cx="567.8" cy="682.7" r="0.43" fill="#000"/>
<circle cx="570.0" cy="682.7" r="0.43" fill="#000"/>
</g>
<text x="775.5" y="590">test</text>
<text x="448.5" y="789.8">samples</text>
<text x="365" y="1017">src</text>
</svg>
<div class="t" style="left:13.2px;top:23px;font-size:30.8px;line-height:30.8px;color:#999;font-weight:normal;-webkit-text-stroke:0.34px;">Simulate the effects of a planned off-boarding if some developers leave your organization</div>
<svg class="i" style="left:1684px;top:22.900px" width="28.5" height="28.5" viewBox="0 0 28.500 28.500"><rect width="28.500" height="28.500" rx="4.500" fill="#0521f8"/><path d="M14.250 6.500v15.500M6.500 14.250h15.500" stroke="#fff" stroke-width="4.200" stroke-linecap="round"/></svg>
<div class="t" style="left:1288.4px;top:130px;font-size:25.8px;line-height:25.8px;color:#333;font-weight:bold;letter-spacing:0.08px;">Legend</div>
<svg class="i" style="left:1349px;top:179.0px" width="14" height="16.1" viewBox="0 0 14 16.1"><rect x=".85" y=".85" width="12.3" height="14.4" rx="5.2" fill="#87cefa" stroke="#777" stroke-width="1.7"/></svg>
<div class="t" style="left:1370.6px;top:178px;font-size:20.8px;line-height:20.8px;color:#333;font-weight:normal;letter-spacing:-0.12px;-webkit-text-stroke:0.23px;">Knowledge</div>
<svg class="i" style="left:1349px;top:211.0px" width="14" height="16.1" viewBox="0 0 14 16.1"><rect x=".85" y=".85" width="12.3" height="14.4" rx="5.2" fill="#000" stroke="#777" stroke-width="1.7"/></svg>
<div class="t" style="left:1370.6px;top:210px;font-size:20.8px;line-height:20.8px;color:#333;font-weight:normal;letter-spacing:-0.12px;-webkit-text-stroke:0.23px;">Current Loss</div>
<svg class="i" style="left:1349px;top:243.0px" width="14" height="16.1" viewBox="0 0 14 16.1"><rect x=".85" y=".85" width="12.3" height="14.4" rx="5.2" fill="#f00" stroke="#777" stroke-width="1.7"/></svg>
<div class="t" style="left:1370.6px;top:242px;font-size:20.8px;line-height:20.8px;color:#333;font-weight:normal;letter-spacing:-0.12px;-webkit-text-stroke:0.23px;">Simulated Loss</div>
<svg class="i" style="left:1349px;top:275.0px" width="14" height="16.1" viewBox="0 0 14 16.1"><rect x=".85" y=".85" width="12.3" height="14.4" rx="5.2" fill="#f5f5f5" stroke="#777" stroke-width="1.7"/></svg>
<div class="t" style="left:1370.6px;top:274px;font-size:20.8px;line-height:20.8px;color:#333;font-weight:normal;letter-spacing:-0.12px;-webkit-text-stroke:0.23px;">Inconclusive</div>
<div style="position:absolute;left:1289px;top:331.200px;width:578px;height:3.800px;background:#c9c9c9"></div>
<div class="t" style="left:1288.6px;top:352px;font-size:16px;line-height:16px;color:#333;font-weight:normal;-webkit-text-stroke:0.18px;">Mvc/</div>
<svg class="i" style="left:1338.2px;top:351.0px" width="15.2" height="15.2" viewBox="0 0 512 512"><g transform="rotate(180 256 256)"><circle cx="256" cy="256" r="250" fill="#333"/><path fill="none" stroke="#fff" stroke-width="70" d="M256 425V140M122 272L256 138L390 272"/></g></svg>
<div class="t" style="left:1287.2px;top:382px;font-size:25.8px;line-height:25.8px;color:#333;font-weight:bold;letter-spacing:0.08px;"><span style="color:#666">Directory:</span> Mvc</div>
<div class="row" style="left:1296.800px;top:431.200px;width:562.200px;height:37.600px"></div>
<svg class="i" style="left:1302.7px;top:442.8px" width="15.3" height="15.3" viewBox="0 0 512 512"><g><circle cx="256" cy="256" r="250" fill="#0521f8"/><path fill="none" stroke="#fff" stroke-width="70" d="M256 425V140M122 272L256 138L390 272"/></g></svg>
<div class="t" style="left:1335.7px;top:444px;font-size:16.64px;line-height:16.64px;color:#0521f8;font-weight:normal;letter-spacing:-0.1px;-webkit-text-stroke:0.18px;">...parent...</div>
<div class="row" style="left:1307.200px;top:473.3px;width:551.800px;height:37.7px"></div>
<svg class="i" style="left:1311.5px;top:482.8px" width="19.1" height="14.2" viewBox="0 32 576 384" preserveAspectRatio="none"><path fill="#0521f8" d="M572.7 260.4l-72.4 124.2A64 64 0 0 1 445 416H45c-18.5 0-30.1-20.100-20.700-36.100l72.400-124.200A64 64 0 0 1 152 224h400c18.500 0 30.100 20.100 20.700 36.400zM152 192h328v-48c0-26.500-21.500-48-48-48H272l-64-64H48C21.500 32 0 53.500 0 80v278l69.100-118.400C86.200 210.200 118 192 152 192z"/></svg>
<div class="t" style="left:1348.6px;top:484px;font-size:16.64px;line-height:16.64px;color:#0521f8;font-weight:normal;letter-spacing:-0.1px;-webkit-text-stroke:0.18px;">.vsts-pipelines</div>
<div class="row" style="left:1307.200px;top:515.0px;width:551.800px;height:35.7px"></div>
<svg class="i" style="left:1311.5px;top:524.9px" width="19.1" height="14.2" viewBox="0 32 576 384" preserveAspectRatio="none"><path fill="#0521f8" d="M572.7 260.4l-72.4 124.2A64 64 0 0 1 445 416H45c-18.5 0-30.1-20.100-20.700-36.100l72.400-124.200A64 64 0 0 1 152 224h400c18.500 0 30.100 20.100 20.700 36.400zM152 192h328v-48c0-26.500-21.500-48-48-48H272l-64-64H48C21.500 32 0 53.500 0 80v278l69.100-118.400C86.200 210.200 118 192 152 192z"/></svg>
<div class="t" style="left:1348.6px;top:526px;font-size:16.64px;line-height:16.64px;color:#0521f8;font-weight:normal;letter-spacing:-0.1px;-webkit-text-stroke:0.18px;">benchmarks</div>
<div class="row" style="left:1307.200px;top:555.1px;width:551.800px;height:37.7px"></div>
<svg class="i" style="left:1311.5px;top:564.6px" width="19.1" height="14.2" viewBox="0 32 576 384" preserveAspectRatio="none"><path fill="#0521f8" d="M572.7 260.4l-72.4 124.2A64 64 0 0 1 445 416H45c-18.5 0-30.1-20.100-20.700-36.100l72.400-124.200A64 64 0 0 1 152 224h400c18.500 0 30.100 20.100 20.700 36.400zM152 192h328v-48c0-26.500-21.500-48-48-48H272l-64-64H48C21.500 32 0 53.500 0 80v278l69.100-118.400C86.200 210.200 118 192 152 192z"/></svg>
<div class="t" style="left:1348.6px;top:566px;font-size:16.64px;line-height:16.64px;color:#0521f8;font-weight:normal;letter-spacing:-0.1px;-webkit-text-stroke:0.18px;">build</div>
<div class="row" style="left:1307.200px;top:597.3px;width:551.800px;height:35.2px"></div>
<svg class="i" style="left:1311.5px;top:606.7px" width="19.1" height="14.2" viewBox="0 32 576 384" preserveAspectRatio="none"><path fill="#0521f8" d="M572.7 260.4l-72.4 124.2A64 64 0 0 1 445 416H45c-18.5 0-30.1-20.100-20.700-36.100l72.400-124.200A64 64 0 0 1 152 224h400c18.500 0 30.100 20.100 20.700 36.400zM152 192h328v-48c0-26.500-21.500-48-48-48H272l-64-64H48C21.500 32 0 53.500 0 80v278l69.100-118.400C86.200 210.200 118 192 152 192z"/></svg>
<div class="t" style="left:1348.6px;top:608px;font-size:16.64px;line-height:16.64px;color:#0521f8;font-weight:normal;letter-spacing:-0.1px;-webkit-text-stroke:0.18px;">samples</div>
<div class="row" style="left:1307.200px;top:637.5px;width:551.800px;height:37.2px"></div>
<svg class="i" style="left:1311.5px;top:646.4px" width="19.1" height="14.2" viewBox="0 32 576 384" preserveAspectRatio="none"><path fill="#0521f8" d="M572.7 260.4l-72.4 124.2A64 64 0 0 1 445 416H45c-18.5 0-30.1-20.100-20.700-36.100l72.400-124.200A64 64 0 0 1 152 224h400c18.500 0 30.100 20.100 20.700 36.400zM152 192h328v-48c0-26.500-21.500-48-48-48H272l-64-64H48C21.500 32 0 53.500 0 80v278l69.100-118.400C86.200 210.200 118 192 152 192z"/></svg>
<div class="t" style="left:1348.6px;top:647px;font-size:16.64px;line-height:16.64px;color:#0521f8;font-weight:normal;letter-spacing:-0.1px;-webkit-text-stroke:0.18px;">src</div>
<div class="row" style="left:1307.200px;top:679.1px;width:551.800px;height:36.0px"></div>
<svg class="i" style="left:1311.5px;top:688.6px" width="19.1" height="14.2" viewBox="0 32 576 384" preserveAspectRatio="none"><path fill="#0521f8" d="M572.7 260.4l-72.4 124.2A64 64 0 0 1 445 416H45c-18.5 0-30.1-20.100-20.700-36.100l72.400-124.200A64 64 0 0 1 152 224h400c18.500 0 30.100 20.100 20.700 36.400zM152 192h328v-48c0-26.500-21.500-48-48-48H272l-64-64H48C21.500 32 0 53.500 0 80v278l69.100-118.400C86.200 210.200 118 192 152 192z"/></svg>
<div class="t" style="left:1348.6px;top:690px;font-size:16.64px;line-height:16.64px;color:#0521f8;font-weight:normal;letter-spacing:-0.1px;-webkit-text-stroke:0.18px;">test</div>
<svg class="i" style="left:1325.0px;top:725.3px" width="15.8" height="18.5" viewBox="0 0 384 512"><path fill="#0521f8" d="M224 136V0H24C10.700 0 0 10.700 0 24v464c0 13.300 10.700 24 24 24h336c13.300 0 24-10.700 24-24V160H248c-13.200 0-24-10.800-24-24zm160-14.100v6.100H256V0h6.100c6.400 0 12.500 2.500 17 7l97.900 98c4.500 4.500 7 10.600 7 16.900z"/></svg>
<div class="t" style="left:1358.4px;top:728px;font-size:16.64px;line-height:16.64px;color:#0521f8;font-weight:normal;letter-spacing:-0.1px;-webkit-text-stroke:0.18px;">NuGet.config</div>
<svg class="i" style="left:1325.0px;top:763.2px" width="15.8" height="18.5" viewBox="0 0 384 512"><path fill="#0521f8" d="M224 136V0H24C10.700 0 0 10.700 0 24v464c0 13.300 10.700 24 24 24h336c13.300 0 24-10.700 24-24V160H248c-13.200 0-24-10.800-24-24zm160-14.100v6.100H256V0h6.100c6.400 0 12.500 2.500 17 7l97.900 98c4.500 4.500 7 10.600 7 16.900z"/></svg>
<div class="t" style="left:1358.4px;top:766px;font-size:16.64px;line-height:16.64px;color:#0521f8;font-weight:normal;letter-spacing:-0.1px;-webkit-text-stroke:0.18px;">Settings.StyleCop</div>
<svg class="i" style="left:1325.0px;top:800.9px" width="15.8" height="18.5" viewBox="0 0 384 512"><path fill="#0521f8" d="M224 136V0H24C10.700 0 0 10.700 0 24v464c0 13.300 10.700 24 24 24h336c13.300 0 24-10.700 24-24V160H248c-13.200 0-24-10.800-24-24zm160-14.100v6.100H256V0h6.100c6.400 0 12.500 2.500 17 7l97.900 98c4.500 4.500 7 10.600 7 16.900z"/></svg>
<div class="t" style="left:1358.4px;top:803px;font-size:16.64px;line-height:16.64px;color:#0521f8;font-weight:normal;letter-spacing:-0.1px;-webkit-text-stroke:0.18px;">build.cmd</div>
<svg class="i" style="left:1325.0px;top:839.4px" width="15.8" height="18.5" viewBox="0 0 384 512"><path fill="#0521f8" d="M224 136V0H24C10.700 0 0 10.700 0 24v464c0 13.300 10.700 24 24 24h336c13.300 0 24-10.700 24-24V160H248c-13.200 0-24-10.800-24-24zm160-14.100v6.100H256V0h6.100c6.400 0 12.500 2.500 17 7l97.900 98c4.500 4.500 7 10.600 7 16.900z"/></svg>
<div class="t" style="left:1358.4px;top:842px;font-size:16.64px;line-height:16.64px;color:#0521f8;font-weight:normal;letter-spacing:-0.1px;-webkit-text-stroke:0.18px;">run.cmd</div>
<svg class="i" style="left:1325.0px;top:877.3px" width="15.8" height="18.5" viewBox="0 0 384 512"><path fill="#0521f8" d="M224 136V0H24C10.700 0 0 10.700 0 24v464c0 13.300 10.700 24 24 24h336c13.300 0 24-10.700 24-24V160H248c-13.200 0-24-10.800-24-24zm160-14.100v6.100H256V0h6.100c6.400 0 12.500 2.500 17 7l97.900 98c4.500 4.500 7 10.600 7 16.900z"/></svg>
<div class="t" style="left:1358.4px;top:880px;font-size:16.64px;line-height:16.64px;color:#0521f8;font-weight:normal;letter-spacing:-0.1px;-webkit-text-stroke:0.18px;">run.ps1</div>
<div style="position:absolute;left:1889.100px;top:115px;width:3.800px;height:822px;background:#c9c9c9"></div>
<div class="t" style="left:1914.4px;top:110px;font-size:25.8px;line-height:25.8px;color:#333;font-weight:bold;letter-spacing:0.08px;">Developers</div>
<div class="t" style="left:1914.3px;top:160px;font-size:20.8px;line-height:20.8px;color:#333;font-weight:normal;letter-spacing:-0.12px;-webkit-text-stroke:0.23px;">Select one or more developers to simulate their</div>
<div class="t" style="left:1914.3px;top:192px;font-size:20.8px;line-height:20.8px;color:#333;font-weight:normal;letter-spacing:-0.12px;-webkit-text-stroke:0.23px;">departure from your organization.</div>
<div class="t" style="left:1914.3px;top:240px;font-size:20.8px;line-height:20.8px;color:#999;font-weight:bold;letter-spacing:0.54px;">Filter developer names:</div>
<div style="position:absolute;left:1915.900px;top:272.100px;width:502px;height:36px;border:1px solid #c4c4c4;background:#fff"></div>
<div class="t" style="left:1918.5px;top:280px;font-size:20.8px;line-height:20.8px;color:#8a8a8a;font-weight:normal;letter-spacing:-0.12px;-webkit-text-stroke:0.23px;">A regex or a string</div>
<svg class="i" style="left:2377.400px;top:282.500px" width="15.600" height="15.600" viewBox="0 0 16 16"><path d="M1.900 1.900l12.200 12.200M14.100 1.900l-12.200 12.200" stroke="#999" stroke-width="3.700"/></svg>
<div style="position:absolute;left:1975px;top:357px;width:560px;height:749.500px;overflow:hidden">
<div style="position:absolute;left:0;top:0;width:4px;height:900px;background:#87cefa"></div>
<div class="cb" style="left:16.300px;top:5.9px"></div>
<div class="t" style="left:55.0px;top:5px;font-size:20.8px;line-height:20.8px;color:#333;font-weight:normal;letter-spacing:-0.12px;-webkit-text-stroke:0.23px;">_unmodified_</div>
<div class="cb" style="left:16.300px;top:37.9px"></div>
<div class="t" style="left:55.0px;top:37px;font-size:20.8px;line-height:20.8px;color:#333;font-weight:normal;letter-spacing:-0.12px;-webkit-text-stroke:0.23px;">Ajay Bhargav Baaskaran</div>
<div class="cb" style="left:16.300px;top:69.9px"></div>
<div class="t" style="left:55.0px;top:69px;font-size:20.8px;line-height:20.8px;color:#333;font-weight:normal;letter-spacing:-0.12px;-webkit-text-stroke:0.23px;">anpete</div>
<div class="cb" style="left:16.300px;top:101.9px"></div>
<div class="t" style="left:55.0px;top:101px;font-size:20.8px;line-height:20.8px;color:#333;font-weight:normal;letter-spacing:-0.12px;-webkit-text-stroke:0.23px;">Anthony Sneed</div>
<div class="cb" style="left:16.300px;top:133.9px"></div>
<div class="t" style="left:55.0px;top:133px;font-size:20.8px;line-height:20.8px;color:#333;font-weight:normal;letter-spacing:-0.12px;-webkit-text-stroke:0.23px;">Artak Mkrtchyan</div>
<div class="cb" style="left:16.300px;top:165.9px"></div>
<div class="t" style="left:55.0px;top:165px;font-size:20.8px;line-height:20.8px;color:#333;font-weight:normal;letter-spacing:-0.12px;-webkit-text-stroke:0.23px;">Cesar Blum Silveira</div>
<div class="cb" style="left:16.300px;top:197.9px"></div>
<div class="t" style="left:55.0px;top:197px;font-size:20.8px;line-height:20.8px;color:#333;font-weight:normal;letter-spacing:-0.12px;-webkit-text-stroke:0.23px;">cjrosa</div>
<div class="cb" style="left:16.300px;top:229.9px"></div>
<div class="t" style="left:55.0px;top:229px;font-size:20.8px;line-height:20.8px;color:#333;font-weight:normal;letter-spacing:-0.12px;-webkit-text-stroke:0.23px;">damianedwards</div>
<div class="cb" style="left:16.300px;top:261.9px"></div>
<div class="t" style="left:55.0px;top:261px;font-size:20.8px;line-height:20.8px;color:#333;font-weight:normal;letter-spacing:-0.12px;-webkit-text-stroke:0.23px;">David Fowler</div>
<div class="cb" style="left:16.300px;top:293.9px"></div>
<div class="t" style="left:55.0px;top:293px;font-size:20.8px;line-height:20.8px;color:#333;font-weight:normal;letter-spacing:-0.12px;-webkit-text-stroke:0.23px;">David Paquette</div>
<div class="cb" style="left:16.300px;top:325.9px"></div>
<div class="t" style="left:55.0px;top:325px;font-size:20.8px;line-height:20.8px;color:#333;font-weight:normal;letter-spacing:-0.12px;-webkit-text-stroke:0.23px;">Doug Bunting</div>
<div class="cb" style="left:16.300px;top:357.9px"></div>
<div class="t" style="left:55.0px;top:357px;font-size:20.8px;line-height:20.8px;color:#333;font-weight:normal;letter-spacing:-0.12px;-webkit-text-stroke:0.23px;">dougbu</div>
<div class="cb" style="left:16.300px;top:389.9px"></div>
<div class="t" style="left:55.0px;top:389px;font-size:20.8px;line-height:20.8px;color:#333;font-weight:normal;letter-spacing:-0.12px;-webkit-text-stroke:0.23px;">Fabien Lavocat</div>
<div class="cb" style="left:16.300px;top:421.9px"></div>
<div class="t" style="left:55.0px;top:421px;font-size:20.8px;line-height:20.8px;color:#333;font-weight:normal;letter-spacing:-0.12px;-webkit-text-stroke:0.23px;">Hao Kung</div>
<div class="cb" style="left:16.300px;top:453.9px"></div>
<div class="t" style="left:55.0px;top:453px;font-size:20.8px;line-height:20.8px;color:#333;font-weight:normal;letter-spacing:-0.12px;-webkit-text-stroke:0.23px;">Harsh Gupta</div>
<div class="cb" style="left:16.300px;top:485.9px"></div>
<div class="t" style="left:55.0px;top:485px;font-size:20.8px;line-height:20.8px;color:#333;font-weight:normal;letter-spacing:-0.12px;-webkit-text-stroke:0.23px;">harshgMSFT</div>
<div class="cb" style="left:16.300px;top:517.9px"></div>
<div class="t" style="left:55.0px;top:517px;font-size:20.8px;line-height:20.8px;color:#333;font-weight:normal;letter-spacing:-0.12px;-webkit-text-stroke:0.23px;">Henk Mollema</div>
<div class="cb" style="left:16.300px;top:549.9px"></div>
<div class="t" style="left:55.0px;top:549px;font-size:20.8px;line-height:20.8px;color:#333;font-weight:normal;letter-spacing:-0.12px;-webkit-text-stroke:0.23px;">Hisham Bin Ateya</div>
<div class="cb" style="left:16.300px;top:581.9px"></div>
<div class="t" style="left:55.0px;top:581px;font-size:20.8px;line-height:20.8px;color:#333;font-weight:normal;letter-spacing:-0.12px;-webkit-text-stroke:0.23px;">ianhong</div>
<div class="cb" style="left:16.300px;top:613.9px"></div>
<div class="t" style="left:55.0px;top:613px;font-size:20.8px;line-height:20.8px;color:#333;font-weight:normal;letter-spacing:-0.12px;-webkit-text-stroke:0.23px;">jacalvar</div>
<div class="cb" style="left:16.300px;top:645.9px"></div>
<div class="t" style="left:55.0px;top:645px;font-size:20.8px;line-height:20.8px;color:#333;font-weight:normal;letter-spacing:-0.12px;-webkit-text-stroke:0.23px;">James Newton-King</div>
<div class="cb" style="left:16.300px;top:677.9px"></div>
<div class="t" style="left:55.0px;top:677px;font-size:20.8px;line-height:20.8px;color:#333;font-weight:normal;letter-spacing:-0.12px;-webkit-text-stroke:0.23px;">Jaspreet Bagga</div>
<div class="cb" style="left:16.300px;top:709.9px"></div>
<div class="t" style="left:55.0px;top:709px;font-size:20.8px;line-height:20.8px;color:#333;font-weight:normal;letter-spacing:-0.12px;-webkit-text-stroke:0.23px;">Jass Bagga</div>
<div class="cb" style="left:16.300px;top:741.9px"></div>
<div class="t" style="left:55.0px;top:741px;font-size:20.8px;line-height:20.8px;color:#333;font-weight:normal;letter-spacing:-0.12px;-webkit-text-stroke:0.23px;">Javier Calvarro Nelson</div>
<div class="cb" style="left:16.300px;top:773.9px"></div>
<div class="t" style="left:55.0px;top:773px;font-size:20.8px;line-height:20.8px;color:#333;font-weight:normal;letter-spacing:-0.12px;-webkit-text-stroke:0.23px;">Jeffiy</div>
<div class="cb" style="left:16.300px;top:805.9px"></div>
<div class="t" style="left:55.0px;top:805px;font-size:20.8px;line-height:20.8px;color:#333;font-weight:normal;letter-spacing:-0.12px;-webkit-text-stroke:0.23px;">jmprieur</div>
</div>
</body></html>
